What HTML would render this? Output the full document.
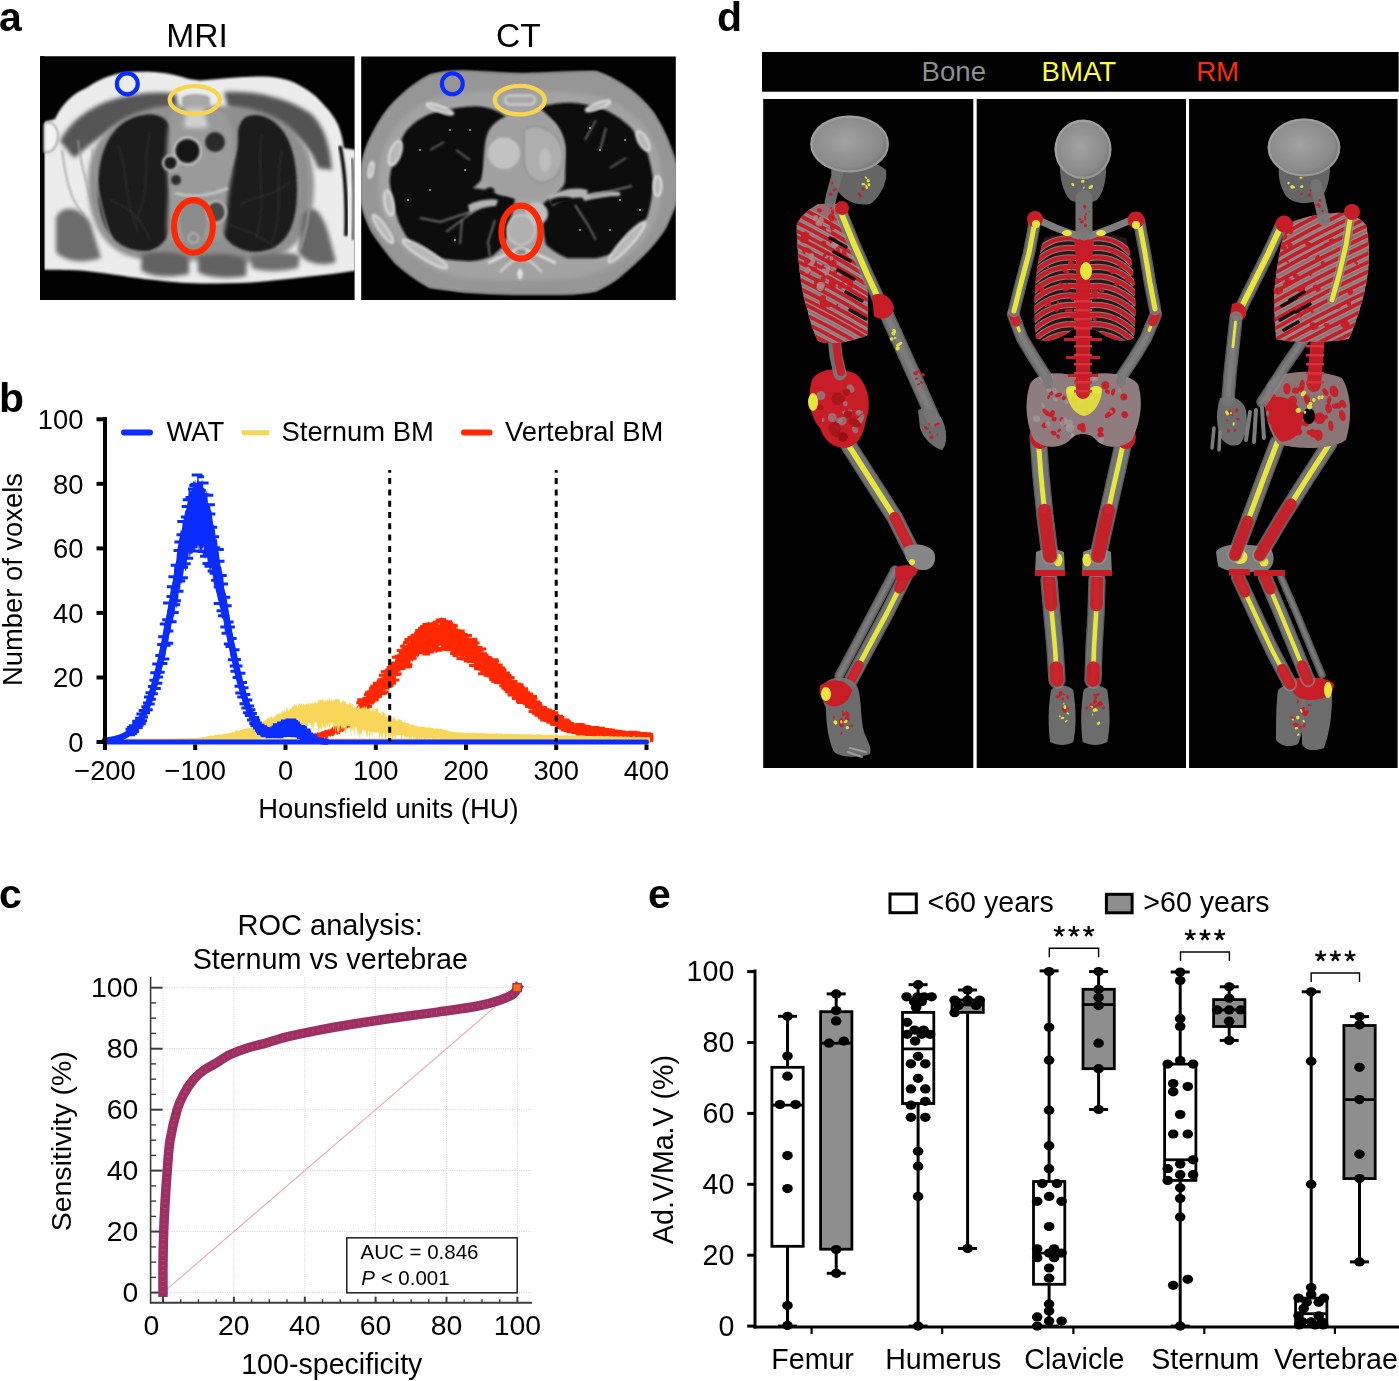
<!DOCTYPE html>
<html><head><meta charset="utf-8"><title>Figure</title>
<style>html,body{margin:0;padding:0;background:#fff;width:1399px;height:1381px;overflow:hidden}svg{display:block;opacity:0.999}text{font-family:"Liberation Sans",sans-serif}</style>
</head><body>
<svg width="1399" height="1381" viewBox="0 0 1399 1381" font-family="Liberation Sans, sans-serif">
<text x="-1.00" y="30.50" font-size="41" text-anchor="start" font-weight="bold" fill="#000" >a</text>
<text x="-1.00" y="411.50" font-size="41" text-anchor="start" font-weight="bold" fill="#000" >b</text>
<text x="-1.00" y="908.00" font-size="41" text-anchor="start" font-weight="bold" fill="#000" >c</text>
<text x="717.00" y="30.50" font-size="41" text-anchor="start" font-weight="bold" fill="#000" >d</text>
<text x="648.00" y="908.00" font-size="41" text-anchor="start" font-weight="bold" fill="#000" >e</text>
<text x="197.00" y="46.60" font-size="33.6" text-anchor="middle" font-weight="normal" fill="#000" >MRI</text>
<text x="518.40" y="46.60" font-size="33.6" text-anchor="middle" font-weight="normal" fill="#000" >CT</text>
<defs>
<clipPath id="cmri"><rect x="40" y="56.3" width="314.6" height="243.7"/></clipPath>
<clipPath id="cct"><rect x="361.2" y="56.6" width="314.6" height="243.4"/></clipPath>
<filter id="b1" x="-20%" y="-20%" width="140%" height="140%"><feGaussianBlur stdDeviation="1.1"/></filter>
<filter id="b2" x="-20%" y="-20%" width="140%" height="140%"><feGaussianBlur stdDeviation="2.2"/></filter>
<filter id="b4" x="-30%" y="-30%" width="160%" height="160%"><feGaussianBlur stdDeviation="4"/></filter>
</defs>
<g clip-path="url(#cmri)"><rect x="40" y="56" width="315" height="244" fill="#000"/><path filter="url(#b1)" fill="#ececec" d="M44,122 L55,119 C62,104 72,94 86,88 C98,80 110,75 120,73.2 C132,71.5 145,71.5 154,72 C168,73 180,76 189,79 L200,80.5 L218,79 C235,77.5 250,76.5 264,76.6 C278,77 290,80 298,84.6 C308,90 315,95 321,101.7 C330,111 335,118 338,124.6 C341,132 343,140 344,148 L356,150 L356,271 L353,271 C340,273 325,275 309,276.6 C290,279 270,281 252,282.4 C235,283.3 215,283.6 200,283.5 C185,283.3 168,281.5 154,280 C140,278.5 130,277 120,275.5 C108,274 96,272 86,271 C72,270 56,269.8 44,269.8 Z"/><rect x="40" y="56" width="4.3" height="244" fill="#000"/><path filter="url(#b1)" fill="none" stroke="#050505" stroke-width="3.5" d="M340,146 C345,170 347,200 346,236"/><path filter="url(#b1)" fill="none" stroke="#333" stroke-width="2" d="M352,158 C354,180 354,210 353,240"/><path filter="url(#b2)" fill="#555555" d="M60,141 C72,118 95,104 118,98 C138,93 160,91 176,94 L178,108 C160,110 138,114 118,126 C100,136 86,148 74,158 Z"/><path filter="url(#b2)" fill="#535353" d="M224,92 C250,90 284,96 310,113 C324,125 330,145 332,170 L318,168 C312,150 300,138 284,128 C266,118 246,112 228,108 Z"/><path filter="url(#b2)" fill="#8f8f8f" d="M88,182 C88,138 116,112 166,106 L232,106 C286,110 314,140 314,186 C314,230 294,260 252,262 L150,260 C108,258 88,228 88,182 Z"/><path filter="url(#b1)" fill="#1c1c1c" d="M98,190 C98,152 110,124 138,116 C158,111 172,118 172,138 C171,158 167,180 171,202 C174,224 170,246 148,251 C118,252 99,232 98,190 Z"/><path filter="url(#b1)" fill="#1c1c1c" d="M297,190 C297,150 286,123 262,116 C244,112 237,122 238,140 C238,160 226,180 219,205 C215,230 228,250 255,252 C285,251 297,228 297,190 Z"/><g stroke="#363636" stroke-width="1.1" fill="none" filter="url(#b1)"><path d="M118,145 C128,170 124,200 138,232"/><path d="M150,132 C142,160 152,190 136,220"/><path d="M110,200 C125,205 140,215 150,240"/><path d="M262,135 C255,165 268,200 256,238"/><path d="M282,150 C274,180 284,210 272,242"/><path d="M240,205 C252,195 268,200 290,182"/><path d="M230,225 C245,230 262,236 275,248"/></g><path filter="url(#b2)" fill="#9a9a9a" d="M172,112 C185,106 212,106 226,114 C236,130 236,160 230,185 C226,205 228,225 222,240 L168,240 C165,220 170,200 168,180 C166,160 166,130 172,112 Z"/><circle filter="url(#b1)" cx="187.5" cy="151" r="14.5" fill="#c4c4c4"/><circle filter="url(#b1)" cx="187.5" cy="151" r="12" fill="#141414"/><circle filter="url(#b1)" cx="170.4" cy="163" r="8.5" fill="#bdbdbd"/><circle filter="url(#b1)" cx="170.4" cy="163" r="6.2" fill="#1a1a1a"/><circle filter="url(#b1)" cx="215" cy="142" r="10" fill="#2c2c2c"/><circle filter="url(#b1)" cx="176" cy="180" r="5" fill="#2a2a2a"/><path filter="url(#b1)" fill="none" stroke="#c8c8c8" stroke-width="2.5" d="M175,193 C190,198 210,196 228,188"/><ellipse filter="url(#b1)" cx="216" cy="212" rx="10" ry="11" fill="#4a4a4a" stroke="#b8b8b8" stroke-width="2"/><path filter="url(#b1)" fill="#a8a8a8" d="M182,97 C190,93 202,93 210,97 L210,106 C202,110 190,110 182,106 Z"/><path filter="url(#b2)" fill="#d0d0d0" d="M186,108 L204,108 L208,128 L184,128 Z"/><ellipse filter="url(#b1)" cx="193.4" cy="222" rx="13" ry="22" fill="#8c8c8c"/><circle filter="url(#b1)" cx="193.4" cy="238" r="5" fill="none" stroke="#b4b4b4" stroke-width="2"/><path filter="url(#b2)" fill="#6c6c6c" d="M56,218 C60,206 78,204 90,222 L101,258 C86,263 66,263 56,252 Z"/><g stroke="#9a9a9a" stroke-width="1.5" fill="none" filter="url(#b1)"><path d="M62,150 C66,180 70,200 84,215"/><path d="M78,140 C82,175 92,205 104,235"/><path d="M92,148 C96,180 100,210 112,240"/></g><path filter="url(#b1)" fill="#f4f4f4" stroke="#8a8a8a" stroke-width="1.5" d="M44,124 C50,120 56,124 58,134 C58,146 52,154 44,152 Z"/><path filter="url(#b2)" fill="#666" d="M303,214 C312,204 320,208 328,232 L336,262 C322,267 306,264 298,252 Z"/><g stroke="#9a9a9a" stroke-width="2" fill="none" filter="url(#b1)"><path d="M306,150 C312,185 312,215 300,250"/></g><path filter="url(#b2)" fill="#626262" d="M142,254 C160,250 182,252 189,258 L189,274 C170,278 150,277 141,270 Z"/><path filter="url(#b2)" fill="#626262" d="M198,256 C215,252 240,254 247,260 L246,276 C228,279 208,278 198,272 Z"/><path filter="url(#b2)" fill="#6e6e6e" d="M250,256 C268,254 290,250 300,256 L298,268 C282,272 262,272 252,268 Z"/><path filter="url(#b1)" fill="none" stroke="#d8d8d8" stroke-width="2" d="M193.5,246 L193.5,282"/></g>
<circle cx="127.3" cy="83.9" r="10.45" fill="none" stroke="#0a2cff" stroke-width="4.2"/>
<ellipse cx="194.7" cy="99.95" rx="25" ry="13.9" fill="none" stroke="#f8d54e" stroke-width="4.3"/>
<ellipse cx="193.4" cy="226.4" rx="19.4" ry="26.3" fill="none" stroke="#ff2800" stroke-width="6.1"/>
<g clip-path="url(#cct)"><rect x="361" y="56" width="315" height="244" fill="#000"/><path filter="url(#b1)" fill="#969696" d="M361,170 C364,155 367,145 372,136 C379,122 386,111 395,102 C405,92 417,82 430,75.4 C442,72 453,71.3 464,71.4 C483,71.8 502,74 521,74.3 C531,74 540,73.4 550,73.2 C565,72.6 582,71.6 596,72 C608,76 620,83 630,90 C639,97 647,105 653,113 C660,124 666,136 670,147.5 C673,155 675,162 677,170 L677,199 C673,210 669,219 665,227.5 C660,236 654,243 647.5,250 C639,259 629,268 619,276.6 C612,282 604,286.5 596,290.4 C585,292.5 574,293.5 562,293.8 L516,293.8 C499,293.6 481,292.8 464,291.5 C452,290 441,288.5 430,287 C417,280 405,271 395,262 C387,252 379,242 372,231 C367,221 363,210 361,199 Z"/><path filter="url(#b1)" fill="none" stroke="#a9a9a9" stroke-width="2" d="M361,170 C364,155 367,145 372,136 C379,122 386,111 395,102 C405,92 417,82 430,75.4 C442,72 453,71.3 464,71.4 C483,71.8 502,74 521,74.3 C531,74 540,73.4 550,73.2 C565,72.6 582,71.6 596,72 C608,76 620,83 630,90 C639,97 647,105 653,113 C660,124 666,136 670,147.5 C673,155 675,162 677,170 L677,199 C673,210 669,219 665,227.5 C660,236 654,243 647.5,250 C639,259 629,268 619,276.6 C612,282 604,286.5 596,290.4 C585,292.5 574,293.5 562,293.8 L516,293.8 C499,293.6 481,292.8 464,291.5 C452,290 441,288.5 430,287 C417,280 405,271 395,262 C387,252 379,242 372,231 C367,221 363,210 361,199 Z"/><path filter="url(#b2)" fill="#a3a3a3" d="M378,185 C378,140 400,110 440,97 C480,88 560,88 600,97 C640,110 662,140 662,185 C662,230 635,262 585,276 C550,282 490,282 455,276 C405,262 378,230 378,185 Z"/><path filter="url(#b1)" fill="#0f0f0f" d="M389.6,182 C390,172 392,165 395.3,159 C398,148 401,138 406.7,130.3 C416,120 428,113 441,110.9 C452,108.5 464,106.5 475.4,106.3 C488,106.5 500,111 509.7,120 C503,126 497,131 492.5,136 C489,144 487.5,151 486.8,159 C485,166 483,173 481,180 C478,184 475,186 473,188 L487,190 C497,192 507,195 515,199 C512,215 509,231 504,244.6 C500,250 496,253 492.5,256 C485,259 477,261 469.6,261.2 C460,261 450,260 441,258.3 C431,255 421,250 412.5,244.6 C406,237 402,229 398.7,221.7 C394,208 391,195 389.6,182 Z"/><path filter="url(#b1)" fill="#0f0f0f" d="M538.9,107.5 C550,104 562,102.5 573.2,102.9 C585,103.5 597,106.5 607.5,110.9 C616,115 624,121 630.4,127 C637,135 643,144 647.5,153.2 C650,162 652,171 653.2,180 C653,192 651,204 647.5,216 C641,228 633,239 624.6,248 C615,253 606,256 596,258.3 L567.5,258.3 C559,255 552,250 545.7,244.6 C543,231 542,217 542.3,204.6 C548,199 556,195 560,190 C563,187 565,184 565.2,180 L565.2,147.5 C563,139 560,131 556,124.6 C551,118 545,112 538.9,107.5 Z"/><path filter="url(#b1)" fill="#a0a0a0" d="M488,132 C495,118 515,110 535,112 C552,116 563,128 565,145 C566,165 562,182 552,192 C540,200 520,198 505,196 C492,194 482,186 483,170 C484,155 484,142 488,132 Z"/><circle filter="url(#b1)" cx="504" cy="153.2" r="16" fill="#c2c2c2"/><path filter="url(#b1)" fill="#aeaeae" stroke="#959595" stroke-width="2" d="M524,130 C535,122 556,128 562,148 C566,165 558,178 546,182 C535,184 526,176 524,162 Z"/><ellipse filter="url(#b1)" cx="545" cy="160" rx="6" ry="12" fill="#bdbdbd"/><ellipse filter="url(#b1)" cx="490" cy="191" rx="4.5" ry="3.5" fill="#080808"/><circle filter="url(#b1)" cx="536.6" cy="213.7" r="11.4" fill="#bebebe"/><g filter="url(#b1)" fill="#b2b2b2"><path d="M548,196 C560,190 575,186 588,190 L586,198 C574,196 562,200 552,206 Z"/><path d="M582,195 C596,192 610,190 620,192 L620,196 C608,196 596,198 584,201 Z"/><path d="M468,205 C478,200 490,198 498,200 L496,206 C486,206 476,210 470,214 Z"/></g><g filter="url(#b1)" fill="#0a0a0a"><path d="M550,200 C558,196 566,196 572,198 L570,202 C562,202 556,204 550,206 Z"/></g><ellipse filter="url(#b1)" cx="521" cy="230" rx="14" ry="15" fill="#b0b0b0" stroke="#d0d0d0" stroke-width="1.5"/><path filter="url(#b1)" fill="none" stroke="#dadada" stroke-width="3" d="M488,263 C503,256 513,250 521,249 C529,250 541,256 556,263"/><path filter="url(#b1)" fill="none" stroke="#d4d4d4" stroke-width="2.2" d="M500,272 C510,262 516,258 521,256 C526,258 532,262 542,272"/><ellipse filter="url(#b1)" cx="521" cy="252" rx="6" ry="4" fill="#8e8e8e" stroke="#d0d0d0" stroke-width="1.6"/><ellipse filter="url(#b1)" cx="520" cy="274" rx="2.8" ry="5.5" fill="#dedede"/><rect filter="url(#b1)" x="505" y="95.5" width="30" height="9" rx="4.5" fill="#a8a8a8" stroke="#dedede" stroke-width="1.6"/><path filter="url(#b1)" fill="none" stroke="#9a9a9a" stroke-width="2" d="M520,104 L520,114"/><ellipse filter="url(#b1)" cx="395.3" cy="153.2" rx="5.5" ry="13" fill="#b8b8b8" stroke="#e2e2e2" stroke-width="1.8" transform="rotate(20 395.3 153.2)"/><ellipse filter="url(#b1)" cx="389" cy="203" rx="4.5" ry="12.5" fill="#b8b8b8" stroke="#e2e2e2" stroke-width="1.8" transform="rotate(-10 389 203)"/><ellipse filter="url(#b1)" cx="383" cy="229" rx="4" ry="17" fill="#b8b8b8" stroke="#e2e2e2" stroke-width="1.8" transform="rotate(-35 383 229)"/><ellipse filter="url(#b1)" cx="425" cy="254" rx="5" ry="26" fill="#b8b8b8" stroke="#e2e2e2" stroke-width="1.8" transform="rotate(-58 425 254)"/><ellipse filter="url(#b1)" cx="627" cy="242" rx="5" ry="27" fill="#b8b8b8" stroke="#e2e2e2" stroke-width="1.8" transform="rotate(42 627 242)"/><ellipse filter="url(#b1)" cx="657.5" cy="186" rx="4" ry="10" fill="#b8b8b8" stroke="#e2e2e2" stroke-width="1.8" transform="rotate(0 657.5 186)"/><ellipse filter="url(#b1)" cx="643" cy="141" rx="4.5" ry="11" fill="#b8b8b8" stroke="#e2e2e2" stroke-width="1.8" transform="rotate(-30 643 141)"/><ellipse filter="url(#b1)" cx="440" cy="109" rx="3" ry="14" fill="#b8b8b8" stroke="#e2e2e2" stroke-width="1.8" transform="rotate(-70 440 109)"/><ellipse filter="url(#b1)" cx="598" cy="106" rx="3" ry="13" fill="#b8b8b8" stroke="#e2e2e2" stroke-width="1.8" transform="rotate(70 598 106)"/><ellipse filter="url(#b1)" cx="371" cy="170" rx="2.5" ry="8" fill="#b8b8b8" stroke="#e2e2e2" stroke-width="1.8" transform="rotate(10 371 170)"/><g stroke="#8a8a8a" stroke-width="1.4" fill="none" filter="url(#b1)"><path d="M478,208 L462,220 L446,232 M462,220 L460,244 M470,212 L440,222 L420,218 M495,220 L488,242 L490,256"/><path d="M575,205 L588,225 L596,240 M590,196 L615,190 L632,186 M600,150 L606,128 M610,168 L626,158 M585,140 L596,120 M456,150 L470,160 M430,150 L444,142"/></g><g fill="#9a9a9a"><circle cx="420" cy="150" r="1.1"/><circle cx="450" cy="130" r="1.1"/><circle cx="465" cy="170" r="1.1"/><circle cx="430" cy="190" r="1.1"/><circle cx="455" cy="240" r="1.1"/><circle cx="600" cy="150" r="1.1"/><circle cx="620" cy="200" r="1.1"/><circle cx="640" cy="210" r="1.1"/><circle cx="580" cy="230" r="1.1"/><circle cx="610" cy="230" r="1.1"/><circle cx="590" cy="128" r="1.1"/><circle cx="625" cy="140" r="1.1"/><circle cx="408" cy="200" r="1.1"/><circle cx="470" cy="130" r="1.1"/></g></g>
<circle cx="452.3" cy="83.8" r="10.45" fill="none" stroke="#0a2cff" stroke-width="4.2"/>
<ellipse cx="519.8" cy="100.1" rx="25" ry="14.2" fill="none" stroke="#f8d54e" stroke-width="4.3"/>
<ellipse cx="521" cy="232.1" rx="19.6" ry="26.5" fill="none" stroke="#ff2800" stroke-width="6.1"/>
<polygon points="299.0,738.5 299.9,738.1 300.8,737.5 301.7,738.4 302.6,737.8 303.5,736.2 304.5,736.2 305.4,736.3 306.3,736.1 307.2,736.0 308.1,735.4 309.0,735.0 309.9,735.6 310.8,734.1 311.7,734.1 312.6,733.8 313.5,734.2 314.4,733.8 315.3,732.6 316.2,733.9 317.1,731.9 318.0,732.4 318.9,732.5 319.8,732.6 320.7,732.0 321.6,731.6 322.5,731.0 323.4,731.2 324.3,730.5 325.2,730.0 326.1,730.1 327.0,729.4 327.9,730.2 328.8,728.5 329.7,729.8 330.6,728.7 331.5,728.5 332.4,726.7 333.3,726.9 334.2,726.2 335.1,725.4 336.0,726.0 336.9,726.1 337.8,725.1 338.7,725.9 339.6,724.6 340.6,725.6 341.5,724.4 342.4,722.2 343.3,722.6 344.2,721.4 345.1,720.7 346.0,718.8 346.9,719.3 347.8,719.0 348.7,716.0 349.6,716.5 350.5,716.1 351.4,716.7 352.3,714.3 353.2,713.9 354.1,712.7 355.0,711.2 355.9,711.8 356.8,707.8 357.7,707.4 358.6,704.4 359.5,703.6 360.4,702.2 361.3,701.5 362.2,699.1 363.1,699.1 364.0,699.2 364.9,696.2 365.8,697.6 366.7,694.3 367.6,694.6 368.5,691.1 369.4,689.7 370.3,690.7 371.2,686.9 372.1,688.7 373.0,686.2 373.9,683.9 374.8,685.9 375.8,682.2 376.7,681.5 377.6,684.2 378.5,680.1 379.4,681.3 380.3,679.8 381.2,676.0 382.1,679.4 383.0,673.6 383.9,674.6 384.8,670.7 385.7,670.4 386.6,669.7 387.5,670.7 388.4,670.3 389.3,667.6 390.2,665.5 391.1,663.9 392.0,662.4 392.9,661.1 393.8,664.7 394.7,662.1 395.6,657.4 396.5,657.1 397.4,654.1 398.3,654.6 399.2,651.5 400.1,650.7 401.0,648.0 401.9,649.2 402.8,643.0 403.7,642.8 404.6,643.6 405.5,646.9 406.4,644.6 407.3,642.7 408.2,639.2 409.1,643.3 410.0,641.7 410.9,634.4 411.8,639.8 412.8,636.9 413.7,635.5 414.6,632.6 415.5,634.5 416.4,634.0 417.3,628.5 418.2,632.5 419.1,629.5 420.0,625.6 420.9,624.9 421.8,627.7 422.7,627.0 423.6,627.4 424.5,626.8 425.4,626.0 426.3,629.4 427.2,626.3 428.1,621.9 429.0,621.9 429.9,626.6 430.8,627.4 431.7,622.8 432.6,621.4 433.5,621.5 434.4,626.3 435.3,626.7 436.2,620.2 437.1,625.4 438.0,618.7 438.9,625.4 439.8,624.3 440.7,619.5 441.6,617.0 442.5,618.1 443.4,618.1 444.3,618.4 445.2,618.5 446.1,624.5 447.0,620.9 447.9,624.1 448.9,624.6 449.8,621.2 450.7,625.0 451.6,625.8 452.5,628.6 453.4,622.4 454.3,624.9 455.2,626.1 456.1,627.1 457.0,629.3 457.9,626.9 458.8,633.8 459.7,628.2 460.6,632.5 461.5,635.1 462.4,635.6 463.3,635.2 464.2,632.9 465.1,636.3 466.0,635.7 466.9,634.9 467.8,638.1 468.7,636.8 469.6,639.7 470.5,639.3 471.4,641.4 472.3,639.8 473.2,640.7 474.1,639.1 475.0,642.5 475.9,640.8 476.8,642.7 477.7,645.5 478.6,648.1 479.5,646.2 480.4,646.0 481.3,651.4 482.2,652.4 483.1,649.0 484.1,653.9 485.0,654.5 485.9,652.7 486.8,657.6 487.7,657.2 488.6,656.1 489.5,660.4 490.4,658.4 491.3,660.4 492.2,656.4 493.1,659.3 494.0,661.4 494.9,663.0 495.8,658.8 496.7,659.3 497.6,661.1 498.5,664.8 499.4,663.6 500.3,666.7 501.2,663.7 502.1,667.2 503.0,668.4 503.9,668.3 504.8,670.2 505.7,670.8 506.6,674.4 507.5,673.0 508.4,672.6 509.3,676.8 510.2,676.5 511.1,677.3 512.0,680.0 512.9,682.2 513.8,679.7 514.7,680.7 515.6,683.8 516.5,681.7 517.4,684.1 518.3,683.5 519.2,686.2 520.1,685.7 521.1,687.0 522.0,688.6 522.9,689.3 523.8,686.8 524.7,690.3 525.6,690.0 526.5,689.1 527.4,690.9 528.3,692.7 529.2,693.1 530.1,695.4 531.0,694.0 531.9,695.0 532.8,695.4 533.7,698.0 534.6,698.8 535.5,699.6 536.4,699.9 537.3,701.9 538.2,705.1 539.1,703.5 540.0,704.9 540.9,706.9 541.8,708.3 542.7,706.9 543.6,707.8 544.5,707.3 545.4,708.2 546.3,711.1 547.2,710.8 548.1,710.1 549.0,711.1 549.9,710.3 550.8,710.2 551.7,710.5 552.6,711.6 553.5,711.9 554.4,712.3 555.3,713.1 556.2,715.7 557.2,716.4 558.1,716.7 559.0,715.7 559.9,717.1 560.8,718.1 561.7,717.4 562.6,719.6 563.5,718.7 564.4,720.2 565.3,720.2 566.2,722.3 567.1,720.7 568.0,722.1 568.9,723.2 569.8,723.1 570.7,724.5 571.6,724.5 572.5,725.1 573.4,724.3 574.3,723.7 575.2,724.6 576.1,725.7 577.0,725.3 577.9,724.8 578.8,724.6 579.7,726.0 580.6,724.6 581.5,724.6 582.4,724.4 583.3,726.3 584.2,725.1 585.1,726.4 586.0,725.8 586.9,726.2 587.8,727.7 588.7,727.6 589.6,728.0 590.5,726.2 591.4,726.2 592.3,726.7 593.3,726.6 594.2,728.2 595.1,726.9 596.0,728.5 596.9,729.1 597.8,728.7 598.7,727.4 599.6,727.9 600.5,727.7 601.4,727.6 602.3,728.9 603.2,728.2 604.1,729.5 605.0,728.6 605.9,728.7 606.8,729.4 607.7,729.0 608.6,729.7 609.5,729.4 610.4,730.6 611.3,729.8 612.2,729.5 613.1,729.6 614.0,731.0 614.9,731.7 615.8,729.9 616.7,730.9 617.6,732.2 618.5,731.9 619.4,732.3 620.3,731.4 621.2,732.3 622.1,732.4 623.0,732.1 623.9,731.8 624.8,732.0 625.7,732.8 626.6,731.4 627.5,733.2 628.4,732.9 629.4,733.2 630.3,733.0 631.2,732.2 632.1,732.0 633.0,733.0 633.9,732.9 634.8,732.1 635.7,732.3 636.6,732.9 637.5,732.6 638.4,733.5 639.3,734.2 640.2,732.9 641.1,733.2 642.0,734.1 642.9,732.6 643.8,733.9 644.7,734.4 645.6,733.0 646.5,733.2 647.4,733.8 648.3,734.0 649.2,733.2 650.1,733.2 650.1,740.9 649.2,740.0 648.3,740.9 647.4,739.9 646.5,739.7 645.6,740.2 644.7,741.2 643.8,741.3 642.9,740.8 642.0,740.7 641.1,740.1 640.2,740.4 639.3,740.0 638.4,740.1 637.5,740.9 636.6,740.0 635.7,740.5 634.8,739.6 633.9,740.5 633.0,739.4 632.1,738.8 631.2,739.2 630.3,738.7 629.4,739.4 628.4,738.5 627.5,738.3 626.6,740.0 625.7,740.1 624.8,739.8 623.9,738.5 623.0,738.4 622.1,738.8 621.2,737.9 620.3,739.8 619.4,738.4 618.5,739.6 617.6,738.2 616.7,739.2 615.8,739.1 614.9,738.3 614.0,738.3 613.1,737.3 612.2,737.8 611.3,736.7 610.4,736.7 609.5,738.2 608.6,736.6 607.7,738.1 606.8,737.7 605.9,737.1 605.0,736.5 604.1,737.3 603.2,736.5 602.3,737.0 601.4,736.6 600.5,736.1 599.6,735.6 598.7,736.9 597.8,735.6 596.9,736.2 596.0,735.0 595.1,736.7 594.2,735.4 593.3,736.6 592.3,734.4 591.4,735.3 590.5,735.8 589.6,734.6 588.7,735.9 587.8,735.7 586.9,735.7 586.0,733.2 585.1,735.2 584.2,733.8 583.3,734.5 582.4,734.3 581.5,733.7 580.6,734.1 579.7,734.5 578.8,733.6 577.9,734.0 577.0,734.1 576.1,731.8 575.2,733.1 574.3,733.9 573.4,732.9 572.5,733.7 571.6,732.3 570.7,733.0 569.8,732.5 568.9,732.1 568.0,731.7 567.1,731.5 566.2,730.9 565.3,730.4 564.4,729.1 563.5,729.1 562.6,727.1 561.7,728.0 560.8,727.4 559.9,726.3 559.0,726.1 558.1,725.8 557.2,726.2 556.2,726.2 555.3,724.4 554.4,724.1 553.5,722.1 552.6,723.5 551.7,721.9 550.8,721.9 549.9,723.1 549.0,720.3 548.1,719.8 547.2,722.4 546.3,721.3 545.4,720.0 544.5,721.2 543.6,717.9 542.7,719.1 541.8,718.4 540.9,717.6 540.0,717.2 539.1,716.3 538.2,714.5 537.3,713.9 536.4,714.0 535.5,713.9 534.6,710.5 533.7,711.2 532.8,711.1 531.9,708.2 531.0,710.9 530.1,709.2 529.2,707.1 528.3,707.9 527.4,707.4 526.5,704.0 525.6,703.3 524.7,705.2 523.8,702.2 522.9,704.4 522.0,703.2 521.1,700.1 520.1,700.1 519.2,701.4 518.3,701.2 517.4,701.2 516.5,701.6 515.6,699.3 514.7,698.8 513.8,697.1 512.9,695.5 512.0,697.4 511.1,695.2 510.2,693.8 509.3,692.1 508.4,694.3 507.5,693.5 506.6,688.5 505.7,689.0 504.8,690.6 503.9,686.9 503.0,687.9 502.1,688.4 501.2,684.4 500.3,683.1 499.4,682.1 498.5,682.1 497.6,680.9 496.7,682.6 495.8,683.6 494.9,678.4 494.0,679.2 493.1,682.2 492.2,680.1 491.3,678.5 490.4,678.7 489.5,679.0 488.6,676.3 487.7,677.7 486.8,674.0 485.9,678.1 485.0,675.2 484.1,671.5 483.1,670.5 482.2,671.0 481.3,673.1 480.4,672.4 479.5,666.7 478.6,667.5 477.7,670.0 476.8,664.2 475.9,667.2 475.0,664.2 474.1,664.6 473.2,661.9 472.3,662.8 471.4,659.3 470.5,660.2 469.6,662.6 468.7,662.0 467.8,664.1 466.9,661.9 466.0,657.2 465.1,658.0 464.2,655.8 463.3,660.8 462.4,657.7 461.5,659.6 460.6,655.7 459.7,656.6 458.8,654.3 457.9,658.3 457.0,653.9 456.1,654.2 455.2,651.7 454.3,655.7 453.4,653.1 452.5,651.8 451.6,651.9 450.7,651.5 449.8,650.9 448.9,648.6 447.9,651.7 447.0,646.0 446.1,649.7 445.2,644.3 444.3,650.8 443.4,647.6 442.5,651.7 441.6,647.4 440.7,645.5 439.8,645.6 438.9,645.9 438.0,651.5 437.1,652.4 436.2,653.1 435.3,652.6 434.4,649.3 433.5,649.7 432.6,649.2 431.7,647.7 430.8,648.6 429.9,651.6 429.0,649.3 428.1,652.9 427.2,649.1 426.3,653.0 425.4,651.0 424.5,654.8 423.6,651.4 422.7,651.6 421.8,654.3 420.9,652.5 420.0,654.8 419.1,653.6 418.2,657.5 417.3,656.7 416.4,656.1 415.5,658.7 414.6,659.4 413.7,658.2 412.8,661.6 411.8,661.1 410.9,659.5 410.0,666.1 409.1,666.6 408.2,668.3 407.3,665.8 406.4,666.1 405.5,668.5 404.6,665.0 403.7,671.3 402.8,666.5 401.9,667.6 401.0,668.5 400.1,673.8 399.2,671.2 398.3,672.1 397.4,676.9 396.5,674.6 395.6,678.7 394.7,681.5 393.8,680.2 392.9,682.5 392.0,681.9 391.1,684.1 390.2,688.7 389.3,688.0 388.4,689.8 387.5,688.9 386.6,688.7 385.7,687.9 384.8,692.3 383.9,689.5 383.0,690.4 382.1,691.7 381.2,696.8 380.3,696.5 379.4,697.4 378.5,698.9 377.6,699.5 376.7,699.8 375.8,698.8 374.8,701.2 373.9,699.3 373.0,703.2 372.1,704.4 371.2,703.9 370.3,704.0 369.4,707.2 368.5,707.1 367.6,708.6 366.7,710.5 365.8,710.2 364.9,711.9 364.0,712.8 363.1,711.5 362.2,714.9 361.3,714.0 360.4,714.0 359.5,716.2 358.6,717.5 357.7,718.4 356.8,718.2 355.9,722.8 355.0,721.9 354.1,724.2 353.2,724.7 352.3,726.3 351.4,725.0 350.5,725.7 349.6,728.0 348.7,727.1 347.8,728.4 346.9,727.9 346.0,729.3 345.1,729.7 344.2,730.4 343.3,731.3 342.4,732.3 341.5,731.3 340.6,732.0 339.6,734.2 338.7,733.7 337.8,734.8 336.9,734.9 336.0,732.9 335.1,733.3 334.2,735.2 333.3,736.2 332.4,736.6 331.5,735.2 330.6,737.0 329.7,735.9 328.8,735.8 327.9,738.2 327.0,737.4 326.1,738.6 325.2,738.1 324.3,737.5 323.4,739.4 322.5,737.9 321.6,738.2 320.7,738.3 319.8,739.2 318.9,739.7 318.0,740.1 317.1,740.0 316.2,740.6 315.3,741.1 314.4,739.6 313.5,740.1 312.6,740.1 311.7,740.4 310.8,741.5 309.9,742.0 309.0,741.8 308.1,742.0 307.2,742.0 306.3,741.9 305.4,742.0 304.5,742.0 303.5,742.0 302.6,742.0 301.7,742.0 300.8,742.0 299.9,742.0 299.0,742.0" fill="#ff2800"/>
<path d="M359.5,709.3 L360.4,708.0 L361.3,707.1 L362.2,706.6 L363.1,705.9 L364.0,705.1 L364.9,704.1 L365.8,703.1 L366.7,702.0 L367.6,700.8 L368.5,699.7 L369.4,698.5 L370.3,697.3 L371.2,696.2 L372.1,695.1 L373.0,694.0 L373.9,693.1 L374.8,692.3 L375.8,691.6 L376.7,691.0 L377.6,690.4 L378.5,689.7 L379.4,688.8 L380.3,687.7 L381.2,686.6 L382.1,685.4 L383.0,684.2 L383.9,683.0 L384.8,681.9 L385.7,680.7 L386.6,679.7 L387.5,678.8 L388.4,678.0 L389.3,677.5 L390.2,676.7 L391.1,675.7 L392.0,674.5 L392.9,673.2 L393.8,671.8 L394.7,670.2 L395.6,668.6 L396.5,667.0 L397.4,665.3 L398.3,663.7 L399.2,662.2 L400.1,660.7 L401.0,659.4 L401.9,658.2 L402.8,657.3 L403.7,656.5 L404.6,656.0 L405.5,655.4 L406.4,654.7 L407.3,653.9 L408.2,653.0 L409.1,652.0 L410.0,651.0 L410.9,650.0 L411.8,648.9 L412.8,647.9 L413.7,646.8 L414.6,645.8 L415.5,644.8 L416.4,643.9 L417.3,643.0 L418.2,642.2 L419.1,641.4 L420.0,640.8 L420.9,640.3 L421.8,640.2 L422.7,640.0 L423.6,639.9 L424.5,639.6 L425.4,639.4 L426.3,639.2 L427.2,638.9 L428.1,638.6 L429.0,638.3 L429.9,638.0 L430.8,637.7 L431.7,637.4 L432.6,637.1 L433.5,636.8 L434.4,636.5 L435.3,636.2 L436.2,635.9 L437.1,635.6 L438.0,635.3 L438.9,635.1 L439.8,634.8 L440.7,634.6 L441.6,634.4 L442.5,634.2 L443.4,634.0 L444.3,633.9 L445.2,634.2 L446.1,634.6 L447.0,635.0 L447.9,635.5 L448.9,636.1 L449.8,636.6 L450.7,637.3 L451.6,637.9 L452.5,638.6 L453.4,639.3 L454.3,640.0 L455.2,640.7 L456.1,641.4 L457.0,642.1 L457.9,642.8 L458.8,643.4 L459.7,644.1 L460.6,644.7 L461.5,645.3 L462.4,645.8 L463.3,646.3 L464.2,646.8 L465.1,647.1 L466.0,647.4 L466.9,647.9 L467.8,648.3 L468.7,648.9 L469.6,649.5 L470.5,650.1 L471.4,650.8 L472.3,651.6 L473.2,652.4 L474.1,653.2 L475.0,654.0 L475.9,654.9 L476.8,655.8 L477.7,656.7 L478.6,657.7 L479.5,658.6 L480.4,659.5 L481.3,660.4 L482.2,661.3 L483.1,662.2 L484.1,663.1 L485.0,664.0 L485.9,664.8 L486.8,665.6 L487.7,666.3 L488.6,667.0 L489.5,667.7 L490.4,668.3 L491.3,668.8 L492.2,669.3 L493.1,669.7 L494.0,670.2 L494.9,670.7 L495.8,671.2 L496.7,671.9 L497.6,672.6 L498.5,673.3 L499.4,674.1 L500.3,675.0 L501.2,675.9 L502.1,676.8 L503.0,677.7 L503.9,678.7 L504.8,679.7 L505.7,680.7 L506.6,681.7 L507.5,682.6 L508.4,683.6 L509.3,684.6 L510.2,685.6 L511.1,686.5 L512.0,687.4 L512.9,688.3 L513.8,689.2 L514.7,690.0 L515.6,690.7 L516.5,691.4 L517.4,692.1 L518.3,692.6 L519.2,693.2 L520.1,693.6 L521.1,694.0 L522.0,694.5 L522.9,695.0 L523.8,695.6 L524.7,696.3 L525.6,697.0 L526.5,697.8 L527.4,698.6 L528.3,699.4 L529.2,700.3 L530.1,701.2 L531.0,702.1 L531.9,703.0 L532.8,703.9 L533.7,704.9 L534.6,705.8 L535.5,706.7 L536.4,707.6 L537.3,708.5 L538.2,709.4 L539.1,710.2 L540.0,711.0 L540.9,711.8 L541.8,712.5 L542.7,713.2 L543.6,713.8 L544.5,714.3 L545.4,714.8 L546.3,715.2 L547.2,715.5 L548.1,715.7 L549.0,716.1 L549.9,716.4 L550.8,716.8 L551.7,717.2 L552.6,717.7 L553.5,718.1 L554.4,718.6 L555.3,719.1 L556.2,719.7 L557.2,720.2 L558.1,720.7 L559.0,721.3 L559.9,721.8 L560.8,722.4 L561.7,722.9 L562.6,723.5 L563.5,724.0 L564.4,724.5 L565.3,725.0 L566.2,725.5 L567.1,726.0 L568.0,726.4 L568.9,726.9 L569.8,727.2 L570.7,727.6 L571.6,727.9 L572.5,728.2 L573.4,728.4 L574.3,728.5 L575.2,728.6 L576.1,728.7 L577.0,728.8 L577.9,728.9 L578.8,729.1 L579.7,729.2 L580.6,729.3 L581.5,729.5 L582.4,729.6 L583.3,729.8 L584.2,730.0 L585.1,730.1 L586.0,730.3 L586.9,730.5 L587.8,730.6 L588.7,730.8 L589.6,731.0 L590.5,731.1 L591.4,731.3 L592.3,731.4 L593.3,731.6 L594.2,731.7 L595.1,731.8 L596.0,732.0 L596.9,732.1 L597.8,732.2 L598.7,732.2 L599.6,732.3 L600.5,732.4 L601.4,732.5 L602.3,732.6 L603.2,732.7 L604.1,732.8 L605.0,732.9 L605.9,733.0 L606.8,733.1 L607.7,733.3 L608.6,733.4 L609.5,733.6 L610.4,733.7 L611.3,733.9 L612.2,734.0 L613.1,734.2 L614.0,734.3 L614.9,734.4 L615.8,734.6 L616.7,734.7 L617.6,734.9 L618.5,735.0 L619.4,735.1 L620.3,735.2 L621.2,735.3 L622.1,735.4 L623.0,735.5 L623.9,735.5 L624.8,735.6 L625.7,735.6 L626.6,735.7 L627.5,735.7 L628.4,735.8 L629.4,735.9 L630.3,735.9 L631.2,736.0 L632.1,736.1 L633.0,736.1 L633.9,736.2 L634.8,736.3 L635.7,736.4 L636.6,736.5 L637.5,736.6 L638.4,736.6 L639.3,736.7 L640.2,736.8 L641.1,736.9 L642.0,737.0 L642.9,737.0 L643.8,737.1 L644.7,737.2 L645.6,737.2 L646.5,737.3 L647.4,737.4 L648.3,737.4 L649.2,737.4 L650.1,737.5" fill="none" stroke="#ff2800" stroke-width="7" stroke-linejoin="round" stroke-linecap="round"/>
<path d="M356.3,702.7h6.3M356.3,715.8h6.3M357.2,699.8h8.1M357.2,714.5h8.1M359.0,700.2h8.2M359.0,711.5h8.2M362.3,698.6h5.2M362.3,709.6h5.2M363.8,694.8h5.9M363.8,709.2h5.9M365.0,692.8h7.1M365.0,706.5h7.1M366.6,691.7h7.5M366.6,703.0h7.5M368.9,688.5h6.4M368.9,701.6h6.4M370.2,686.2h7.5M370.2,700.0h7.5M372.8,683.2h5.9M372.8,699.9h5.9M374.6,684.1h5.9M374.6,696.8h5.9M376.8,681.2h5.2M376.8,696.3h5.2M377.4,679.8h7.6M377.4,693.5h7.6M378.8,675.3h8.3M378.8,693.2h8.3M380.8,671.7h8.0M380.8,692.0h8.0M383.8,671.5h5.5M383.8,687.9h5.5M385.1,669.9h6.5M385.1,686.2h6.5M386.8,667.6h6.8M386.8,685.7h6.8M388.1,665.9h7.9M388.1,683.2h7.9M390.5,663.2h6.5M390.5,680.3h6.5M391.7,657.3h7.7M391.7,679.9h7.7M394.5,656.2h5.7M394.5,674.5h5.7M396.7,650.5h4.9M396.7,673.9h4.9M397.6,650.5h6.8M397.6,668.4h6.8M400.1,646.3h5.5M400.1,668.2h5.5M401.8,647.1h5.6M401.8,664.9h5.6M403.2,642.4h6.5M403.2,667.0h6.5M404.4,639.5h7.6M404.4,666.5h7.6M407.5,637.3h5.0M407.5,664.7h5.0M409.4,638.9h4.9M409.4,659.0h4.9M410.6,635.4h6.1M410.6,658.3h6.1M412.1,635.1h6.8M412.1,654.5h6.8M414.3,632.9h6.0M414.3,653.1h6.0M415.2,630.4h7.7M415.2,652.4h7.7M418.0,628.4h5.8M418.0,652.3h5.8M419.5,630.0h6.4M419.5,650.1h6.4M420.9,626.5h7.3M420.9,652.8h7.3M422.4,624.5h7.7M422.4,653.9h7.7M425.4,627.4h5.4M425.4,649.9h5.4M426.1,624.0h7.7M426.1,652.1h7.7M427.8,624.7h7.8M427.8,650.2h7.8M430.6,623.8h5.9M430.6,649.8h5.9M432.8,625.2h5.0M432.8,647.2h5.0M433.1,622.0h8.0M433.1,649.3h8.0M435.7,620.0h6.5M435.7,650.2h6.5M436.7,620.7h8.2M436.7,648.5h8.2M439.0,619.5h7.0M439.0,648.9h7.0M441.0,621.3h6.7M441.0,646.5h6.7M443.4,623.4h5.5M443.4,645.8h5.5M443.8,621.7h8.4M443.8,649.4h8.4M446.6,623.6h6.3M446.6,649.7h6.3M448.3,626.1h6.5M448.3,649.8h6.5M450.1,625.2h6.5M450.1,653.4h6.5M452.4,625.9h5.4M452.4,655.5h5.4M453.6,630.8h6.7M453.6,653.4h6.7M454.8,631.8h7.9M454.8,655.1h7.9M456.5,631.0h8.2M456.5,658.4h8.2M459.9,633.4h5.0M459.9,658.3h5.0M460.8,634.6h6.8M460.8,658.9h6.8M463.1,635.8h5.9M463.1,659.1h5.9M463.8,635.6h8.1M463.8,661.0h8.1M466.0,639.9h7.2M466.0,659.1h7.2M468.1,640.0h6.7M468.1,661.6h6.7M469.1,639.2h8.3M469.1,665.5h8.3M472.2,642.3h5.6M472.2,665.8h5.6M474.1,642.9h5.5M474.1,668.7h5.5M474.7,647.4h7.8M474.7,667.9h7.8M477.5,649.7h5.8M477.5,669.3h5.8M478.1,648.9h8.2M478.1,673.7h8.2M480.9,653.7h6.3M480.9,672.6h6.3M483.2,655.6h5.4M483.2,674.0h5.4M483.5,657.4h8.3M483.5,675.2h8.3M486.6,659.6h5.7M486.6,675.8h5.7M488.7,660.3h5.2M488.7,677.3h5.2M489.3,660.0h7.5M489.3,679.4h7.5M491.3,659.8h7.1M491.3,681.6h7.1M494.2,661.2h4.9M494.2,682.6h4.9M494.4,664.9h8.3M494.4,681.8h8.3M497.4,667.5h5.8M497.4,682.5h5.8M499.2,667.9h5.8M499.2,685.7h5.8M501.4,669.8h5.1M501.4,687.6h5.1M501.6,673.0h8.3M501.6,688.3h8.3M503.5,675.5h8.1M503.5,689.8h8.1M505.1,677.5h8.4M505.1,691.7h8.4M507.5,677.9h7.2M507.5,695.1h7.2M510.4,681.6h5.1M510.4,695.0h5.1M512.0,681.4h5.5M512.0,698.5h5.5M512.7,684.8h7.8M512.7,698.0h7.8M515.8,684.0h5.1M515.8,701.3h5.1M516.8,684.8h6.8M516.8,702.4h6.8M519.3,687.6h5.3M519.3,701.4h5.3M519.6,688.8h8.4M519.6,702.5h8.4M522.9,690.6h5.4M522.9,703.4h5.4M524.7,692.7h5.3M524.7,704.4h5.3M525.1,694.0h8.1M525.1,706.6h8.1M528.2,696.7h5.6M528.2,707.5h5.6M528.6,696.4h8.4M528.6,711.5h8.4M531.7,698.3h5.8M531.7,713.3h5.8M532.3,702.0h8.2M532.3,713.3h8.2M534.5,703.6h7.4M534.5,715.2h7.4M537.5,705.8h5.0M537.5,716.3h5.0M538.1,707.3h7.5M538.1,717.7h7.5M540.2,707.7h6.9M540.2,719.9h6.9M542.0,709.5h6.8M542.0,720.1h6.8M543.8,710.3h6.8M543.8,720.6h6.8M546.2,710.1h5.6M546.2,722.0h5.6M546.8,711.5h8.2M546.8,722.2h8.2M549.9,711.9h5.5M549.9,723.5h5.5M550.5,712.7h7.8M550.5,724.6h7.8M553.3,715.5h5.8M553.3,723.9h5.8M555.5,716.6h5.1M555.5,724.9h5.1M556.7,716.2h6.3M556.7,727.4h6.3M559.0,717.6h5.3M559.0,728.2h5.3M559.5,720.5h7.9M559.5,727.6h7.9M561.1,720.1h8.4M561.1,729.9h8.4M563.7,721.4h6.7M563.7,730.6h6.7M566.3,722.2h5.2M566.3,731.5h5.2M567.5,723.4h6.4M567.5,731.8h6.4M569.0,724.7h7.0M569.0,731.7h7.0M571.0,724.8h6.7M571.0,732.3h6.7M573.1,724.9h6.0M573.1,732.5h6.0M574.4,725.2h7.0M574.4,732.7h7.0M575.6,724.4h8.2M575.6,734.0h8.2M577.6,724.9h7.8M577.6,734.0h7.8M579.2,726.2h8.3M579.2,733.4h8.3M582.5,726.6h5.3M582.5,733.6h5.3M583.2,726.6h7.5M583.2,734.3h7.5M585.2,727.2h7.2M585.2,734.4h7.2M586.4,727.7h8.3M586.4,734.6h8.3M589.1,727.7h6.6M589.1,735.1h6.6M590.2,727.9h8.0M590.2,735.5h8.0M592.6,727.5h6.7M592.6,736.4h6.7M594.2,728.6h7.1M594.2,735.8h7.1M596.4,729.3h6.4M596.4,735.3h6.4M597.6,728.3h7.6M597.6,736.7h7.6M599.2,729.7h7.9M599.2,735.6h7.9M600.8,729.4h8.3M600.8,736.3h8.3M604.0,729.7h5.7M604.0,736.5h5.7M604.6,729.8h8.0M604.6,737.1h8.0M606.4,730.3h7.9M606.4,737.2h7.9M609.1,730.2h6.2M609.1,737.8h6.2M610.7,731.1h6.7M610.7,737.5h6.7M612.7,731.3h6.2M612.7,737.9h6.2M613.6,731.2h8.0M613.6,738.5h8.0M616.7,731.6h5.4M616.7,738.6h5.4M618.1,732.3h6.2M618.1,738.3h6.2M620.3,731.9h5.4M620.3,739.0h5.4M621.8,732.8h6.0M621.8,738.4h6.0M624.1,732.6h5.0M624.1,738.7h5.0M624.4,732.4h8.1M624.4,739.2h8.1M626.5,732.5h7.5M626.5,739.3h7.5M628.1,732.3h7.8M628.1,739.9h7.8M630.6,732.3h6.4M630.6,740.1h6.4M633.0,732.8h5.3M633.0,739.9h5.3M634.4,732.8h6.2M634.4,740.4h6.2M635.3,733.5h8.0M635.3,739.9h8.0M638.3,733.9h5.6M638.3,739.8h5.6M639.4,733.4h7.0M639.4,740.7h7.0M642.2,734.5h5.0M642.2,739.8h5.0M644.0,734.3h4.9M644.0,740.3h4.9M645.5,733.8h5.5M645.5,741.0h5.5M647.0,734.6h6.3M647.0,740.4h6.3" stroke="#ff2800" stroke-width="3" fill="none"/>
<polygon points="105.0,741.0 105.8,741.0 106.6,740.9 107.4,740.8 108.2,741.0 109.1,741.0 109.9,740.5 110.7,740.8 111.5,741.0 112.3,741.0 113.1,740.7 113.9,740.4 114.7,741.0 115.6,741.0 116.4,740.9 117.2,740.9 118.0,740.4 118.8,740.5 119.6,740.9 120.4,740.8 121.2,740.6 122.1,740.3 122.9,741.0 123.7,740.8 124.5,741.0 125.3,740.5 126.1,741.0 126.9,740.1 127.7,740.5 128.6,740.4 129.4,740.9 130.2,740.7 131.0,740.5 131.8,740.1 132.6,740.4 133.4,740.6 134.2,739.9 135.1,740.2 135.9,740.3 136.7,740.6 137.5,740.5 138.3,739.9 139.1,740.6 139.9,740.2 140.7,740.1 141.6,740.3 142.4,739.9 143.2,739.8 144.0,739.8 144.8,739.9 145.6,740.4 146.4,740.5 147.2,740.2 148.0,740.3 148.9,740.4 149.7,739.7 150.5,740.3 151.3,739.7 152.1,739.6 152.9,740.4 153.7,739.6 154.5,740.0 155.4,740.2 156.2,740.2 157.0,740.3 157.8,739.8 158.6,739.9 159.4,739.4 160.2,739.4 161.0,740.1 161.9,739.7 162.7,739.7 163.5,739.9 164.3,739.8 165.1,739.7 165.9,739.3 166.7,739.6 167.5,739.7 168.4,739.6 169.2,739.3 170.0,739.2 170.8,739.4 171.6,739.0 172.4,739.4 173.2,738.9 174.0,738.9 174.9,739.3 175.7,738.7 176.5,739.0 177.3,738.8 178.1,738.7 178.9,738.6 179.7,738.8 180.5,739.1 181.4,738.4 182.2,738.3 183.0,738.6 183.8,738.5 184.6,738.7 185.4,738.1 186.2,738.2 187.0,738.7 187.8,738.0 188.7,737.9 189.5,738.4 190.3,737.8 191.1,738.3 191.9,738.5 192.7,738.0 193.5,738.3 194.3,737.9 195.2,738.0 196.0,738.5 196.8,738.0 197.6,737.6 198.4,737.9 199.2,737.7 200.0,737.3 200.8,737.6 201.7,737.4 202.5,737.2 203.3,736.8 204.1,737.3 204.9,737.3 205.7,736.5 206.5,736.5 207.3,736.6 208.2,735.9 209.0,735.8 209.8,736.0 210.6,735.4 211.4,735.4 212.2,735.3 213.0,735.7 213.8,735.8 214.7,735.0 215.5,734.8 216.3,735.1 217.1,734.8 217.9,734.6 218.7,734.8 219.5,734.3 220.3,734.4 221.2,734.5 222.0,734.7 222.8,734.1 223.6,734.3 224.4,733.8 225.2,734.1 226.0,733.8 226.8,733.8 227.6,733.4 228.5,733.1 229.3,733.3 230.1,733.2 230.9,732.6 231.7,732.6 232.5,732.1 233.3,732.2 234.1,732.1 235.0,731.4 235.8,730.8 236.6,730.6 237.4,730.7 238.2,730.6 239.0,730.7 239.8,730.3 240.6,730.0 241.5,729.2 242.3,729.8 243.1,728.8 243.9,729.1 244.7,729.0 245.5,729.0 246.3,728.1 247.1,728.7 248.0,728.2 248.8,728.2 249.6,728.4 250.4,728.1 251.2,727.2 252.0,727.1 252.8,726.8 253.6,726.3 254.5,726.8 255.3,725.8 256.1,725.4 256.9,725.5 257.7,724.8 258.5,723.9 259.3,724.1 260.1,723.2 261.0,723.3 261.8,722.4 262.6,722.3 263.4,721.6 264.2,721.2 265.0,720.3 265.8,719.9 266.6,719.7 267.5,717.8 268.3,718.7 269.1,716.3 269.9,718.9 270.7,716.9 271.5,716.3 272.3,717.0 273.1,718.6 273.9,717.6 274.8,714.8 275.6,716.9 276.4,713.7 277.2,714.8 278.0,712.6 278.8,714.9 279.6,712.5 280.4,715.0 281.3,711.6 282.1,711.1 282.9,711.0 283.7,713.3 284.5,708.8 285.3,712.6 286.1,710.4 286.9,706.5 287.8,710.0 288.6,710.9 289.4,709.5 290.2,708.2 291.0,709.0 291.8,707.0 292.6,706.3 293.4,706.7 294.3,703.8 295.1,705.8 295.9,704.8 296.7,704.6 297.5,707.6 298.3,704.5 299.1,704.1 299.9,703.2 300.8,704.8 301.6,702.6 302.4,706.2 303.2,703.4 304.0,704.0 304.8,705.3 305.6,705.4 306.4,703.2 307.3,703.4 308.1,705.5 308.9,700.6 309.7,705.0 310.5,703.5 311.3,703.4 312.1,701.5 312.9,704.6 313.7,703.7 314.6,701.7 315.4,701.7 316.2,703.9 317.0,701.3 317.8,703.9 318.6,698.7 319.4,700.5 320.2,700.1 321.1,699.1 321.9,701.6 322.7,698.7 323.5,700.0 324.3,702.1 325.1,698.9 325.9,701.5 326.7,700.5 327.6,698.7 328.4,701.5 329.2,697.6 330.0,700.4 330.8,701.0 331.6,698.7 332.4,701.9 333.2,700.1 334.1,700.7 334.9,699.8 335.7,698.6 336.5,699.5 337.3,698.8 338.1,699.6 338.9,699.6 339.7,700.1 340.6,704.1 341.4,703.3 342.2,700.7 343.0,700.8 343.8,700.8 344.6,701.4 345.4,701.2 346.2,704.6 347.1,703.6 347.9,704.6 348.7,705.3 349.5,702.0 350.3,702.8 351.1,706.4 351.9,702.8 352.7,704.9 353.5,707.9 354.4,706.9 355.2,707.5 356.0,707.1 356.8,708.4 357.6,706.9 358.4,706.0 359.2,706.3 360.0,707.7 360.9,709.1 361.7,707.5 362.5,707.2 363.3,707.6 364.1,707.5 364.9,705.7 365.7,708.4 366.5,706.1 367.4,708.9 368.2,708.5 369.0,708.9 369.8,707.6 370.6,711.1 371.4,711.0 372.2,710.7 373.0,707.7 373.9,707.7 374.7,712.4 375.5,708.7 376.3,708.8 377.1,707.6 377.9,708.5 378.7,713.2 379.5,713.5 380.4,712.8 381.2,714.6 382.0,715.0 382.8,710.6 383.6,712.1 384.4,712.5 385.2,717.1 386.0,712.4 386.9,717.5 387.7,716.3 388.5,715.5 389.3,715.3 390.1,718.6 390.9,715.6 391.7,718.1 392.5,719.5 393.3,717.3 394.2,716.8 395.0,718.8 395.8,719.8 396.6,720.4 397.4,720.5 398.2,719.1 399.0,719.2 399.8,719.7 400.7,720.4 401.5,718.9 402.3,722.1 403.1,722.1 403.9,722.0 404.7,722.5 405.5,722.5 406.3,723.3 407.2,722.6 408.0,723.3 408.8,723.3 409.6,724.4 410.4,724.6 411.2,724.6 412.0,724.6 412.8,724.6 413.7,725.3 414.5,725.6 415.3,725.8 416.1,726.2 416.9,726.0 417.7,726.1 418.5,726.7 419.3,726.9 420.2,726.4 421.0,726.8 421.8,726.7 422.6,726.6 423.4,726.8 424.2,726.6 425.0,727.6 425.8,727.7 426.7,727.5 427.5,727.2 428.3,727.3 429.1,727.8 429.9,727.4 430.7,727.5 431.5,728.2 432.3,727.9 433.1,728.4 434.0,728.6 434.8,728.9 435.6,728.5 436.4,728.6 437.2,728.3 438.0,728.4 438.8,729.1 439.6,728.5 440.5,728.7 441.3,729.0 442.1,729.2 442.9,729.6 443.7,729.5 444.5,729.9 445.3,730.0 446.1,729.9 447.0,730.7 447.8,730.3 448.6,731.2 449.4,730.9 450.2,731.3 451.0,731.6 451.8,731.6 452.6,731.9 453.5,731.9 454.3,732.0 455.1,731.9 455.9,732.9 456.7,732.5 457.5,732.2 458.3,732.5 459.1,732.6 460.0,732.3 460.8,733.1 461.6,732.4 462.4,732.6 463.2,732.7 464.0,732.9 464.8,732.7 465.6,733.2 466.5,732.8 467.3,733.1 468.1,732.4 468.9,732.6 469.7,732.9 470.5,732.7 471.3,733.0 472.1,732.9 472.9,733.3 473.8,732.6 474.6,732.8 475.4,732.8 476.2,733.5 477.0,732.8 477.8,733.6 478.6,733.1 479.4,733.2 480.3,733.6 481.1,733.3 481.9,732.8 482.7,733.1 483.5,733.5 484.3,733.0 485.1,733.5 485.9,733.0 486.8,733.5 487.6,733.8 488.4,733.0 489.2,733.9 490.0,733.7 490.8,733.2 491.6,733.9 492.4,733.5 493.3,733.2 494.1,733.5 494.9,733.7 495.7,733.4 496.5,733.3 497.3,733.6 498.1,733.6 498.9,733.9 499.8,733.8 500.6,733.3 501.4,733.3 502.2,734.3 503.0,734.1 503.8,734.1 504.6,733.5 505.4,734.1 506.3,734.2 507.1,733.6 507.9,734.2 508.7,733.4 509.5,734.0 510.3,733.5 511.1,733.6 511.9,734.2 512.7,733.7 513.6,734.1 514.4,734.3 515.2,734.4 516.0,733.8 516.8,734.0 517.6,734.2 518.4,733.7 519.2,734.4 520.1,734.1 520.9,734.5 521.7,734.3 522.5,733.8 523.3,734.2 524.1,734.5 524.9,734.5 525.7,734.1 526.6,734.5 527.4,733.9 528.2,734.7 529.0,734.0 529.8,734.2 530.6,734.1 531.4,734.5 532.2,734.8 533.1,734.8 533.9,734.3 534.7,734.9 535.5,734.9 536.3,734.3 537.1,734.2 537.9,734.2 538.7,734.3 539.6,734.6 540.4,734.3 541.2,734.5 542.0,734.7 542.8,734.8 543.6,735.2 544.4,735.2 545.2,735.1 546.1,734.9 546.9,735.3 547.7,734.5 548.5,734.9 549.3,734.7 550.1,734.6 550.9,735.3 551.7,734.7 552.5,734.6 553.4,735.3 554.2,735.5 555.0,734.9 555.8,734.8 556.6,734.9 557.4,735.3 558.2,735.2 559.0,735.7 559.9,735.6 560.7,735.4 561.5,735.1 562.3,735.8 563.1,735.0 563.9,735.9 564.7,735.0 565.5,735.7 566.4,735.2 567.2,735.2 568.0,735.1 568.8,735.6 569.6,735.4 570.4,735.8 571.2,735.3 572.0,736.0 572.9,735.3 573.7,735.6 574.5,736.1 575.3,735.3 576.1,735.9 576.9,736.2 577.7,736.0 578.5,736.2 579.4,736.0 580.2,735.6 581.0,735.4 581.8,735.7 582.6,735.5 583.4,735.6 584.2,735.7 585.0,736.0 585.9,736.1 586.7,736.2 587.5,735.9 588.3,736.2 589.1,735.7 589.9,736.1 590.7,735.9 591.5,735.9 592.3,735.9 593.2,736.3 594.0,736.3 594.8,735.8 595.6,736.3 596.4,735.9 597.2,735.6 598.0,736.2 598.8,735.7 599.7,736.0 600.5,735.7 601.3,736.1 602.1,735.9 602.9,736.0 603.7,736.5 604.5,736.2 605.3,736.2 606.2,736.3 607.0,736.1 607.8,735.9 608.6,736.0 609.4,736.0 610.2,736.7 611.0,736.2 611.8,736.3 612.7,736.0 613.5,736.9 614.3,736.8 615.1,736.0 615.9,736.6 616.7,736.3 617.5,736.4 618.3,736.7 619.2,736.6 620.0,736.5 620.8,736.1 621.6,736.6 622.4,736.4 623.2,736.9 624.0,736.5 624.8,736.6 625.7,736.5 626.5,736.4 627.3,737.2 628.1,736.3 628.9,736.7 629.7,737.1 630.5,736.9 631.3,737.2 632.2,737.1 633.0,736.6 633.8,736.7 634.6,736.6 635.4,737.3 636.2,737.3 637.0,737.1 637.8,737.0 638.6,736.8 639.5,737.2 640.3,736.8 641.1,737.0 641.9,737.3 642.7,736.8 643.5,737.5 644.3,737.0 645.1,737.4 646.0,737.6 646.8,737.1 647.6,737.1 648.4,737.0 649.2,737.3 650.0,736.7 650.0,740.4 649.2,740.4 648.4,740.4 647.6,740.4 646.8,740.4 646.0,740.4 645.1,740.4 644.3,740.4 643.5,740.4 642.7,740.4 641.9,740.4 641.1,740.4 640.3,740.4 639.5,740.4 638.6,740.4 637.8,740.3 637.0,740.3 636.2,740.3 635.4,740.3 634.6,740.3 633.8,740.3 633.0,740.3 632.2,740.3 631.3,740.3 630.5,740.3 629.7,740.3 628.9,740.3 628.1,740.3 627.3,740.3 626.5,740.3 625.7,740.3 624.8,740.3 624.0,740.3 623.2,740.3 622.4,740.3 621.6,740.3 620.8,740.3 620.0,740.3 619.2,740.3 618.3,740.3 617.5,740.3 616.7,740.3 615.9,740.3 615.1,740.2 614.3,740.2 613.5,740.2 612.7,740.2 611.8,740.2 611.0,740.2 610.2,740.2 609.4,740.2 608.6,740.2 607.8,740.2 607.0,740.2 606.2,740.2 605.3,740.2 604.5,740.2 603.7,740.2 602.9,740.2 602.1,740.2 601.3,740.2 600.5,740.2 599.7,740.2 598.8,740.2 598.0,740.2 597.2,740.2 596.4,740.1 595.6,740.1 594.8,740.1 594.0,740.1 593.2,740.1 592.3,740.1 591.5,740.1 590.7,740.1 589.9,740.1 589.1,740.1 588.3,740.1 587.5,740.1 586.7,740.1 585.9,740.1 585.0,740.1 584.2,740.1 583.4,740.1 582.6,740.1 581.8,740.1 581.0,740.1 580.2,740.0 579.4,740.0 578.5,740.0 577.7,740.0 576.9,740.0 576.1,740.0 575.3,740.0 574.5,740.0 573.7,740.0 572.9,740.0 572.0,740.0 571.2,740.0 570.4,740.0 569.6,740.0 568.8,740.0 568.0,740.0 567.2,740.0 566.4,740.0 565.5,740.0 564.7,739.9 563.9,739.9 563.1,739.9 562.3,739.9 561.5,739.9 560.7,739.9 559.9,739.9 559.0,739.9 558.2,739.9 557.4,739.9 556.6,739.9 555.8,739.9 555.0,739.9 554.2,739.9 553.4,739.9 552.5,739.9 551.7,739.9 550.9,739.9 550.1,739.9 549.3,739.8 548.5,739.8 547.7,739.8 546.9,739.8 546.1,739.8 545.2,739.8 544.4,739.8 543.6,739.8 542.8,739.8 542.0,739.8 541.2,739.8 540.4,739.8 539.6,739.8 538.7,739.8 537.9,739.8 537.1,739.8 536.3,739.8 535.5,739.8 534.7,739.8 533.9,739.7 533.1,739.7 532.2,739.7 531.4,739.7 530.6,739.7 529.8,739.7 529.0,739.7 528.2,739.7 527.4,739.7 526.6,739.7 525.7,739.7 524.9,739.7 524.1,739.7 523.3,739.7 522.5,739.7 521.7,739.7 520.9,739.7 520.1,739.7 519.2,739.7 518.4,739.7 517.6,739.6 516.8,739.6 516.0,739.6 515.2,739.6 514.4,739.6 513.6,739.6 512.7,739.6 511.9,739.6 511.1,739.6 510.3,739.6 509.5,739.6 508.7,739.6 507.9,739.6 507.1,739.6 506.3,739.6 505.4,739.6 504.6,739.6 503.8,739.6 503.0,739.6 502.2,739.6 501.4,739.6 500.6,739.6 499.8,739.5 498.9,739.5 498.1,739.5 497.3,739.5 496.5,739.5 495.7,739.5 494.9,739.5 494.1,739.5 493.3,739.5 492.4,739.5 491.6,739.5 490.8,739.5 490.0,739.5 489.2,739.5 488.4,739.5 487.6,739.5 486.8,739.5 485.9,739.5 485.1,739.5 484.3,739.5 483.5,739.5 482.7,739.5 481.9,739.5 481.1,739.5 480.3,739.5 479.4,739.5 478.6,739.5 477.8,739.5 477.0,739.5 476.2,739.4 475.4,739.4 474.6,739.4 473.8,739.4 472.9,739.4 472.1,739.4 471.3,739.4 470.5,739.4 469.7,739.4 468.9,739.4 468.1,739.4 467.3,739.4 466.5,739.4 465.6,739.4 464.8,739.4 464.0,739.4 463.2,739.4 462.4,739.3 461.6,739.3 460.8,739.3 460.0,739.3 459.1,739.2 458.3,739.2 457.5,739.2 456.7,739.1 455.9,739.1 455.1,739.1 454.3,739.0 453.5,739.0 452.6,739.0 451.8,738.9 451.0,738.9 450.2,738.9 449.4,738.8 448.6,738.8 447.8,738.8 447.0,742.0 446.1,738.7 445.3,742.0 444.5,738.6 443.7,742.0 442.9,742.0 442.1,738.5 441.3,742.0 440.5,742.0 439.6,738.4 438.8,738.4 438.0,738.4 437.2,738.3 436.4,738.3 435.6,742.0 434.8,738.2 434.0,738.2 433.1,742.0 432.3,738.2 431.5,738.2 430.7,738.1 429.9,738.1 429.1,742.0 428.3,742.0 427.5,738.0 426.7,737.9 425.8,737.9 425.0,742.0 424.2,742.0 423.4,737.6 422.6,737.5 421.8,742.0 421.0,742.0 420.2,737.3 419.3,741.2 418.5,737.1 417.7,742.0 416.9,742.0 416.1,742.0 415.3,738.7 414.5,736.6 413.7,742.0 412.8,736.4 412.0,736.3 411.2,742.0 410.4,736.2 409.6,742.0 408.8,736.0 408.0,742.0 407.2,735.8 406.3,739.3 405.5,735.7 404.7,738.6 403.9,735.6 403.1,735.6 402.3,735.5 401.5,742.0 400.7,735.4 399.8,735.3 399.0,735.2 398.2,735.1 397.4,735.1 396.6,735.0 395.8,737.4 395.0,742.0 394.2,734.6 393.3,736.9 392.5,742.0 391.7,734.3 390.9,739.6 390.1,737.3 389.3,733.9 388.5,742.0 387.7,733.7 386.9,733.6 386.0,740.7 385.2,740.1 384.4,733.2 383.6,733.1 382.8,741.4 382.0,732.9 381.2,741.4 380.4,732.7 379.5,742.0 378.7,732.6 377.9,732.5 377.1,732.4 376.3,732.4 375.5,732.3 374.7,734.8 373.9,732.0 373.0,731.9 372.2,738.6 371.4,731.6 370.6,731.4 369.8,742.0 369.0,731.0 368.2,730.8 367.4,737.5 366.5,735.5 365.7,730.1 364.9,729.9 364.1,732.9 363.3,729.4 362.5,729.2 361.7,733.4 360.9,735.6 360.0,733.2 359.2,738.3 358.4,730.8 357.6,735.7 356.8,727.5 356.0,727.3 355.2,727.1 354.4,737.7 353.5,726.7 352.7,732.3 351.9,726.4 351.1,737.2 350.3,730.1 349.5,726.0 348.7,725.9 347.9,725.8 347.1,725.7 346.2,729.3 345.4,735.8 344.6,729.1 343.8,727.6 343.0,730.3 342.2,726.6 341.4,730.5 340.6,724.5 339.7,727.3 338.9,734.0 338.1,731.3 337.3,732.9 336.5,723.6 335.7,733.6 334.9,723.2 334.1,728.5 333.2,729.4 332.4,722.8 331.6,722.7 330.8,722.7 330.0,726.5 329.2,731.3 328.4,722.6 327.6,728.4 326.7,722.6 325.9,729.1 325.1,726.0 324.3,729.9 323.5,727.5 322.7,722.6 321.9,730.5 321.1,728.8 320.2,727.2 319.4,728.8 318.6,731.1 317.8,730.8 317.0,722.6 316.2,722.6 315.4,722.6 314.6,722.6 313.7,731.5 312.9,722.6 312.1,733.6 311.3,725.7 310.5,722.9 309.7,723.0 308.9,723.1 308.1,723.3 307.3,729.7 306.4,734.2 305.6,723.8 304.8,735.3 304.0,735.4 303.2,724.3 302.4,724.5 301.6,724.7 300.8,727.1 299.9,725.0 299.1,725.2 298.3,734.3 297.5,729.0 296.7,727.5 295.9,725.7 295.1,730.5 294.3,729.8 293.4,732.2 292.6,726.5 291.8,726.8 291.0,727.2 290.2,727.6 289.4,734.7 288.6,736.9 287.8,729.0 286.9,729.5 286.1,730.0 285.3,730.5 284.5,732.7 283.7,739.2 282.9,732.0 282.1,739.3 281.3,732.9 280.4,742.0 279.6,733.7 278.8,741.1 278.0,734.4 277.2,734.7 276.4,734.9 275.6,735.0 274.8,735.1 273.9,735.3 273.1,735.4 272.3,735.6 271.5,735.8 270.7,736.0 269.9,736.2 269.1,736.4 268.3,736.6 267.5,736.8 266.6,737.1 265.8,737.3 265.0,737.5 264.2,737.7 263.4,737.9 262.6,738.1 261.8,738.2 261.0,738.4 260.1,738.5 259.3,738.7 258.5,738.8 257.7,738.8 256.9,738.8 256.1,738.9 255.3,738.9 254.5,739.0 253.6,739.1 252.8,739.1 252.0,739.2 251.2,739.3 250.4,739.3 249.6,739.4 248.8,739.5 248.0,739.6 247.1,739.7 246.3,739.8 245.5,739.8 244.7,739.9 243.9,740.0 243.1,740.1 242.3,740.2 241.5,740.3 240.6,740.3 239.8,740.4 239.0,740.5 238.2,740.6 237.4,740.6 236.6,740.7 235.8,740.8 235.0,740.8 234.1,740.9 233.3,740.9 232.5,741.0 231.7,741.0 230.9,741.0 230.1,741.0 229.3,741.0 228.5,741.0 227.6,741.0 226.8,741.1 226.0,741.1 225.2,741.1 224.4,741.1 223.6,741.1 222.8,741.1 222.0,741.1 221.2,741.1 220.3,741.1 219.5,741.1 218.7,741.1 217.9,741.1 217.1,741.1 216.3,741.1 215.5,741.1 214.7,741.1 213.8,741.1 213.0,741.1 212.2,741.1 211.4,741.1 210.6,741.1 209.8,741.2 209.0,741.2 208.2,741.2 207.3,741.2 206.5,741.2 205.7,741.2 204.9,741.2 204.1,741.2 203.3,741.2 202.5,741.2 201.7,741.2 200.8,741.2 200.0,741.2 199.2,741.2 198.4,741.2 197.6,741.2 196.8,741.3 196.0,741.3 195.2,741.3 194.3,741.3 193.5,741.3 192.7,741.3 191.9,741.3 191.1,741.3 190.3,741.3 189.5,741.3 188.7,741.3 187.8,741.3 187.0,741.3 186.2,741.3 185.4,741.4 184.6,741.4 183.8,741.4 183.0,741.4 182.2,741.4 181.4,741.4 180.5,741.4 179.7,741.4 178.9,741.4 178.1,741.4 177.3,741.4 176.5,741.4 175.7,741.4 174.9,741.5 174.0,741.5 173.2,741.5 172.4,741.5 171.6,741.5 170.8,741.5 170.0,741.5 169.2,741.5 168.4,741.5 167.5,741.5 166.7,741.5 165.9,741.5 165.1,741.5 164.3,741.6 163.5,741.6 162.7,741.6 161.9,741.6 161.0,741.6 160.2,741.6 159.4,741.6 158.6,741.6 157.8,741.6 157.0,741.6 156.2,741.6 155.4,741.6 154.5,741.6 153.7,741.7 152.9,741.7 152.1,741.7 151.3,741.7 150.5,741.7 149.7,741.7 148.9,741.7 148.0,741.7 147.2,741.7 146.4,741.7 145.6,741.7 144.8,741.7 144.0,741.7 143.2,741.7 142.4,741.8 141.6,741.8 140.7,741.8 139.9,741.8 139.1,741.8 138.3,741.8 137.5,741.8 136.7,741.8 135.9,741.8 135.1,741.8 134.2,741.8 133.4,741.8 132.6,741.8 131.8,741.8 131.0,741.8 130.2,741.9 129.4,741.9 128.6,741.9 127.7,741.9 126.9,741.9 126.1,741.9 125.3,741.9 124.5,741.9 123.7,741.9 122.9,741.9 122.1,741.9 121.2,741.9 120.4,741.9 119.6,741.9 118.8,741.9 118.0,741.9 117.2,741.9 116.4,741.9 115.6,741.9 114.7,742.0 113.9,742.0 113.1,742.0 112.3,742.0 111.5,742.0 110.7,742.0 109.9,742.0 109.1,742.0 108.2,742.0 107.4,742.0 106.6,742.0 105.8,742.0 105.0,742.0" fill="#f7d65a"/>
<line x1="105.0" y1="740.5" x2="650.1" y2="740.5" stroke="#f7d65a" stroke-width="4"/>
<polygon points="105.0,739.3 105.9,739.6 106.8,739.3 107.7,739.3 108.6,739.1 109.5,738.7 110.4,738.5 111.3,738.3 112.2,738.2 113.1,737.9 114.0,737.8 114.9,737.4 115.8,737.2 116.7,737.3 117.6,736.4 118.5,736.2 119.4,736.4 120.3,736.1 121.2,735.5 122.1,734.6 123.0,734.5 124.0,733.7 124.9,733.8 125.8,732.6 126.7,732.4 127.6,731.6 128.5,730.5 129.4,730.2 130.3,729.7 131.2,728.2 132.1,727.2 133.0,726.8 133.9,726.1 134.8,724.6 135.7,723.8 136.6,721.6 137.5,720.7 138.4,719.3 139.3,718.0 140.2,715.7 141.1,714.4 142.0,711.9 142.9,711.4 143.8,708.1 144.7,707.4 145.6,705.1 146.5,700.8 147.4,698.8 148.3,695.9 149.2,695.4 150.1,689.9 151.0,688.2 151.9,685.5 152.8,680.7 153.7,676.4 154.6,673.2 155.5,672.0 156.4,666.6 157.3,662.7 158.2,660.1 159.2,655.1 160.1,647.8 161.0,644.7 161.9,642.8 162.8,634.3 163.7,628.9 164.6,623.9 165.5,621.6 166.4,618.3 167.3,611.7 168.2,607.5 169.1,601.4 170.0,597.9 170.9,586.4 171.8,585.8 172.7,581.6 173.6,577.0 174.5,564.1 175.4,563.9 176.3,560.6 177.2,549.7 178.1,545.7 179.0,539.8 179.9,536.3 180.8,529.6 181.7,531.1 182.6,523.0 183.5,519.7 184.4,515.7 185.3,510.6 186.2,510.1 187.1,504.8 188.0,499.0 188.9,489.1 189.8,488.7 190.7,491.7 191.6,490.3 192.5,488.9 193.4,480.1 194.3,482.7 195.2,479.4 196.2,486.5 197.1,480.2 198.0,473.4 198.9,481.7 199.8,481.0 200.7,482.7 201.6,481.1 202.5,480.1 203.4,488.0 204.3,488.0 205.2,492.5 206.1,493.2 207.0,489.7 207.9,502.7 208.8,505.4 209.7,503.8 210.6,509.5 211.5,511.6 212.4,518.9 213.3,524.8 214.2,525.4 215.1,531.6 216.0,540.0 216.9,538.4 217.8,550.0 218.7,552.1 219.6,559.0 220.5,565.7 221.4,567.7 222.3,573.3 223.2,575.7 224.1,588.2 225.0,592.0 225.9,593.5 226.8,599.7 227.7,603.9 228.6,611.5 229.5,615.7 230.4,624.5 231.3,628.1 232.3,634.3 233.2,636.5 234.1,643.1 235.0,649.6 235.9,654.5 236.8,656.6 237.7,662.9 238.6,665.9 239.5,671.4 240.4,674.1 241.3,676.7 242.2,681.4 243.1,684.9 244.0,688.9 244.9,692.5 245.8,693.5 246.7,697.3 247.6,699.6 248.5,702.2 249.4,704.5 250.3,707.4 251.2,709.4 252.1,711.8 253.0,713.4 253.9,716.3 254.8,716.8 255.7,719.6 256.6,719.8 257.5,721.5 258.4,723.4 259.3,724.5 260.2,725.2 261.1,726.5 262.0,726.6 262.9,728.1 263.8,728.3 264.7,728.1 265.6,728.5 266.5,729.2 267.4,728.7 268.4,728.8 269.3,728.8 270.2,729.2 271.1,729.2 272.0,729.0 272.9,728.7 273.8,728.6 274.7,727.4 275.6,726.1 276.5,726.9 277.4,725.0 278.3,725.0 279.2,725.9 280.1,724.6 281.0,723.9 281.9,723.6 282.8,723.3 283.7,722.3 284.6,722.2 285.5,721.8 286.4,720.2 287.3,720.1 288.2,719.8 289.1,720.7 290.0,721.9 290.9,719.8 291.8,721.0 292.7,722.3 293.6,720.3 294.5,721.7 295.4,722.1 296.3,723.7 297.2,722.6 298.1,724.5 299.0,724.3 299.9,725.2 300.8,727.1 301.7,726.8 302.6,729.0 303.5,729.2 304.5,729.3 305.4,730.3 306.3,731.5 307.2,732.1 308.1,732.5 309.0,733.9 309.9,733.8 310.8,734.8 311.7,735.6 312.6,735.9 313.5,736.9 314.4,737.1 315.3,737.2 316.2,738.1 317.1,737.8 318.0,738.5 318.9,738.6 319.8,738.9 320.7,739.2 321.6,739.5 322.5,739.9 323.4,740.0 324.3,740.0 325.2,740.4 326.1,740.2 326.1,742.0 325.2,742.0 324.3,742.0 323.4,742.0 322.5,742.0 321.6,742.0 320.7,742.0 319.8,742.0 318.9,742.0 318.0,742.0 317.1,741.8 316.2,741.6 315.3,741.9 314.4,741.1 313.5,740.9 312.6,740.7 311.7,741.3 310.8,740.5 309.9,740.3 309.0,739.5 308.1,739.9 307.2,739.5 306.3,738.6 305.4,738.8 304.5,739.1 303.5,738.7 302.6,738.7 301.7,737.0 300.8,738.3 299.9,737.1 299.0,736.9 298.1,735.7 297.2,735.1 296.3,735.2 295.4,735.9 294.5,734.4 293.6,736.0 292.7,734.7 291.8,734.8 290.9,734.2 290.0,734.0 289.1,736.1 288.2,733.5 287.3,735.3 286.4,734.4 285.5,734.7 284.6,734.8 283.7,736.0 282.8,734.7 281.9,736.0 281.0,735.0 280.1,735.5 279.2,735.0 278.3,735.4 277.4,736.0 276.5,737.2 275.6,737.3 274.7,736.4 273.8,736.9 272.9,737.1 272.0,736.5 271.1,737.4 270.2,737.2 269.3,735.8 268.4,735.9 267.4,735.3 266.5,735.1 265.6,735.8 264.7,734.4 263.8,733.8 262.9,734.5 262.0,733.6 261.1,732.4 260.2,731.9 259.3,730.7 258.4,729.8 257.5,728.6 256.6,728.7 255.7,726.3 254.8,726.2 253.9,724.0 253.0,722.5 252.1,721.8 251.2,720.1 250.3,718.6 249.4,716.8 248.5,715.6 247.6,712.9 246.7,710.1 245.8,708.5 244.9,707.0 244.0,702.4 243.1,702.3 242.2,698.9 241.3,695.0 240.4,692.8 239.5,688.1 238.6,685.7 237.7,682.9 236.8,681.0 235.9,674.7 235.0,671.6 234.1,668.5 233.2,664.8 232.3,660.1 231.3,657.8 230.4,656.2 229.5,648.1 228.6,645.4 227.7,641.9 226.8,637.2 225.9,631.0 225.0,632.9 224.1,624.1 223.2,617.9 222.3,619.0 221.4,616.8 220.5,609.0 219.6,606.6 218.7,601.8 217.8,599.0 216.9,594.5 216.0,591.7 215.1,585.3 214.2,586.6 213.3,578.7 212.4,573.6 211.5,567.8 210.6,569.3 209.7,571.3 208.8,564.3 207.9,563.4 207.0,555.9 206.1,550.5 205.2,559.4 204.3,557.3 203.4,546.1 202.5,548.7 201.6,551.2 200.7,552.4 199.8,547.3 198.9,552.4 198.0,542.6 197.1,548.2 196.2,541.9 195.2,544.6 194.3,548.2 193.4,547.6 192.5,553.6 191.6,553.7 190.7,553.4 189.8,558.7 188.9,551.7 188.0,560.6 187.1,557.8 186.2,569.7 185.3,571.4 184.4,566.4 183.5,572.5 182.6,577.6 181.7,584.0 180.8,582.6 179.9,590.8 179.0,588.6 178.1,599.7 177.2,604.1 176.3,608.7 175.4,605.4 174.5,614.2 173.6,616.9 172.7,623.5 171.8,620.6 170.9,628.2 170.0,633.5 169.1,634.0 168.2,642.3 167.3,644.7 166.4,648.8 165.5,655.2 164.6,658.6 163.7,661.6 162.8,665.4 161.9,668.6 161.0,672.1 160.1,674.6 159.2,679.8 158.2,679.4 157.3,685.2 156.4,687.4 155.5,689.6 154.6,692.3 153.7,694.6 152.8,698.6 151.9,701.5 151.0,702.1 150.1,706.9 149.2,707.0 148.3,710.1 147.4,712.9 146.5,713.1 145.6,715.9 144.7,716.2 143.8,718.7 142.9,720.2 142.0,722.4 141.1,723.7 140.2,723.9 139.3,726.2 138.4,726.9 137.5,727.8 136.6,729.5 135.7,730.3 134.8,731.0 133.9,731.2 133.0,732.6 132.1,732.8 131.2,734.0 130.3,734.8 129.4,734.7 128.5,735.8 127.6,736.2 126.7,736.7 125.8,737.3 124.9,737.8 124.0,738.2 123.0,738.5 122.1,738.9 121.2,738.6 120.3,739.0 119.4,739.4 118.5,739.7 117.6,740.3 116.7,740.4 115.8,740.1 114.9,740.8 114.0,740.8 113.1,740.9 112.2,741.3 111.3,741.2 110.4,741.2 109.5,741.6 108.6,741.7 107.7,741.7 106.8,742.0 105.9,741.7 105.0,742.0" fill="#0a2cff"/>
<path d="M105.0,740.8 L105.9,740.7 L106.8,740.6 L107.7,740.4 L108.6,740.3 L109.5,740.2 L110.4,740.0 L111.3,739.9 L112.2,739.7 L113.1,739.5 L114.0,739.3 L114.9,739.1 L115.8,738.9 L116.7,738.6 L117.6,738.4 L118.5,738.1 L119.4,737.8 L120.3,737.5 L121.2,737.1 L122.1,736.8 L123.0,736.4 L124.0,735.9 L124.9,735.5 L125.8,735.0 L126.7,734.5 L127.6,733.9 L128.5,733.3 L129.4,732.6 L130.3,731.9 L131.2,731.2 L132.1,730.4 L133.0,729.6 L133.9,728.6 L134.8,727.7 L135.7,726.6 L136.6,725.5 L137.5,724.4 L138.4,723.1 L139.3,721.8 L140.2,720.4 L141.1,718.9 L142.0,717.3 L142.9,715.6 L143.8,713.8 L144.7,711.9 L145.6,709.9 L146.5,707.9 L147.4,705.7 L148.3,703.3 L149.2,700.9 L150.1,698.4 L151.0,695.7 L151.9,692.9 L152.8,690.0 L153.7,687.0 L154.6,683.8 L155.5,680.6 L156.4,677.2 L157.3,673.6 L158.2,670.0 L159.2,666.2 L160.1,662.4 L161.0,658.4 L161.9,654.3 L162.8,650.1 L163.7,645.8 L164.6,641.5 L165.5,637.0 L166.4,632.5 L167.3,627.9 L168.2,623.2 L169.1,618.5 L170.0,613.8 L170.9,609.0 L171.8,604.2 L172.7,599.4 L173.6,594.6 L174.5,589.8 L175.4,585.0 L176.3,580.3 L177.2,575.7 L178.1,571.1 L179.0,566.6 L179.9,562.2 L180.8,557.9 L181.7,553.7 L182.6,549.6 L183.5,545.7 L184.4,542.0 L185.3,538.5 L186.2,535.1 L187.1,531.9 L188.0,529.0 L188.9,526.2 L189.8,523.7 L190.7,521.4 L191.6,519.4 L192.5,517.7 L193.4,516.2 L194.3,514.9 L195.2,514.0 L196.2,513.3 L197.1,512.9 L198.0,512.7 L198.9,512.9 L199.8,513.3 L200.7,514.0 L201.6,515.0 L202.5,516.3 L203.4,517.8 L204.3,519.6 L205.2,521.7 L206.1,524.0 L207.0,526.5 L207.9,529.3 L208.8,532.3 L209.7,535.5 L210.6,538.9 L211.5,542.5 L212.4,546.3 L213.3,550.2 L214.2,554.3 L215.1,558.5 L216.0,562.9 L216.9,567.3 L217.8,571.9 L218.7,576.6 L219.6,581.3 L220.5,586.0 L221.4,590.9 L222.3,595.7 L223.2,600.6 L224.1,605.5 L225.0,610.3 L225.9,615.2 L226.8,620.0 L227.7,624.8 L228.6,629.5 L229.5,634.2 L230.4,638.8 L231.3,643.4 L232.3,647.8 L233.2,652.2 L234.1,656.4 L235.0,660.6 L235.9,664.6 L236.8,668.6 L237.7,672.4 L238.6,676.1 L239.5,679.7 L240.4,683.2 L241.3,686.5 L242.2,689.7 L243.1,692.8 L244.0,695.8 L244.9,698.6 L245.8,701.3 L246.7,703.9 L247.6,706.3 L248.5,708.6 L249.4,710.8 L250.3,712.9 L251.2,714.9 L252.1,716.7 L253.0,718.5 L253.9,720.1 L254.8,721.6 L255.7,723.0 L256.6,724.3 L257.5,725.5 L258.4,726.6 L259.3,727.6 L260.2,728.5 L261.1,729.4 L262.0,730.1 L262.9,730.7 L263.8,731.2 L264.7,731.7 L265.6,732.1 L266.5,732.4 L267.4,732.6 L268.4,732.7 L269.3,732.8 L270.2,732.8 L271.1,732.8 L272.0,732.6 L272.9,732.5 L273.8,732.3 L274.7,732.0 L275.6,731.7 L276.5,731.4 L277.4,731.1 L278.3,730.7 L279.2,730.4 L280.1,730.0 L281.0,729.6 L281.9,729.3 L282.8,729.0 L283.7,728.7 L284.6,728.4 L285.5,728.2 L286.4,728.0 L287.3,727.8 L288.2,727.8 L289.1,727.7 L290.0,727.7 L290.9,727.8 L291.8,728.0 L292.7,728.1 L293.6,728.4 L294.5,728.7 L295.4,729.0 L296.3,729.4 L297.2,729.8 L298.1,730.3 L299.0,730.8 L299.9,731.3 L300.8,731.8 L301.7,732.4 L302.6,733.0 L303.5,733.5 L304.5,734.1 L305.4,734.7 L306.3,735.2 L307.2,735.8 L308.1,736.3 L309.0,736.8 L309.9,737.2 L310.8,737.7 L311.7,738.1 L312.6,738.5 L313.5,738.9 L314.4,739.2 L315.3,739.6 L316.2,739.9 L317.1,740.1 L318.0,740.4 L318.9,740.6 L319.8,740.8 L320.7,740.9 L321.6,741.1 L322.5,741.2 L323.4,741.3 L324.3,741.4 L325.2,741.5 L326.1,741.6" fill="none" stroke="#0a2cff" stroke-width="6.5" stroke-linejoin="round" stroke-linecap="round"/>
<path d="M125.5,729.2h9.5M125.5,734.7h9.5M127.1,727.4h10.0M127.1,733.4h10.0M128.8,725.7h10.2M128.8,731.6h10.2M132.3,723.5h6.8M132.3,729.8h6.8M132.2,721.3h10.5M132.2,727.5h10.5M135.1,718.3h8.4M135.1,725.3h8.4M136.4,714.1h9.4M136.4,723.7h9.4M138.7,710.4h8.4M138.7,720.7h8.4M141.4,706.8h6.6M141.4,717.0h6.6M143.0,703.0h7.0M143.0,712.8h7.0M144.0,697.0h8.7M144.0,709.7h8.7M145.5,692.7h9.2M145.5,704.0h9.2M147.9,686.6h8.0M147.9,699.2h8.0M149.5,680.3h8.4M149.5,693.7h8.4M150.3,672.7h10.5M150.3,688.4h10.5M152.3,664.1h10.0M152.3,683.2h10.0M155.3,655.4h7.8M155.3,677.1h7.8M157.2,644.5h7.5M157.2,672.3h7.5M158.2,636.8h9.2M158.2,663.5h9.2M159.8,624.0h9.5M159.8,658.9h9.5M162.2,619.8h8.4M162.2,645.2h8.4M163.1,603.1h10.1M163.1,643.3h10.1M166.5,596.6h6.9M166.5,630.9h6.9M166.9,586.7h9.7M166.9,621.7h9.7M168.4,576.7h10.3M168.4,612.5h10.3M170.7,565.3h9.4M170.7,604.8h9.4M173.5,550.6h7.4M173.5,600.8h7.4M174.4,542.0h9.1M174.4,591.2h9.1M176.5,534.8h8.7M176.5,580.9h8.7M177.3,521.5h10.6M177.3,577.7h10.6M180.9,516.9h7.1M180.9,567.2h7.1M181.7,506.4h9.0M181.7,563.8h9.0M182.8,499.7h10.4M182.8,558.2h10.4M185.5,497.4h8.6M185.5,550.0h8.6M188.0,489.1h7.2M188.0,549.7h7.2M189.3,485.6h8.3M189.3,546.7h8.3M190.4,484.2h9.8M190.4,543.7h9.8M191.7,474.9h10.7M191.7,550.9h10.7M194.9,485.1h8.0M194.9,540.7h8.0M197.3,476.7h6.7M197.3,551.4h6.7M199.2,490.6h6.6M199.2,542.0h6.6M200.0,483.0h8.6M200.0,556.2h8.6M202.7,494.8h6.7M202.7,553.2h6.7M202.5,495.2h10.8M202.5,563.4h10.8M204.5,504.7h10.4M204.5,566.3h10.4M207.6,514.1h7.7M207.6,570.9h7.7M209.5,527.2h7.7M209.5,573.2h7.7M211.1,536.8h8.0M211.1,580.2h8.0M213.7,547.7h6.5M213.7,587.0h6.5M213.7,549.6h10.1M213.7,603.5h10.1M216.6,561.3h7.9M216.6,610.8h7.9M218.0,575.6h8.7M218.0,615.8h8.7M220.3,583.9h7.7M220.3,627.0h7.7M221.5,597.2h8.8M221.5,633.2h8.8M223.8,605.7h7.9M223.8,643.9h7.9M225.5,622.0h8.1M225.5,646.4h8.1M227.8,626.9h7.1M227.8,659.8h7.1M229.7,638.5h6.9M229.7,665.9h6.9M230.4,649.8h9.1M230.4,671.3h9.1M232.6,659.6h8.3M232.6,677.6h8.3M234.5,665.9h8.0M234.5,686.3h8.0M235.3,673.3h10.1M235.3,693.0h10.1M237.3,682.4h9.7M237.3,697.0h9.7M239.5,687.7h9.0M239.5,703.8h9.0M241.4,694.5h8.9M241.4,708.0h8.9M242.9,699.9h9.4M242.9,712.7h9.4M244.8,706.1h9.2M244.8,715.6h9.2M247.0,709.7h8.4M247.0,720.1h8.4M249.2,713.5h7.7M249.2,723.5h7.7M250.4,717.6h8.9M250.4,725.6h8.9M253.1,720.6h7.1M253.1,728.1h7.1M255.0,723.0h6.8M255.0,730.2h6.8M256.1,725.3h8.3M256.1,731.8h8.3M257.0,726.7h10.2M257.0,733.4h10.2M260.2,727.5h7.3M260.2,734.9h7.3M261.4,728.4h8.4M261.4,735.7h8.4M264.2,729.3h6.5M264.2,735.8h6.5M265.6,728.9h7.3M265.6,736.8h7.3M267.2,729.4h7.7M267.2,736.1h7.7M269.1,728.9h7.6M269.1,736.0h7.6M270.3,728.1h8.7M270.3,736.0h8.7M271.6,727.0h9.7M271.6,735.8h9.7M273.0,724.7h10.5M273.0,736.8h10.5M275.4,724.8h9.4M275.4,735.2h9.4M277.1,722.9h9.6M277.1,735.7h9.6M280.1,722.8h7.2M280.1,734.6h7.2M280.9,721.1h9.3M280.9,735.3h9.3M282.7,721.7h9.3M282.7,734.0h9.3M284.2,722.3h9.8M284.2,733.2h9.8M285.6,720.1h10.7M285.6,735.6h10.7M288.0,722.7h9.4M288.0,733.6h9.4M291.1,721.6h6.9M291.1,735.8h6.9M292.8,723.1h7.2M292.8,735.7h7.2M294.9,725.3h6.4M294.9,735.3h6.4M294.9,726.5h10.1M294.9,736.1h10.1M296.8,727.3h9.9M296.8,737.5h9.9M300.1,728.2h7.0M300.1,738.8h7.0M300.2,730.1h10.3M300.2,739.2h10.3M303.3,732.0h7.8M303.3,739.5h7.8M304.8,734.1h8.3M304.8,739.5h8.3M307.0,735.1h7.5M307.0,740.3h7.5M308.0,735.9h9.2M308.0,741.2h9.2" stroke="#0a2cff" stroke-width="3" fill="none"/>
<line x1="105.0" y1="742.0" x2="646.5" y2="742.0" stroke="#0a2cff" stroke-width="5" stroke-linecap="round"/>
<line x1="105" y1="417.3" x2="105" y2="750" stroke="#000" stroke-width="4"/>
<line x1="96.5" y1="742.0" x2="107" y2="742.0" stroke="#000" stroke-width="4"/>
<line x1="96.5" y1="677.5" x2="107" y2="677.5" stroke="#000" stroke-width="4"/>
<line x1="96.5" y1="612.9" x2="107" y2="612.9" stroke="#000" stroke-width="4"/>
<line x1="96.5" y1="548.4" x2="107" y2="548.4" stroke="#000" stroke-width="4"/>
<line x1="96.5" y1="483.8" x2="107" y2="483.8" stroke="#000" stroke-width="4"/>
<line x1="96.5" y1="419.3" x2="107" y2="419.3" stroke="#000" stroke-width="4"/>
<line x1="105.0" y1="744.5" x2="105.0" y2="750" stroke="#000" stroke-width="4"/>
<line x1="195.2" y1="744.5" x2="195.2" y2="750" stroke="#000" stroke-width="4"/>
<line x1="285.5" y1="744.5" x2="285.5" y2="750" stroke="#000" stroke-width="4"/>
<line x1="375.8" y1="744.5" x2="375.8" y2="750" stroke="#000" stroke-width="4"/>
<line x1="466.0" y1="744.5" x2="466.0" y2="750" stroke="#000" stroke-width="4"/>
<line x1="556.2" y1="744.5" x2="556.2" y2="750" stroke="#000" stroke-width="4"/>
<line x1="646.5" y1="744.5" x2="646.5" y2="750" stroke="#000" stroke-width="4"/>
<line x1="389.7" y1="470" x2="389.7" y2="742" stroke="#000" stroke-width="3" stroke-dasharray="6 5.3" stroke-dashoffset="3.2"/>
<line x1="556.2" y1="470" x2="556.2" y2="742" stroke="#000" stroke-width="3" stroke-dasharray="6 5.3" stroke-dashoffset="3.2"/>
<text x="83.50" y="752.00" font-size="27.4" text-anchor="end" font-weight="normal" fill="#000" >0</text>
<text x="83.50" y="687.46" font-size="27.4" text-anchor="end" font-weight="normal" fill="#000" >20</text>
<text x="83.50" y="622.92" font-size="27.4" text-anchor="end" font-weight="normal" fill="#000" >40</text>
<text x="83.50" y="558.38" font-size="27.4" text-anchor="end" font-weight="normal" fill="#000" >60</text>
<text x="83.50" y="493.84" font-size="27.4" text-anchor="end" font-weight="normal" fill="#000" >80</text>
<text x="83.50" y="429.30" font-size="27.4" text-anchor="end" font-weight="normal" fill="#000" >100</text>
<text x="105.00" y="780.30" font-size="27.4" text-anchor="middle" font-weight="normal" fill="#000" >−200</text>
<text x="195.25" y="780.30" font-size="27.4" text-anchor="middle" font-weight="normal" fill="#000" >−100</text>
<text x="285.50" y="780.30" font-size="27.4" text-anchor="middle" font-weight="normal" fill="#000" >0</text>
<text x="375.75" y="780.30" font-size="27.4" text-anchor="middle" font-weight="normal" fill="#000" >100</text>
<text x="466.00" y="780.30" font-size="27.4" text-anchor="middle" font-weight="normal" fill="#000" >200</text>
<text x="556.25" y="780.30" font-size="27.4" text-anchor="middle" font-weight="normal" fill="#000" >300</text>
<text x="646.50" y="780.30" font-size="27.4" text-anchor="middle" font-weight="normal" fill="#000" >400</text>
<text x="388.50" y="818.00" font-size="27.4" text-anchor="middle" font-weight="normal" fill="#000" >Hounsfield units (HU)</text>
<text transform="translate(22,579.5) rotate(-90)" x="0" y="0" font-size="27.4" text-anchor="middle">Number of voxels</text>
<line x1="124" y1="432.5" x2="150" y2="432.5" stroke="#0a2cff" stroke-width="6" stroke-linecap="round"/>
<line x1="242" y1="432.7" x2="269.4" y2="432.7" stroke="#f7d65a" stroke-width="5"/>
<line x1="464" y1="432.5" x2="489.6" y2="432.5" stroke="#ff2800" stroke-width="6" stroke-linecap="round"/>
<text x="166.50" y="441.30" font-size="27.4" text-anchor="start" font-weight="normal" fill="#000" >WAT</text>
<text x="281.50" y="441.30" font-size="27.4" text-anchor="start" font-weight="normal" fill="#000" >Sternum BM</text>
<text x="505.00" y="441.30" font-size="27.4" text-anchor="start" font-weight="normal" fill="#000" >Vertebral BM</text>
<path d="M163.0,977V1302M151.0,1292.6H532M233.9,977V1302M151.0,1231.6H532M304.8,977V1302M151.0,1170.6H532M375.6,977V1302M151.0,1109.7H532M446.5,977V1302M151.0,1048.7H532M517.4,977V1302M151.0,987.7H532" stroke="#cfcfcf" stroke-width="1" stroke-dasharray="1 1.3" fill="none"/>
<line x1="163.0" y1="1292.6" x2="517.4" y2="987.7" stroke="#e6abab" stroke-width="1.1"/>
<line x1="150.6" y1="977" x2="150.6" y2="1303.5" stroke="#3c3c3c" stroke-width="1.6"/>
<line x1="150" y1="1302.7" x2="532" y2="1302.7" stroke="#3c3c3c" stroke-width="2"/>
<line x1="150.6" y1="1292.6" x2="162.6" y2="1292.6" stroke="#3c3c3c" stroke-width="2"/><line x1="163.0" y1="1302.7" x2="163.0" y2="1296.7" stroke="#3c3c3c" stroke-width="2"/><line x1="150.6" y1="1277.4" x2="156.1" y2="1277.4" stroke="#3c3c3c" stroke-width="1.4"/><line x1="180.7" y1="1302.7" x2="180.7" y2="1299.2" stroke="#3c3c3c" stroke-width="1.4"/><line x1="150.6" y1="1262.1" x2="156.1" y2="1262.1" stroke="#3c3c3c" stroke-width="1.4"/><line x1="198.4" y1="1302.7" x2="198.4" y2="1299.2" stroke="#3c3c3c" stroke-width="1.4"/><line x1="150.6" y1="1246.9" x2="156.1" y2="1246.9" stroke="#3c3c3c" stroke-width="1.4"/><line x1="216.2" y1="1302.7" x2="216.2" y2="1299.2" stroke="#3c3c3c" stroke-width="1.4"/><line x1="150.6" y1="1231.6" x2="162.6" y2="1231.6" stroke="#3c3c3c" stroke-width="2"/><line x1="233.9" y1="1302.7" x2="233.9" y2="1296.7" stroke="#3c3c3c" stroke-width="2"/><line x1="150.6" y1="1216.4" x2="156.1" y2="1216.4" stroke="#3c3c3c" stroke-width="1.4"/><line x1="251.6" y1="1302.7" x2="251.6" y2="1299.2" stroke="#3c3c3c" stroke-width="1.4"/><line x1="150.6" y1="1201.1" x2="156.1" y2="1201.1" stroke="#3c3c3c" stroke-width="1.4"/><line x1="269.3" y1="1302.7" x2="269.3" y2="1299.2" stroke="#3c3c3c" stroke-width="1.4"/><line x1="150.6" y1="1185.9" x2="156.1" y2="1185.9" stroke="#3c3c3c" stroke-width="1.4"/><line x1="287.0" y1="1302.7" x2="287.0" y2="1299.2" stroke="#3c3c3c" stroke-width="1.4"/><line x1="150.6" y1="1170.6" x2="162.6" y2="1170.6" stroke="#3c3c3c" stroke-width="2"/><line x1="304.8" y1="1302.7" x2="304.8" y2="1296.7" stroke="#3c3c3c" stroke-width="2"/><line x1="150.6" y1="1155.4" x2="156.1" y2="1155.4" stroke="#3c3c3c" stroke-width="1.4"/><line x1="322.5" y1="1302.7" x2="322.5" y2="1299.2" stroke="#3c3c3c" stroke-width="1.4"/><line x1="150.6" y1="1140.2" x2="156.1" y2="1140.2" stroke="#3c3c3c" stroke-width="1.4"/><line x1="340.2" y1="1302.7" x2="340.2" y2="1299.2" stroke="#3c3c3c" stroke-width="1.4"/><line x1="150.6" y1="1124.9" x2="156.1" y2="1124.9" stroke="#3c3c3c" stroke-width="1.4"/><line x1="357.9" y1="1302.7" x2="357.9" y2="1299.2" stroke="#3c3c3c" stroke-width="1.4"/><line x1="150.6" y1="1109.7" x2="162.6" y2="1109.7" stroke="#3c3c3c" stroke-width="2"/><line x1="375.6" y1="1302.7" x2="375.6" y2="1296.7" stroke="#3c3c3c" stroke-width="2"/><line x1="150.6" y1="1094.4" x2="156.1" y2="1094.4" stroke="#3c3c3c" stroke-width="1.4"/><line x1="393.4" y1="1302.7" x2="393.4" y2="1299.2" stroke="#3c3c3c" stroke-width="1.4"/><line x1="150.6" y1="1079.2" x2="156.1" y2="1079.2" stroke="#3c3c3c" stroke-width="1.4"/><line x1="411.1" y1="1302.7" x2="411.1" y2="1299.2" stroke="#3c3c3c" stroke-width="1.4"/><line x1="150.6" y1="1063.9" x2="156.1" y2="1063.9" stroke="#3c3c3c" stroke-width="1.4"/><line x1="428.8" y1="1302.7" x2="428.8" y2="1299.2" stroke="#3c3c3c" stroke-width="1.4"/><line x1="150.6" y1="1048.7" x2="162.6" y2="1048.7" stroke="#3c3c3c" stroke-width="2"/><line x1="446.5" y1="1302.7" x2="446.5" y2="1296.7" stroke="#3c3c3c" stroke-width="2"/><line x1="150.6" y1="1033.4" x2="156.1" y2="1033.4" stroke="#3c3c3c" stroke-width="1.4"/><line x1="464.2" y1="1302.7" x2="464.2" y2="1299.2" stroke="#3c3c3c" stroke-width="1.4"/><line x1="150.6" y1="1018.2" x2="156.1" y2="1018.2" stroke="#3c3c3c" stroke-width="1.4"/><line x1="482.0" y1="1302.7" x2="482.0" y2="1299.2" stroke="#3c3c3c" stroke-width="1.4"/><line x1="150.6" y1="1002.9" x2="156.1" y2="1002.9" stroke="#3c3c3c" stroke-width="1.4"/><line x1="499.7" y1="1302.7" x2="499.7" y2="1299.2" stroke="#3c3c3c" stroke-width="1.4"/><line x1="150.6" y1="987.7" x2="162.6" y2="987.7" stroke="#3c3c3c" stroke-width="2"/><line x1="517.4" y1="1302.7" x2="517.4" y2="1296.7" stroke="#3c3c3c" stroke-width="2"/>
<path d="M163.00,1292.30 C163.00,1287.26 162.88,1272.22 163.00,1262.11 C163.12,1252.00 163.35,1241.78 163.71,1231.62 C164.06,1221.46 164.54,1211.29 165.13,1201.13 C165.72,1190.97 166.43,1180.80 167.25,1170.64 C168.08,1160.48 168.43,1150.31 170.09,1140.15 C171.74,1129.99 174.93,1117.28 177.18,1109.66 C179.42,1102.04 180.78,1099.50 183.56,1094.41 C186.33,1089.33 190.41,1083.24 193.83,1079.17 C197.26,1075.10 200.63,1072.56 204.11,1070.02 C207.60,1067.48 210.49,1066.47 214.74,1063.92 C219.00,1061.38 224.55,1057.32 229.63,1054.78 C234.71,1052.24 238.90,1050.71 245.22,1048.68 C251.54,1046.65 260.28,1044.61 267.55,1042.58 C274.81,1040.55 280.48,1038.52 288.81,1036.48 C297.14,1034.45 307.00,1032.42 317.52,1030.39 C328.03,1028.35 339.49,1026.32 351.90,1024.29 C364.30,1022.26 377.65,1020.22 391.94,1018.19 C406.24,1016.16 423.37,1014.12 437.66,1012.09 C451.95,1010.06 467.25,1008.03 477.71,1005.99 C488.16,1003.96 494.42,1001.93 500.39,999.90 C506.35,997.86 510.67,995.83 513.50,993.80 C516.34,991.77 516.75,988.72 517.40,987.70" fill="none" stroke="#9b2f66" stroke-width="9.5" stroke-linejoin="round" stroke-linecap="square"/>
<path d="M163.00,1292.30 C163.00,1287.26 162.88,1272.22 163.00,1262.11 C163.12,1252.00 163.35,1241.78 163.71,1231.62 C164.06,1221.46 164.54,1211.29 165.13,1201.13 C165.72,1190.97 166.43,1180.80 167.25,1170.64 C168.08,1160.48 168.43,1150.31 170.09,1140.15 C171.74,1129.99 174.93,1117.28 177.18,1109.66 C179.42,1102.04 180.78,1099.50 183.56,1094.41 C186.33,1089.33 190.41,1083.24 193.83,1079.17 C197.26,1075.10 200.63,1072.56 204.11,1070.02 C207.60,1067.48 210.49,1066.47 214.74,1063.92 C219.00,1061.38 224.55,1057.32 229.63,1054.78 C234.71,1052.24 238.90,1050.71 245.22,1048.68 C251.54,1046.65 260.28,1044.61 267.55,1042.58 C274.81,1040.55 280.48,1038.52 288.81,1036.48 C297.14,1034.45 307.00,1032.42 317.52,1030.39 C328.03,1028.35 339.49,1026.32 351.90,1024.29 C364.30,1022.26 377.65,1020.22 391.94,1018.19 C406.24,1016.16 423.37,1014.12 437.66,1012.09 C451.95,1010.06 467.25,1008.03 477.71,1005.99 C488.16,1003.96 494.42,1001.93 500.39,999.90 C506.35,997.86 510.67,995.83 513.50,993.80 C516.34,991.77 516.75,988.72 517.40,987.70" fill="none" stroke="#d85030" stroke-width="3.2" stroke-dasharray="1.2 4" stroke-linejoin="round" opacity="0.6"/>
<rect x="512.9" y="983.7" width="8.5" height="8" fill="#ff6a00" stroke="#9b2f66" stroke-width="1.2"/>
<rect x="346.8" y="1237.8" width="170.4" height="55" fill="#fff" stroke="#2a2a2a" stroke-width="1.6"/>
<text x="360.50" y="1259.30" font-size="20.5" text-anchor="start" font-weight="normal" fill="#000" >AUC = 0.846</text>
<text x="361.3" y="1284.5" font-size="20.5"><tspan font-style="italic">P</tspan> &lt; 0.001</text>
<text x="138.30" y="1302.20" font-size="28.4" text-anchor="end" font-weight="normal" fill="#000" >0</text>
<text x="138.30" y="1241.22" font-size="28.4" text-anchor="end" font-weight="normal" fill="#000" >20</text>
<text x="138.30" y="1180.24" font-size="28.4" text-anchor="end" font-weight="normal" fill="#000" >40</text>
<text x="138.30" y="1119.26" font-size="28.4" text-anchor="end" font-weight="normal" fill="#000" >60</text>
<text x="138.30" y="1058.28" font-size="28.4" text-anchor="end" font-weight="normal" fill="#000" >80</text>
<text x="138.30" y="997.30" font-size="28.4" text-anchor="end" font-weight="normal" fill="#000" >100</text>
<text x="233.88" y="1335.00" font-size="28.4" text-anchor="middle" font-weight="normal" fill="#000" >20</text>
<text x="304.76" y="1335.00" font-size="28.4" text-anchor="middle" font-weight="normal" fill="#000" >40</text>
<text x="375.64" y="1335.00" font-size="28.4" text-anchor="middle" font-weight="normal" fill="#000" >60</text>
<text x="446.52" y="1335.00" font-size="28.4" text-anchor="middle" font-weight="normal" fill="#000" >80</text>
<text x="517.40" y="1335.00" font-size="28.4" text-anchor="middle" font-weight="normal" fill="#000" >100</text>
<text x="151.50" y="1335.00" font-size="28.4" text-anchor="middle" font-weight="normal" fill="#000" >0</text>
<text x="330.20" y="934.90" font-size="29.0" text-anchor="middle" font-weight="normal" fill="#000" >ROC analysis:</text>
<text x="330.30" y="968.90" font-size="28.8" text-anchor="middle" font-weight="normal" fill="#000" >Sternum vs vertebrae</text>
<text x="331.80" y="1374.20" font-size="28.6" text-anchor="middle" font-weight="normal" fill="#000" >100-specificity</text>
<text transform="translate(70.5,1141.3) rotate(-90)" x="0" y="0" font-size="28.4" text-anchor="middle">Sensitivity (%)</text>
<rect x="762" y="52" width="636" height="39.7" fill="#000"/>
<rect x="1398" y="52" width="1" height="39.7" fill="#555"/>
<text x="921.60" y="80.80" font-size="27.6" text-anchor="start" font-weight="normal" fill="#8f8f8f" >Bone</text>
<text x="1041.60" y="80.80" font-size="27.6" text-anchor="start" font-weight="normal" fill="#ffff33" >BMAT</text>
<text x="1196.20" y="80.80" font-size="27.6" text-anchor="start" font-weight="normal" fill="#ff2a00" >RM</text>
<rect x="763.2" y="99" width="210.1" height="669" fill="#000"/>
<rect x="976.7" y="99" width="209.3" height="669" fill="#000"/>
<rect x="1189.1" y="99" width="208.5" height="669" fill="#000"/>
<defs>
<filter id="sk" x="-10%" y="-10%" width="120%" height="120%"><feGaussianBlur stdDeviation="0.6"/></filter>
<radialGradient id="skull" cx="45%" cy="45%" r="60%"><stop offset="0" stop-color="#a2a2a2"/><stop offset="0.75" stop-color="#8a8a8a"/><stop offset="1" stop-color="#707070"/></radialGradient>
</defs>
<g filter="url(#sk)"><path d="M895.0,570.0 L874.0,610.0 L855.0,646.0 L839.0,676.0" fill="none" stroke="#9a9a9a" stroke-width="9.5" stroke-linecap="round" stroke-linejoin="round" opacity="0.55"/><path d="M895.0,570.0 L874.0,610.0 L855.0,646.0 L839.0,676.0" fill="none" stroke="#757575" stroke-width="7" stroke-linecap="round" stroke-linejoin="round" opacity="0.8"/><path d="M895.0,570.0 L874.0,610.0 L855.0,646.0 L839.0,676.0" fill="none" stroke="#828282" stroke-width="3.15" stroke-linecap="round" stroke-linejoin="round" opacity="0.7"/><path d="M907.0,573.0 L887.0,613.0 L867.0,650.0 L851.0,680.0" fill="none" stroke="#9a9a9a" stroke-width="14.5" stroke-linecap="round" stroke-linejoin="round" opacity="0.55"/><path d="M907.0,573.0 L887.0,613.0 L867.0,650.0 L851.0,680.0" fill="none" stroke="#757575" stroke-width="12" stroke-linecap="round" stroke-linejoin="round" opacity="0.92"/><path d="M907.0,573.0 L887.0,613.0 L867.0,650.0 L851.0,680.0" fill="none" stroke="#828282" stroke-width="5.4" stroke-linecap="round" stroke-linejoin="round" opacity="0.7"/><path d="M907.0,573.0 L887.0,613.0 L867.0,650.0 L851.0,680.0" fill="none" stroke="#e6e63c" stroke-width="4.800000000000001" stroke-linecap="round" stroke-linejoin="round" opacity="1.0"/><path d="M907.0,573.0 L906.1,574.9 L905.1,576.8 L904.2,578.7 L903.2,580.6 L902.3,582.5 L901.3,584.3 L900.4,586.2 L899.4,588.1" fill="none" stroke="#c81e28" stroke-width="10.8" stroke-linecap="round" stroke-linejoin="round" opacity="0.95"/><path d="M859.0,665.1 L858.0,666.9 L857.0,668.8 L856.0,670.7 L855.0,672.5 L854.0,674.4 L853.0,676.3 L852.0,678.1 L851.0,680.0" fill="none" stroke="#c81e28" stroke-width="9.600000000000001" stroke-linecap="round" stroke-linejoin="round" opacity="0.95"/><path d="M849.0,446.0 L872.0,482.0 L895.0,518.0 L914.0,556.0" fill="none" stroke="#9a9a9a" stroke-width="16.5" stroke-linecap="round" stroke-linejoin="round" opacity="0.55"/><path d="M849.0,446.0 L872.0,482.0 L895.0,518.0 L914.0,556.0" fill="none" stroke="#757575" stroke-width="14" stroke-linecap="round" stroke-linejoin="round" opacity="0.92"/><path d="M849.0,446.0 L872.0,482.0 L895.0,518.0 L914.0,556.0" fill="none" stroke="#828282" stroke-width="6.3" stroke-linecap="round" stroke-linejoin="round" opacity="0.7"/><path d="M849.0,446.0 L872.0,482.0 L895.0,518.0 L914.0,556.0" fill="none" stroke="#e6e63c" stroke-width="5.6000000000000005" stroke-linecap="round" stroke-linejoin="round" opacity="1.0"/><path d="M894.5,517.1 L897.0,522.0 L899.4,526.8 L901.8,531.7 L904.3,536.5 L906.7,541.4 L909.1,546.3 L911.6,551.1 L914.0,556.0" fill="none" stroke="#c81e28" stroke-width="10.5" stroke-linecap="round" stroke-linejoin="round" opacity="0.95"/><path d="M904,548 C912,542 928,544 934,552 C937,560 934,568 926,570 C915,571 906,566 904,548 Z" fill="#868686"/><path d="M895,568 C902,564 914,564 918,570 C916,578 906,582 896,580 Z" fill="#c81e28"/><circle cx="912" cy="562" r="3" fill="#e6e63c"/><path d="M824,684 C834,674 852,676 858,688 C862,702 860,716 864,732 C868,742 872,748 870,754 C860,758 842,758 834,752 C828,740 826,722 826,708 C822,700 820,690 824,684 Z" fill="#757575" opacity="0.92"/><path d="M820,686 C828,678 846,678 852,690 C850,702 840,708 830,706 C822,702 818,694 820,686 Z" fill="#c81e28"/><ellipse cx="826" cy="694" rx="5" ry="7" fill="#e6e63c"/><ellipse cx="841.0" cy="723.4" rx="2.9" ry="2.0" fill="#c81e28" opacity="0.95" transform="rotate(91 841.0 723.4)"/><ellipse cx="843.7" cy="714.4" rx="2.1" ry="1.7" fill="#c81e28" opacity="0.95" transform="rotate(143 843.7 714.4)"/><ellipse cx="833.9" cy="717.3" rx="1.4" ry="1.2" fill="#c81e28" opacity="0.95" transform="rotate(125 833.9 717.3)"/><ellipse cx="851.3" cy="725.7" rx="2.3" ry="1.2" fill="#c81e28" opacity="0.95" transform="rotate(3 851.3 725.7)"/><ellipse cx="842.6" cy="711.4" rx="1.5" ry="0.9" fill="#c81e28" opacity="0.95" transform="rotate(5 842.6 711.4)"/><ellipse cx="841.3" cy="720.6" rx="2.7" ry="2.0" fill="#c81e28" opacity="0.95" transform="rotate(115 841.3 720.6)"/><ellipse cx="842.0" cy="725.9" rx="2.0" ry="1.2" fill="#c81e28" opacity="0.95" transform="rotate(180 842.0 725.9)"/><ellipse cx="846.2" cy="717.6" rx="1.6" ry="1.0" fill="#c81e28" opacity="0.95" transform="rotate(13 846.2 717.6)"/><ellipse cx="847.3" cy="719.6" rx="2.7" ry="1.8" fill="#c81e28" opacity="0.95" transform="rotate(172 847.3 719.6)"/><ellipse cx="841.4" cy="733.5" rx="1.9" ry="0.9" fill="#c81e28" opacity="0.95" transform="rotate(113 841.4 733.5)"/><ellipse cx="847.6" cy="716.5" rx="1.4" ry="0.9" fill="#c81e28" opacity="0.95" transform="rotate(174 847.6 716.5)"/><ellipse cx="847.2" cy="712.8" rx="1.6" ry="0.8" fill="#c81e28" opacity="0.95" transform="rotate(11 847.2 712.8)"/><ellipse cx="847.9" cy="714.3" rx="2.2" ry="1.5" fill="#c81e28" opacity="0.95" transform="rotate(34 847.9 714.3)"/><ellipse cx="846.6" cy="713.1" rx="2.4" ry="1.2" fill="#c81e28" opacity="0.95" transform="rotate(76 846.6 713.1)"/><ellipse cx="835.4" cy="722.5" rx="2.2" ry="1.9" fill="#e6e63c" opacity="0.95" transform="rotate(55 835.4 722.5)"/><ellipse cx="846.2" cy="721.1" rx="1.5" ry="1.4" fill="#e6e63c" opacity="0.95" transform="rotate(116 846.2 721.1)"/><ellipse cx="835.4" cy="722.2" rx="1.9" ry="1.2" fill="#e6e63c" opacity="0.95" transform="rotate(53 835.4 722.2)"/><ellipse cx="841.3" cy="721.8" rx="1.7" ry="1.1" fill="#e6e63c" opacity="0.95" transform="rotate(82 841.3 721.8)"/><ellipse cx="847.3" cy="727.6" rx="1.7" ry="1.6" fill="#e6e63c" opacity="0.95" transform="rotate(33 847.3 727.6)"/><ellipse cx="845.1" cy="722.0" rx="1.2" ry="1.1" fill="#e6e63c" opacity="0.95" transform="rotate(169 845.1 722.0)"/><path d="M850.0,748.0 L866.0,752.0" fill="none" stroke="#aaa" stroke-width="2" stroke-linecap="round" stroke-linejoin="round" opacity="0.8"/><path d="M848.0,752.0 L862.0,757.0" fill="none" stroke="#aaa" stroke-width="2" stroke-linecap="round" stroke-linejoin="round" opacity="0.8"/><clipPath id="rc1"><path d="M812,380 C818,368 840,366 856,374 C868,384 872,404 866,420 C864,434 858,446 846,448 C832,448 824,440 820,428 C812,420 806,400 812,380 Z"/></clipPath><g clip-path="url(#rc1)"><rect x="800" y="360" width="80" height="95" fill="#c81e28"/><ellipse cx="859.9" cy="412.0" rx="3.3" ry="1.7" fill="#8c8c8c" opacity="0.7" transform="rotate(7 859.9 412.0)"/><ellipse cx="850.6" cy="388.5" rx="4.5" ry="3.5" fill="#8c8c8c" opacity="0.7" transform="rotate(53 850.6 388.5)"/><ellipse cx="823.1" cy="420.0" rx="2.2" ry="1.3" fill="#8c8c8c" opacity="0.7" transform="rotate(101 823.1 420.0)"/><ellipse cx="858.3" cy="412.8" rx="2.8" ry="2.7" fill="#8c8c8c" opacity="0.7" transform="rotate(37 858.3 412.8)"/><ellipse cx="837.2" cy="375.1" rx="2.5" ry="1.7" fill="#8c8c8c" opacity="0.7" transform="rotate(103 837.2 375.1)"/><ellipse cx="820.8" cy="395.6" rx="4.7" ry="4.6" fill="#8c8c8c" opacity="0.7" transform="rotate(118 820.8 395.6)"/><ellipse cx="849.9" cy="410.7" rx="2.4" ry="1.1" fill="#8c8c8c" opacity="0.7" transform="rotate(3 849.9 410.7)"/><ellipse cx="861.3" cy="418.7" rx="4.9" ry="2.3" fill="#8c8c8c" opacity="0.7" transform="rotate(115 861.3 418.7)"/><ellipse cx="839.1" cy="420.7" rx="3.0" ry="3.0" fill="#8c8c8c" opacity="0.7" transform="rotate(14 839.1 420.7)"/><ellipse cx="842.4" cy="421.1" rx="4.7" ry="4.0" fill="#8c8c8c" opacity="0.7" transform="rotate(127 842.4 421.1)"/><ellipse cx="832.3" cy="417.6" rx="4.7" ry="4.4" fill="#8c8c8c" opacity="0.7" transform="rotate(75 832.3 417.6)"/><ellipse cx="855.1" cy="429.7" rx="3.7" ry="3.0" fill="#8c8c8c" opacity="0.7" transform="rotate(69 855.1 429.7)"/><ellipse cx="844.3" cy="412.4" rx="2.2" ry="1.8" fill="#8c8c8c" opacity="0.7" transform="rotate(179 844.3 412.4)"/><ellipse cx="859.7" cy="420.5" rx="3.2" ry="2.7" fill="#8c8c8c" opacity="0.7" transform="rotate(105 859.7 420.5)"/><ellipse cx="836.9" cy="428.0" rx="2.3" ry="1.9" fill="#8c8c8c" opacity="0.7" transform="rotate(5 836.9 428.0)"/><ellipse cx="845.3" cy="403.7" rx="2.7" ry="2.2" fill="#8c8c8c" opacity="0.7" transform="rotate(90 845.3 403.7)"/><ellipse cx="843.5" cy="435.2" rx="4.0" ry="1.8" fill="#a8181f" opacity="0.95" transform="rotate(54 843.5 435.2)"/><ellipse cx="846.6" cy="392.2" rx="3.7" ry="3.5" fill="#a8181f" opacity="0.95" transform="rotate(119 846.6 392.2)"/><ellipse cx="835.2" cy="433.5" rx="4.3" ry="3.5" fill="#a8181f" opacity="0.95" transform="rotate(36 835.2 433.5)"/><ellipse cx="834.7" cy="428.4" rx="6.7" ry="6.2" fill="#a8181f" opacity="0.95" transform="rotate(69 834.7 428.4)"/><ellipse cx="842.0" cy="399.0" rx="3.5" ry="2.6" fill="#a8181f" opacity="0.95" transform="rotate(151 842.0 399.0)"/><ellipse cx="854.7" cy="422.7" rx="6.8" ry="4.1" fill="#a8181f" opacity="0.95" transform="rotate(30 854.7 422.7)"/><ellipse cx="835.6" cy="396.5" rx="3.9" ry="2.6" fill="#a8181f" opacity="0.95" transform="rotate(113 835.6 396.5)"/><ellipse cx="837.7" cy="398.9" rx="6.4" ry="6.3" fill="#a8181f" opacity="0.95" transform="rotate(81 837.7 398.9)"/><ellipse cx="848.0" cy="414.2" rx="4.2" ry="3.8" fill="#a8181f" opacity="0.95" transform="rotate(3 848.0 414.2)"/><ellipse cx="820.5" cy="407.3" rx="3.1" ry="2.8" fill="#a8181f" opacity="0.95" transform="rotate(43 820.5 407.3)"/></g><ellipse cx="813" cy="402" rx="5" ry="9" fill="#e6e63c"/><circle cx="843" cy="437" r="5" fill="#9a1018"/><path d="M834.0,336.0 L836.0,356.0 L840.0,374.0" fill="none" stroke="#7a7a7a" stroke-width="13" stroke-linecap="round" stroke-linejoin="round" opacity="0.9"/><path d="M836.0,340.0 L838.0,358.0 L841.0,372.0" fill="none" stroke="#c81e28" stroke-width="8" stroke-linecap="round" stroke-linejoin="round" opacity="0.95"/><clipPath id="rc2"><path d="M796.7,225 C797,250 799,262 800,273.6 C802,290 804,300 806.8,307.2 C810,322 814,333 818,341 C830,346 850,342 867.4,335.3 C868,318 868,300 867.4,284.8 C864,262 858,240 850,222 C848,214 846,210 843.9,206.2 C835,203 826,203 818,204 C808,210 800,216 796.7,225 Z"/></clipPath><g clip-path="url(#rc2)"><rect x="790" y="200" width="85" height="150" fill="#9c6a6e"/><path d="M774.9,194.6 q42.0,20.0 84.0,46.0" stroke="#8e8e8e" stroke-width="6.8" fill="none" opacity="0.9"/><path d="M774.9,194.6 q42.0,20.0 84.0,46.0" stroke="#c81e28" stroke-width="3.8" fill="none"/><path d="M777.9,204.6 q42.0,20.0 84.0,46.0" stroke="#8e8e8e" stroke-width="6.8" fill="none" opacity="0.9"/><path d="M777.9,204.6 q42.0,20.0 84.0,46.0" stroke="#c81e28" stroke-width="3.8" fill="none"/><path d="M779.4,214.0 q42.0,20.0 84.0,46.0" stroke="#8e8e8e" stroke-width="6.8" fill="none" opacity="0.9"/><path d="M779.4,214.0 q42.0,20.0 84.0,46.0" stroke="#c81e28" stroke-width="3.8" fill="none"/><path d="M781.4,223.6 q42.0,20.0 84.0,46.0" stroke="#8e8e8e" stroke-width="6.8" fill="none" opacity="0.9"/><path d="M781.4,223.6 q42.0,20.0 84.0,46.0" stroke="#c81e28" stroke-width="3.8" fill="none"/><path d="M782.6,230.1 q42.0,20.0 84.0,46.0" stroke="#8e8e8e" stroke-width="6.8" fill="none" opacity="0.9"/><path d="M782.6,230.1 q42.0,20.0 84.0,46.0" stroke="#c81e28" stroke-width="3.8" fill="none"/><path d="M783.4,238.8 q42.0,20.0 84.0,46.0" stroke="#8e8e8e" stroke-width="6.8" fill="none" opacity="0.9"/><path d="M783.4,238.8 q42.0,20.0 84.0,46.0" stroke="#c81e28" stroke-width="3.8" fill="none"/><path d="M783.5,248.4 q42.0,20.0 84.0,46.0" stroke="#8e8e8e" stroke-width="6.8" fill="none" opacity="0.9"/><path d="M783.5,248.4 q42.0,20.0 84.0,46.0" stroke="#c81e28" stroke-width="3.8" fill="none"/><path d="M787.1,256.3 q42.0,20.0 84.0,46.0" stroke="#8e8e8e" stroke-width="6.8" fill="none" opacity="0.9"/><path d="M787.1,256.3 q42.0,20.0 84.0,46.0" stroke="#c81e28" stroke-width="3.8" fill="none"/><path d="M787.3,265.5 q42.0,20.0 84.0,46.0" stroke="#8e8e8e" stroke-width="6.8" fill="none" opacity="0.9"/><path d="M787.3,265.5 q42.0,20.0 84.0,46.0" stroke="#c81e28" stroke-width="3.8" fill="none"/><path d="M790.1,274.8 q42.0,20.0 84.0,46.0" stroke="#8e8e8e" stroke-width="6.8" fill="none" opacity="0.9"/><path d="M790.1,274.8 q42.0,20.0 84.0,46.0" stroke="#c81e28" stroke-width="3.8" fill="none"/><path d="M791.3,284.3 q42.0,20.0 84.0,46.0" stroke="#8e8e8e" stroke-width="6.8" fill="none" opacity="0.9"/><path d="M791.3,284.3 q42.0,20.0 84.0,46.0" stroke="#c81e28" stroke-width="3.8" fill="none"/><path d="M792.2,293.1 q42.0,20.0 84.0,46.0" stroke="#8e8e8e" stroke-width="6.8" fill="none" opacity="0.9"/><path d="M792.2,293.1 q42.0,20.0 84.0,46.0" stroke="#c81e28" stroke-width="3.8" fill="none"/><path d="M795.2,299.8 q42.0,20.0 84.0,46.0" stroke="#8e8e8e" stroke-width="6.8" fill="none" opacity="0.9"/><path d="M795.2,299.8 q42.0,20.0 84.0,46.0" stroke="#c81e28" stroke-width="3.8" fill="none"/><path d="M796.8,310.4 q42.0,20.0 84.0,46.0" stroke="#8e8e8e" stroke-width="6.8" fill="none" opacity="0.9"/><path d="M796.8,310.4 q42.0,20.0 84.0,46.0" stroke="#c81e28" stroke-width="3.8" fill="none"/><path d="M795.9,318.4 q42.0,20.0 84.0,46.0" stroke="#8e8e8e" stroke-width="6.8" fill="none" opacity="0.9"/><path d="M795.9,318.4 q42.0,20.0 84.0,46.0" stroke="#c81e28" stroke-width="3.8" fill="none"/><path d="M798.9,328.5 q42.0,20.0 84.0,46.0" stroke="#8e8e8e" stroke-width="6.8" fill="none" opacity="0.9"/><path d="M798.9,328.5 q42.0,20.0 84.0,46.0" stroke="#c81e28" stroke-width="3.8" fill="none"/><path d="M799.6,336.2 q42.0,20.0 84.0,46.0" stroke="#8e8e8e" stroke-width="6.8" fill="none" opacity="0.9"/><path d="M799.6,336.2 q42.0,20.0 84.0,46.0" stroke="#c81e28" stroke-width="3.8" fill="none"/><ellipse cx="849.8" cy="286.3" rx="4.3" ry="3.1" fill="#c81e28" opacity="0.95" transform="rotate(117 849.8 286.3)"/><ellipse cx="819.2" cy="286.8" rx="4.0" ry="3.2" fill="#c81e28" opacity="0.95" transform="rotate(129 819.2 286.8)"/><ellipse cx="824.2" cy="303.9" rx="4.4" ry="4.4" fill="#c81e28" opacity="0.95" transform="rotate(97 824.2 303.9)"/><ellipse cx="833.7" cy="241.3" rx="4.2" ry="3.9" fill="#c81e28" opacity="0.95" transform="rotate(63 833.7 241.3)"/><ellipse cx="806.7" cy="261.0" rx="3.2" ry="2.7" fill="#c81e28" opacity="0.95" transform="rotate(88 806.7 261.0)"/><ellipse cx="807.8" cy="249.8" rx="3.9" ry="2.0" fill="#c81e28" opacity="0.95" transform="rotate(27 807.8 249.8)"/><ellipse cx="832.5" cy="283.4" rx="4.0" ry="3.3" fill="#c81e28" opacity="0.95" transform="rotate(170 832.5 283.4)"/><ellipse cx="837.3" cy="305.5" rx="1.8" ry="1.0" fill="#c81e28" opacity="0.95" transform="rotate(95 837.3 305.5)"/><ellipse cx="823.0" cy="286.5" rx="3.4" ry="2.5" fill="#c81e28" opacity="0.95" transform="rotate(152 823.0 286.5)"/><ellipse cx="823.7" cy="243.1" rx="2.6" ry="2.4" fill="#c81e28" opacity="0.95" transform="rotate(162 823.7 243.1)"/><ellipse cx="822.7" cy="299.2" rx="4.4" ry="3.3" fill="#c81e28" opacity="0.95" transform="rotate(103 822.7 299.2)"/><ellipse cx="814.2" cy="268.9" rx="3.0" ry="2.4" fill="#c81e28" opacity="0.95" transform="rotate(5 814.2 268.9)"/><ellipse cx="846.4" cy="258.2" rx="2.7" ry="2.4" fill="#c81e28" opacity="0.95" transform="rotate(101 846.4 258.2)"/><ellipse cx="830.6" cy="280.5" rx="1.7" ry="1.3" fill="#c81e28" opacity="0.95" transform="rotate(74 830.6 280.5)"/><ellipse cx="815.5" cy="262.0" rx="1.9" ry="1.3" fill="#c81e28" opacity="0.95" transform="rotate(147 815.5 262.0)"/><ellipse cx="842.4" cy="255.2" rx="2.5" ry="1.4" fill="#c81e28" opacity="0.95" transform="rotate(111 842.4 255.2)"/><ellipse cx="805.9" cy="239.1" rx="3.6" ry="2.2" fill="#c81e28" opacity="0.95" transform="rotate(64 805.9 239.1)"/><ellipse cx="820.9" cy="222.5" rx="3.7" ry="1.9" fill="#c81e28" opacity="0.95" transform="rotate(92 820.9 222.5)"/><ellipse cx="807.6" cy="235.6" rx="3.1" ry="2.1" fill="#c81e28" opacity="0.95" transform="rotate(68 807.6 235.6)"/><ellipse cx="823.1" cy="265.8" rx="2.0" ry="1.1" fill="#c81e28" opacity="0.95" transform="rotate(114 823.1 265.8)"/><ellipse cx="832.7" cy="263.3" rx="4.1" ry="3.2" fill="#c81e28" opacity="0.95" transform="rotate(154 832.7 263.3)"/><ellipse cx="820.9" cy="288.3" rx="3.9" ry="3.7" fill="#c81e28" opacity="0.95" transform="rotate(57 820.9 288.3)"/><ellipse cx="829.1" cy="304.9" rx="2.2" ry="2.2" fill="#c81e28" opacity="0.95" transform="rotate(160 829.1 304.9)"/><ellipse cx="803.7" cy="241.0" rx="3.7" ry="2.2" fill="#c81e28" opacity="0.95" transform="rotate(17 803.7 241.0)"/><ellipse cx="838.1" cy="250.6" rx="3.9" ry="2.0" fill="#c81e28" opacity="0.95" transform="rotate(73 838.1 250.6)"/><ellipse cx="818.0" cy="283.0" rx="4.2" ry="4.2" fill="#c81e28" opacity="0.95" transform="rotate(21 818.0 283.0)"/><ellipse cx="832.9" cy="286.9" rx="3.0" ry="2.5" fill="#c81e28" opacity="0.95" transform="rotate(34 832.9 286.9)"/><ellipse cx="807.7" cy="272.3" rx="3.0" ry="2.3" fill="#c81e28" opacity="0.95" transform="rotate(26 807.7 272.3)"/><ellipse cx="804.9" cy="237.0" rx="4.0" ry="4.0" fill="#c81e28" opacity="0.95" transform="rotate(167 804.9 237.0)"/><ellipse cx="844.2" cy="253.2" rx="3.8" ry="2.4" fill="#c81e28" opacity="0.95" transform="rotate(84 844.2 253.2)"/><ellipse cx="824.8" cy="255.1" rx="3.3" ry="1.5" fill="#c81e28" opacity="0.95" transform="rotate(126 824.8 255.1)"/><ellipse cx="832.4" cy="227.3" rx="2.9" ry="2.5" fill="#c81e28" opacity="0.95" transform="rotate(73 832.4 227.3)"/><ellipse cx="804.4" cy="233.1" rx="3.0" ry="1.4" fill="#c81e28" opacity="0.95" transform="rotate(161 804.4 233.1)"/><ellipse cx="844.1" cy="278.3" rx="4.1" ry="3.3" fill="#c81e28" opacity="0.95" transform="rotate(73 844.1 278.3)"/><ellipse cx="830.3" cy="261.3" rx="4.4" ry="4.0" fill="#c81e28" opacity="0.95" transform="rotate(46 830.3 261.3)"/><ellipse cx="849.8" cy="280.9" rx="3.8" ry="3.4" fill="#c81e28" opacity="0.95" transform="rotate(73 849.8 280.9)"/><ellipse cx="841.2" cy="285.6" rx="3.8" ry="2.6" fill="#c81e28" opacity="0.95" transform="rotate(130 841.2 285.6)"/><ellipse cx="803.7" cy="251.6" rx="2.9" ry="1.3" fill="#c81e28" opacity="0.95" transform="rotate(64 803.7 251.6)"/><ellipse cx="835.1" cy="272.4" rx="2.2" ry="2.1" fill="#c81e28" opacity="0.95" transform="rotate(120 835.1 272.4)"/><ellipse cx="823.2" cy="279.3" rx="3.2" ry="2.4" fill="#c81e28" opacity="0.95" transform="rotate(70 823.2 279.3)"/><ellipse cx="827.2" cy="270.9" rx="4.9" ry="2.3" fill="#b08a8c" opacity="0.8" transform="rotate(111 827.2 270.9)"/><ellipse cx="828.6" cy="230.5" rx="3.2" ry="1.5" fill="#b08a8c" opacity="0.8" transform="rotate(35 828.6 230.5)"/><ellipse cx="815.5" cy="217.9" rx="2.8" ry="2.6" fill="#b08a8c" opacity="0.8" transform="rotate(99 815.5 217.9)"/><ellipse cx="820.3" cy="287.4" rx="3.7" ry="3.7" fill="#b08a8c" opacity="0.8" transform="rotate(115 820.3 287.4)"/><ellipse cx="823.5" cy="270.7" rx="2.1" ry="2.1" fill="#b08a8c" opacity="0.8" transform="rotate(29 823.5 270.7)"/><ellipse cx="819.0" cy="223.5" rx="3.5" ry="2.7" fill="#b08a8c" opacity="0.8" transform="rotate(11 819.0 223.5)"/><ellipse cx="836.0" cy="243.7" rx="3.6" ry="2.8" fill="#b08a8c" opacity="0.8" transform="rotate(66 836.0 243.7)"/><ellipse cx="812.3" cy="262.4" rx="3.7" ry="2.2" fill="#b08a8c" opacity="0.8" transform="rotate(129 812.3 262.4)"/><ellipse cx="807.6" cy="270.4" rx="3.2" ry="3.0" fill="#b08a8c" opacity="0.8" transform="rotate(135 807.6 270.4)"/><ellipse cx="834.6" cy="244.4" rx="3.4" ry="3.4" fill="#b08a8c" opacity="0.8" transform="rotate(44 834.6 244.4)"/><ellipse cx="820.8" cy="285.0" rx="4.2" ry="2.9" fill="#b08a8c" opacity="0.8" transform="rotate(176 820.8 285.0)"/><ellipse cx="831.4" cy="258.3" rx="2.3" ry="1.9" fill="#b08a8c" opacity="0.8" transform="rotate(82 831.4 258.3)"/><ellipse cx="821.0" cy="219.9" rx="3.3" ry="2.7" fill="#b08a8c" opacity="0.8" transform="rotate(82 821.0 219.9)"/><ellipse cx="811.4" cy="256.6" rx="3.3" ry="2.9" fill="#b08a8c" opacity="0.8" transform="rotate(96 811.4 256.6)"/><path d="M830,238 l16,9" stroke="#000" stroke-width="3.5" stroke-linecap="round" opacity="0.85"/><path d="M834,252 l16,9" stroke="#000" stroke-width="3.5" stroke-linecap="round" opacity="0.85"/><path d="M838,270 l16,9" stroke="#000" stroke-width="3.5" stroke-linecap="round" opacity="0.85"/><path d="M846,292 l16,9" stroke="#000" stroke-width="3.5" stroke-linecap="round" opacity="0.85"/><path d="M850,310 l16,9" stroke="#000" stroke-width="3.5" stroke-linecap="round" opacity="0.85"/></g><ellipse cx="835.6" cy="209.8" rx="1.8" ry="1.7" fill="#c81e28" opacity="0.95" transform="rotate(141 835.6 209.8)"/><ellipse cx="833.0" cy="211.7" rx="2.2" ry="1.8" fill="#c81e28" opacity="0.95" transform="rotate(102 833.0 211.7)"/><ellipse cx="832.2" cy="216.1" rx="3.4" ry="1.9" fill="#c81e28" opacity="0.95" transform="rotate(45 832.2 216.1)"/><ellipse cx="819.5" cy="210.3" rx="2.6" ry="2.0" fill="#c81e28" opacity="0.95" transform="rotate(18 819.5 210.3)"/><ellipse cx="831.0" cy="207.2" rx="1.7" ry="1.4" fill="#c81e28" opacity="0.95" transform="rotate(99 831.0 207.2)"/><ellipse cx="833.1" cy="212.0" rx="2.7" ry="1.5" fill="#c81e28" opacity="0.95" transform="rotate(62 833.1 212.0)"/><ellipse cx="835.9" cy="219.4" rx="1.7" ry="0.9" fill="#c81e28" opacity="0.95" transform="rotate(146 835.9 219.4)"/><ellipse cx="833.0" cy="218.3" rx="2.0" ry="1.4" fill="#c81e28" opacity="0.95" transform="rotate(46 833.0 218.3)"/><ellipse cx="837.4" cy="211.9" rx="3.1" ry="3.1" fill="#c81e28" opacity="0.95" transform="rotate(59 837.4 211.9)"/><ellipse cx="831.2" cy="217.9" rx="3.8" ry="2.6" fill="#c81e28" opacity="0.95" transform="rotate(66 831.2 217.9)"/><path d="M838.0,172.0 L834.0,186.0 L830.0,202.0" fill="none" stroke="#757575" stroke-width="11" stroke-linecap="round" stroke-linejoin="round" opacity="0.9"/><ellipse cx="834.5" cy="189.7" rx="2.1" ry="1.3" fill="#c81e28" opacity="0.95" transform="rotate(140 834.5 189.7)"/><ellipse cx="835.3" cy="181.6" rx="1.6" ry="1.4" fill="#c81e28" opacity="0.95" transform="rotate(125 835.3 181.6)"/><ellipse cx="832.3" cy="182.9" rx="1.7" ry="1.4" fill="#c81e28" opacity="0.95" transform="rotate(66 832.3 182.9)"/><ellipse cx="830.9" cy="194.2" rx="1.9" ry="1.9" fill="#c81e28" opacity="0.95" transform="rotate(169 830.9 194.2)"/><ellipse cx="837.3" cy="188.8" rx="2.2" ry="1.4" fill="#c81e28" opacity="0.95" transform="rotate(57 837.3 188.8)"/><path d="M833,158 C852,160 876,160 886,170 C888,182 880,196 872,203 C862,207 848,203 840,194 C831,184 829,170 833,158 Z" fill="#727272" opacity="0.88"/><ellipse cx="849.6" cy="144" rx="39.4" ry="28.5" fill="url(#skull)"/><ellipse cx="849.6" cy="144" rx="38.199999999999996" ry="27.3" fill="none" stroke="#b0b0b0" stroke-width="2.2" opacity="0.55"/><ellipse cx="866.6" cy="187.0" rx="2.1" ry="1.2" fill="#e6e63c" opacity="0.95" transform="rotate(65 866.6 187.0)"/><ellipse cx="866.1" cy="177.8" rx="1.5" ry="1.0" fill="#e6e63c" opacity="0.95" transform="rotate(35 866.1 177.8)"/><ellipse cx="868.9" cy="184.8" rx="1.6" ry="1.5" fill="#e6e63c" opacity="0.95" transform="rotate(101 868.9 184.8)"/><ellipse cx="863.5" cy="184.1" rx="2.1" ry="1.2" fill="#e6e63c" opacity="0.95" transform="rotate(4 863.5 184.1)"/><ellipse cx="868.2" cy="180.7" rx="1.7" ry="1.6" fill="#e6e63c" opacity="0.95" transform="rotate(117 868.2 180.7)"/><ellipse cx="868.7" cy="184.6" rx="1.1" ry="0.5" fill="#e6e63c" opacity="0.95" transform="rotate(133 868.7 184.6)"/><ellipse cx="863.3" cy="189.2" rx="1.7" ry="1.4" fill="#c81e28" opacity="0.95" transform="rotate(44 863.3 189.2)"/><ellipse cx="859.2" cy="194.1" rx="1.5" ry="1.3" fill="#c81e28" opacity="0.95" transform="rotate(71 859.2 194.1)"/><ellipse cx="860.4" cy="195.7" rx="1.7" ry="1.2" fill="#c81e28" opacity="0.95" transform="rotate(97 860.4 195.7)"/><path d="M882.0,304.0 L900.0,344.0 L918.0,384.0 L934.0,420.0" fill="none" stroke="#9a9a9a" stroke-width="14.5" stroke-linecap="round" stroke-linejoin="round" opacity="0.55"/><path d="M882.0,304.0 L900.0,344.0 L918.0,384.0 L934.0,420.0" fill="none" stroke="#757575" stroke-width="12" stroke-linecap="round" stroke-linejoin="round" opacity="0.92"/><path d="M882.0,304.0 L900.0,344.0 L918.0,384.0 L934.0,420.0" fill="none" stroke="#828282" stroke-width="5.4" stroke-linecap="round" stroke-linejoin="round" opacity="0.7"/><ellipse cx="898.2" cy="345.0" rx="2.4" ry="1.6" fill="#e6e63c" opacity="0.95" transform="rotate(149 898.2 345.0)"/><ellipse cx="897.7" cy="348.5" rx="2.2" ry="2.0" fill="#e6e63c" opacity="0.95" transform="rotate(160 897.7 348.5)"/><ellipse cx="900.6" cy="343.4" rx="1.8" ry="1.5" fill="#e6e63c" opacity="0.95" transform="rotate(144 900.6 343.4)"/><ellipse cx="895.2" cy="338.1" rx="1.2" ry="1.0" fill="#e6e63c" opacity="0.95" transform="rotate(178 895.2 338.1)"/><ellipse cx="894.8" cy="332.0" rx="1.3" ry="0.9" fill="#e6e63c" opacity="0.95" transform="rotate(53 894.8 332.0)"/><ellipse cx="894.1" cy="330.8" rx="2.0" ry="1.7" fill="#e6e63c" opacity="0.95" transform="rotate(32 894.1 330.8)"/><ellipse cx="891.6" cy="339.0" rx="1.9" ry="1.8" fill="#e6e63c" opacity="0.95" transform="rotate(7 891.6 339.0)"/><ellipse cx="893.2" cy="333.6" rx="2.1" ry="1.6" fill="#e6e63c" opacity="0.95" transform="rotate(40 893.2 333.6)"/><ellipse cx="914.2" cy="373.6" rx="1.3" ry="1.1" fill="#c81e28" opacity="0.95" transform="rotate(56 914.2 373.6)"/><ellipse cx="918.6" cy="384.3" rx="1.7" ry="1.0" fill="#c81e28" opacity="0.95" transform="rotate(160 918.6 384.3)"/><ellipse cx="923.0" cy="374.8" rx="1.8" ry="1.8" fill="#c81e28" opacity="0.95" transform="rotate(87 923.0 374.8)"/><ellipse cx="916.6" cy="378.6" rx="1.8" ry="1.1" fill="#c81e28" opacity="0.95" transform="rotate(178 916.6 378.6)"/><ellipse cx="919.9" cy="372.8" rx="1.0" ry="0.7" fill="#c81e28" opacity="0.95" transform="rotate(67 919.9 372.8)"/><ellipse cx="921.6" cy="382.3" rx="1.9" ry="1.0" fill="#c81e28" opacity="0.95" transform="rotate(28 921.6 382.3)"/><ellipse cx="915.9" cy="373.2" rx="2.3" ry="1.7" fill="#c81e28" opacity="0.95" transform="rotate(115 915.9 373.2)"/><ellipse cx="918.4" cy="371.0" rx="2.2" ry="1.0" fill="#c81e28" opacity="0.95" transform="rotate(148 918.4 371.0)"/><path d="M840.0,210.0 L853.0,242.0 L867.0,274.0 L880.0,302.0" fill="none" stroke="#9a9a9a" stroke-width="13.0" stroke-linecap="round" stroke-linejoin="round" opacity="0.55"/><path d="M840.0,210.0 L853.0,242.0 L867.0,274.0 L880.0,302.0" fill="none" stroke="#757575" stroke-width="10.5" stroke-linecap="round" stroke-linejoin="round" opacity="0.92"/><path d="M840.0,210.0 L853.0,242.0 L867.0,274.0 L880.0,302.0" fill="none" stroke="#828282" stroke-width="4.7250000000000005" stroke-linecap="round" stroke-linejoin="round" opacity="0.7"/><path d="M840.0,210.0 L853.0,242.0 L867.0,274.0 L880.0,302.0" fill="none" stroke="#e6e63c" stroke-width="5.775" stroke-linecap="round" stroke-linejoin="round" opacity="1.0"/><circle cx="842" cy="208" r="7" fill="#c81e28"/><path d="M872,296 C880,290 892,296 894,308 C892,318 882,322 874,316 Z" fill="#c81e28"/><path d="M918,410 C928,406 940,412 944,424 C948,436 946,446 942,450 C934,448 924,440 920,428 Z" fill="#757575" opacity="0.92"/><ellipse cx="937.5" cy="434.4" rx="1.1" ry="0.7" fill="#c81e28" opacity="0.95" transform="rotate(129 937.5 434.4)"/><ellipse cx="925.6" cy="427.6" rx="1.6" ry="1.6" fill="#c81e28" opacity="0.95" transform="rotate(106 925.6 427.6)"/><ellipse cx="937.7" cy="424.1" rx="2.0" ry="1.4" fill="#c81e28" opacity="0.95" transform="rotate(165 937.7 424.1)"/><ellipse cx="927.3" cy="428.9" rx="1.7" ry="0.9" fill="#c81e28" opacity="0.95" transform="rotate(150 927.3 428.9)"/><ellipse cx="929.0" cy="424.2" rx="1.1" ry="0.7" fill="#c81e28" opacity="0.95" transform="rotate(84 929.0 424.2)"/><ellipse cx="935.4" cy="425.2" rx="1.9" ry="1.0" fill="#c81e28" opacity="0.95" transform="rotate(71 935.4 425.2)"/><ellipse cx="931.4" cy="437.3" rx="2.1" ry="1.7" fill="#c81e28" opacity="0.95" transform="rotate(2 931.4 437.3)"/><ellipse cx="930.0" cy="432.2" rx="1.3" ry="1.0" fill="#c81e28" opacity="0.95" transform="rotate(82 930.0 432.2)"/></g>
<g filter="url(#sk)"><path d="M1051,690 C1056.15,684 1068.15,684 1073.3,690 C1076.3,710 1076.3,728 1073.3,742 C1066.15,746 1058.15,746 1050,742 C1048,725 1048,708 1051,690 Z" fill="#757575" opacity="0.92"/><ellipse cx="1067.5" cy="697.0" rx="2.2" ry="1.3" fill="#c81e28" opacity="0.95" transform="rotate(68 1067.5 697.0)"/><ellipse cx="1062.9" cy="699.2" rx="1.7" ry="1.2" fill="#c81e28" opacity="0.95" transform="rotate(120 1062.9 699.2)"/><ellipse cx="1057.8" cy="696.8" rx="2.4" ry="1.5" fill="#c81e28" opacity="0.95" transform="rotate(170 1057.8 696.8)"/><ellipse cx="1063.3" cy="709.4" rx="1.7" ry="1.6" fill="#c81e28" opacity="0.95" transform="rotate(17 1063.3 709.4)"/><ellipse cx="1065.3" cy="709.0" rx="1.5" ry="1.0" fill="#c81e28" opacity="0.95" transform="rotate(151 1065.3 709.0)"/><ellipse cx="1063.8" cy="694.2" rx="1.6" ry="0.8" fill="#c81e28" opacity="0.95" transform="rotate(22 1063.8 694.2)"/><ellipse cx="1060.5" cy="693.7" rx="2.7" ry="1.8" fill="#c81e28" opacity="0.95" transform="rotate(92 1060.5 693.7)"/><ellipse cx="1064.8" cy="710.4" rx="2.5" ry="1.7" fill="#c81e28" opacity="0.95" transform="rotate(60 1064.8 710.4)"/><ellipse cx="1060.6" cy="692.4" rx="1.8" ry="1.5" fill="#c81e28" opacity="0.95" transform="rotate(177 1060.6 692.4)"/><ellipse cx="1067.4" cy="707.8" rx="2.2" ry="1.0" fill="#c81e28" opacity="0.95" transform="rotate(60 1067.4 707.8)"/><ellipse cx="1059.9" cy="716.2" rx="1.1" ry="0.7" fill="#e6e63c" opacity="0.95" transform="rotate(92 1059.9 716.2)"/><ellipse cx="1066.2" cy="721.1" rx="1.7" ry="0.9" fill="#e6e63c" opacity="0.95" transform="rotate(138 1066.2 721.1)"/><ellipse cx="1067.8" cy="713.4" rx="1.4" ry="1.0" fill="#e6e63c" opacity="0.95" transform="rotate(26 1067.8 713.4)"/><ellipse cx="1062.4" cy="718.0" rx="2.0" ry="1.1" fill="#e6e63c" opacity="0.95" transform="rotate(170 1062.4 718.0)"/><ellipse cx="1063.9" cy="703.5" rx="1.1" ry="0.6" fill="#e6e63c" opacity="0.95" transform="rotate(104 1063.9 703.5)"/><ellipse cx="1064.9" cy="707.2" rx="2.1" ry="1.4" fill="#e6e63c" opacity="0.95" transform="rotate(83 1064.9 707.2)"/><path d="M1083.6,690 C1089.4499999999998,684 1101.4499999999998,684 1107.3,690 C1110.3,710 1110.3,728 1107.3,742 C1099.4499999999998,746 1091.4499999999998,746 1082.6,742 C1080.6,725 1080.6,708 1083.6,690 Z" fill="#757575" opacity="0.92"/><ellipse cx="1096.2" cy="705.5" rx="2.1" ry="1.2" fill="#c81e28" opacity="0.95" transform="rotate(164 1096.2 705.5)"/><ellipse cx="1097.3" cy="694.9" rx="2.5" ry="1.5" fill="#c81e28" opacity="0.95" transform="rotate(161 1097.3 694.9)"/><ellipse cx="1090.8" cy="705.8" rx="2.5" ry="1.4" fill="#c81e28" opacity="0.95" transform="rotate(99 1090.8 705.8)"/><ellipse cx="1103.4" cy="707.8" rx="1.7" ry="1.4" fill="#c81e28" opacity="0.95" transform="rotate(133 1103.4 707.8)"/><ellipse cx="1093.3" cy="706.2" rx="2.5" ry="1.1" fill="#c81e28" opacity="0.95" transform="rotate(36 1093.3 706.2)"/><ellipse cx="1094.9" cy="695.4" rx="1.8" ry="1.4" fill="#c81e28" opacity="0.95" transform="rotate(31 1094.9 695.4)"/><ellipse cx="1095.8" cy="698.3" rx="2.1" ry="1.3" fill="#c81e28" opacity="0.95" transform="rotate(116 1095.8 698.3)"/><ellipse cx="1087.1" cy="708.1" rx="1.4" ry="1.4" fill="#c81e28" opacity="0.95" transform="rotate(108 1087.1 708.1)"/><ellipse cx="1094.9" cy="701.9" rx="2.2" ry="1.8" fill="#c81e28" opacity="0.95" transform="rotate(136 1094.9 701.9)"/><ellipse cx="1100.0" cy="703.7" rx="2.8" ry="2.5" fill="#c81e28" opacity="0.95" transform="rotate(154 1100.0 703.7)"/><ellipse cx="1094.2" cy="710.2" rx="1.7" ry="1.6" fill="#e6e63c" opacity="0.95" transform="rotate(95 1094.2 710.2)"/><ellipse cx="1095.8" cy="710.1" rx="2.1" ry="1.3" fill="#e6e63c" opacity="0.95" transform="rotate(10 1095.8 710.1)"/><ellipse cx="1098.6" cy="723.2" rx="1.9" ry="1.5" fill="#e6e63c" opacity="0.95" transform="rotate(135 1098.6 723.2)"/><ellipse cx="1092.7" cy="714.6" rx="1.1" ry="0.6" fill="#e6e63c" opacity="0.95" transform="rotate(80 1092.7 714.6)"/><ellipse cx="1095.5" cy="709.1" rx="1.1" ry="0.9" fill="#e6e63c" opacity="0.95" transform="rotate(95 1095.5 709.1)"/><ellipse cx="1091.8" cy="706.6" rx="1.5" ry="0.9" fill="#e6e63c" opacity="0.95" transform="rotate(12 1091.8 706.6)"/><path d="M1049.0,580.0 L1052.0,615.0 L1055.0,648.0 L1057.0,680.0" fill="none" stroke="#9a9a9a" stroke-width="17.5" stroke-linecap="round" stroke-linejoin="round" opacity="0.55"/><path d="M1049.0,580.0 L1052.0,615.0 L1055.0,648.0 L1057.0,680.0" fill="none" stroke="#757575" stroke-width="15" stroke-linecap="round" stroke-linejoin="round" opacity="0.92"/><path d="M1049.0,580.0 L1052.0,615.0 L1055.0,648.0 L1057.0,680.0" fill="none" stroke="#828282" stroke-width="6.75" stroke-linecap="round" stroke-linejoin="round" opacity="0.7"/><path d="M1049.0,580.0 L1052.0,615.0 L1055.0,648.0 L1057.0,680.0" fill="none" stroke="#e6e63c" stroke-width="4.5" stroke-linecap="round" stroke-linejoin="round" opacity="1.0"/><path d="M1049.0,580.0 L1049.3,583.1 L1049.5,586.2 L1049.8,589.4 L1050.1,592.5 L1050.3,595.6 L1050.6,598.7 L1050.9,601.9 L1051.1,605.0" fill="none" stroke="#c81e28" stroke-width="12.75" stroke-linecap="round" stroke-linejoin="round" opacity="0.95"/><path d="M1056.2,668.0 L1056.3,669.5 L1056.4,671.0 L1056.5,672.5 L1056.6,674.0 L1056.7,675.5 L1056.8,677.0 L1056.9,678.5 L1057.0,680.0" fill="none" stroke="#c81e28" stroke-width="13.5" stroke-linecap="round" stroke-linejoin="round" opacity="0.95"/><path d="M1097.0,580.0 L1096.0,615.0 L1094.0,648.0 L1093.0,680.0" fill="none" stroke="#9a9a9a" stroke-width="17.5" stroke-linecap="round" stroke-linejoin="round" opacity="0.55"/><path d="M1097.0,580.0 L1096.0,615.0 L1094.0,648.0 L1093.0,680.0" fill="none" stroke="#757575" stroke-width="15" stroke-linecap="round" stroke-linejoin="round" opacity="0.92"/><path d="M1097.0,580.0 L1096.0,615.0 L1094.0,648.0 L1093.0,680.0" fill="none" stroke="#828282" stroke-width="6.75" stroke-linecap="round" stroke-linejoin="round" opacity="0.7"/><path d="M1097.0,580.0 L1096.0,615.0 L1094.0,648.0 L1093.0,680.0" fill="none" stroke="#e6e63c" stroke-width="4.5" stroke-linecap="round" stroke-linejoin="round" opacity="1.0"/><path d="M1097.0,580.0 L1096.9,583.1 L1096.8,586.3 L1096.7,589.4 L1096.6,592.5 L1096.6,595.6 L1096.5,598.8 L1096.4,601.9 L1096.3,605.0" fill="none" stroke="#c81e28" stroke-width="12.75" stroke-linecap="round" stroke-linejoin="round" opacity="0.95"/><path d="M1093.4,668.0 L1093.3,669.5 L1093.3,671.0 L1093.2,672.5 L1093.2,674.0 L1093.1,675.5 L1093.1,677.0 L1093.0,678.5 L1093.0,680.0" fill="none" stroke="#c81e28" stroke-width="13.5" stroke-linecap="round" stroke-linejoin="round" opacity="0.95"/><path d="M1036,552 C1042,548 1058,548 1064,552 L1065,574 C1056,578 1044,578 1035,574 Z" fill="#7e7e7e"/><rect x="1035" y="570" width="30" height="6" fill="#c81e28"/><ellipse cx="1058" cy="560" rx="4.5" ry="6.5" fill="#e6e63c"/><path d="M1083,552 C1089,548 1105,548 1111,552 L1112,574 C1103,578 1091,578 1082,574 Z" fill="#7e7e7e"/><rect x="1082" y="570" width="30" height="6" fill="#c81e28"/><ellipse cx="1087" cy="560" rx="4.5" ry="6.5" fill="#e6e63c"/><path d="M1038.0,436.0 L1041.0,476.0 L1045.0,516.0 L1050.0,556.0" fill="none" stroke="#9a9a9a" stroke-width="17.5" stroke-linecap="round" stroke-linejoin="round" opacity="0.55"/><path d="M1038.0,436.0 L1041.0,476.0 L1045.0,516.0 L1050.0,556.0" fill="none" stroke="#757575" stroke-width="15" stroke-linecap="round" stroke-linejoin="round" opacity="0.92"/><path d="M1038.0,436.0 L1041.0,476.0 L1045.0,516.0 L1050.0,556.0" fill="none" stroke="#828282" stroke-width="6.75" stroke-linecap="round" stroke-linejoin="round" opacity="0.7"/><path d="M1038.0,436.0 L1038.7,445.3 L1039.4,454.6 L1040.1,464.0 L1040.8,473.3 L1041.7,482.6 L1042.6,491.9 L1043.5,501.2 L1044.5,510.5" fill="none" stroke="#e6e63c" stroke-width="4.8" stroke-linecap="round" stroke-linejoin="round" opacity="1.0"/><path d="M1044.5,510.5 L1045.0,516.2 L1045.7,521.9 L1046.4,527.6 L1047.2,533.3 L1047.9,538.9 L1048.6,544.6 L1049.3,550.3 L1050.0,556.0" fill="none" stroke="#c81e28" stroke-width="13.5" stroke-linecap="round" stroke-linejoin="round" opacity="0.95"/><path d="M1125.0,436.0 L1116.0,476.0 L1107.0,516.0 L1098.0,556.0" fill="none" stroke="#9a9a9a" stroke-width="17.5" stroke-linecap="round" stroke-linejoin="round" opacity="0.55"/><path d="M1125.0,436.0 L1116.0,476.0 L1107.0,516.0 L1098.0,556.0" fill="none" stroke="#757575" stroke-width="15" stroke-linecap="round" stroke-linejoin="round" opacity="0.92"/><path d="M1125.0,436.0 L1116.0,476.0 L1107.0,516.0 L1098.0,556.0" fill="none" stroke="#828282" stroke-width="6.75" stroke-linecap="round" stroke-linejoin="round" opacity="0.7"/><path d="M1125.0,436.0 L1122.9,445.3 L1120.8,454.6 L1118.7,463.9 L1116.6,473.2 L1114.5,482.5 L1112.4,491.8 L1110.4,501.1 L1108.3,510.4" fill="none" stroke="#e6e63c" stroke-width="4.8" stroke-linecap="round" stroke-linejoin="round" opacity="1.0"/><path d="M1108.3,510.4 L1107.0,516.1 L1105.7,521.8 L1104.4,527.5 L1103.1,533.2 L1101.8,538.9 L1100.6,544.6 L1099.3,550.3 L1098.0,556.0" fill="none" stroke="#c81e28" stroke-width="13.5" stroke-linecap="round" stroke-linejoin="round" opacity="0.95"/><ellipse cx="1040" cy="437" rx="10" ry="12" fill="#c81e28"/><ellipse cx="1126" cy="437" rx="10" ry="12" fill="#c81e28"/><clipPath id="rc3"><path d="M1030,384 C1036,372 1062,370 1080,378 C1098,370 1128,372 1138,384 C1144,402 1140,424 1132,440 C1120,450 1104,448 1096,440 C1090,432 1076,432 1070,440 C1062,448 1046,450 1034,440 C1026,424 1024,402 1030,384 Z"/></clipPath><g clip-path="url(#rc3)"><rect x="1020" y="365" width="130" height="90" fill="#8e7c7e"/><ellipse cx="1100.6" cy="434.9" rx="3.3" ry="2.9" fill="#c81e28" opacity="0.95" transform="rotate(40 1100.6 434.9)"/><ellipse cx="1108.7" cy="414.5" rx="4.7" ry="2.4" fill="#c81e28" opacity="0.95" transform="rotate(143 1108.7 414.5)"/><ellipse cx="1046.4" cy="412.6" rx="4.9" ry="2.2" fill="#c81e28" opacity="0.95" transform="rotate(44 1046.4 412.6)"/><ellipse cx="1063.9" cy="398.1" rx="2.2" ry="2.1" fill="#c81e28" opacity="0.95" transform="rotate(147 1063.9 398.1)"/><ellipse cx="1073.7" cy="400.2" rx="3.8" ry="1.8" fill="#c81e28" opacity="0.95" transform="rotate(6 1073.7 400.2)"/><ellipse cx="1123.9" cy="396.9" rx="3.5" ry="3.4" fill="#c81e28" opacity="0.95" transform="rotate(176 1123.9 396.9)"/><ellipse cx="1081.3" cy="390.0" rx="2.9" ry="2.8" fill="#c81e28" opacity="0.95" transform="rotate(161 1081.3 390.0)"/><ellipse cx="1053.6" cy="433.0" rx="3.1" ry="2.2" fill="#c81e28" opacity="0.95" transform="rotate(31 1053.6 433.0)"/><ellipse cx="1054.2" cy="419.0" rx="2.6" ry="2.4" fill="#c81e28" opacity="0.95" transform="rotate(9 1054.2 419.0)"/><ellipse cx="1044.6" cy="425.4" rx="2.9" ry="2.8" fill="#c81e28" opacity="0.95" transform="rotate(157 1044.6 425.4)"/><ellipse cx="1105.3" cy="385.2" rx="4.1" ry="3.9" fill="#c81e28" opacity="0.95" transform="rotate(80 1105.3 385.2)"/><ellipse cx="1064.7" cy="424.3" rx="2.6" ry="1.4" fill="#c81e28" opacity="0.95" transform="rotate(42 1064.7 424.3)"/><ellipse cx="1100.5" cy="429.8" rx="3.1" ry="2.5" fill="#c81e28" opacity="0.95" transform="rotate(159 1100.5 429.8)"/><ellipse cx="1093.0" cy="391.6" rx="2.9" ry="2.8" fill="#c81e28" opacity="0.95" transform="rotate(120 1093.0 391.6)"/><ellipse cx="1061.7" cy="419.5" rx="2.3" ry="2.2" fill="#c81e28" opacity="0.95" transform="rotate(79 1061.7 419.5)"/><ellipse cx="1086.8" cy="412.1" rx="2.1" ry="1.7" fill="#c81e28" opacity="0.95" transform="rotate(51 1086.8 412.1)"/><ellipse cx="1059.1" cy="430.6" rx="2.3" ry="1.4" fill="#c81e28" opacity="0.95" transform="rotate(136 1059.1 430.6)"/><ellipse cx="1058.6" cy="395.0" rx="3.6" ry="2.0" fill="#c81e28" opacity="0.95" transform="rotate(161 1058.6 395.0)"/><ellipse cx="1080.2" cy="427.0" rx="3.2" ry="3.0" fill="#c81e28" opacity="0.95" transform="rotate(90 1080.2 427.0)"/><ellipse cx="1052.0" cy="413.8" rx="3.9" ry="2.5" fill="#c81e28" opacity="0.95" transform="rotate(118 1052.0 413.8)"/><ellipse cx="1112.3" cy="411.1" rx="3.5" ry="3.2" fill="#c81e28" opacity="0.95" transform="rotate(123 1112.3 411.1)"/><ellipse cx="1086.1" cy="440.7" rx="2.5" ry="2.2" fill="#c81e28" opacity="0.95" transform="rotate(30 1086.1 440.7)"/><ellipse cx="1094.8" cy="392.0" rx="3.3" ry="2.9" fill="#c81e28" opacity="0.95" transform="rotate(142 1094.8 392.0)"/><ellipse cx="1113.1" cy="392.0" rx="3.5" ry="2.0" fill="#c81e28" opacity="0.95" transform="rotate(104 1113.1 392.0)"/><ellipse cx="1083.9" cy="378.4" rx="3.8" ry="3.2" fill="#c81e28" opacity="0.95" transform="rotate(103 1083.9 378.4)"/><ellipse cx="1121.3" cy="388.2" rx="2.5" ry="1.1" fill="#c81e28" opacity="0.95" transform="rotate(89 1121.3 388.2)"/><ellipse cx="1077.5" cy="406.0" rx="2.8" ry="2.5" fill="#c81e28" opacity="0.95" transform="rotate(13 1077.5 406.0)"/><ellipse cx="1124.7" cy="414.7" rx="3.6" ry="3.2" fill="#c81e28" opacity="0.95" transform="rotate(43 1124.7 414.7)"/><ellipse cx="1048.6" cy="397.1" rx="2.1" ry="1.3" fill="#c81e28" opacity="0.95" transform="rotate(112 1048.6 397.1)"/><ellipse cx="1086.5" cy="394.0" rx="3.8" ry="1.9" fill="#c81e28" opacity="0.95" transform="rotate(148 1086.5 394.0)"/><ellipse cx="1051.2" cy="393.3" rx="2.5" ry="2.1" fill="#c81e28" opacity="0.95" transform="rotate(150 1051.2 393.3)"/><ellipse cx="1075.1" cy="400.8" rx="2.6" ry="2.6" fill="#c81e28" opacity="0.95" transform="rotate(8 1075.1 400.8)"/><ellipse cx="1083.0" cy="427.8" rx="5.0" ry="2.6" fill="#c81e28" opacity="0.95" transform="rotate(82 1083.0 427.8)"/><ellipse cx="1058.1" cy="436.5" rx="2.4" ry="1.6" fill="#c81e28" opacity="0.95" transform="rotate(54 1058.1 436.5)"/><ellipse cx="1076.4" cy="381.2" rx="2.1" ry="2.1" fill="#c81e28" opacity="0.95" transform="rotate(137 1076.4 381.2)"/><ellipse cx="1107.4" cy="391.6" rx="2.8" ry="2.1" fill="#c81e28" opacity="0.95" transform="rotate(44 1107.4 391.6)"/><ellipse cx="1080.2" cy="439.4" rx="3.1" ry="2.0" fill="#a0a0a0" opacity="0.6" transform="rotate(177 1080.2 439.4)"/><ellipse cx="1095.1" cy="378.7" rx="3.2" ry="2.6" fill="#a0a0a0" opacity="0.6" transform="rotate(11 1095.1 378.7)"/><ellipse cx="1068.3" cy="423.2" rx="4.6" ry="3.6" fill="#a0a0a0" opacity="0.6" transform="rotate(160 1068.3 423.2)"/><ellipse cx="1080.3" cy="402.7" rx="4.5" ry="3.0" fill="#a0a0a0" opacity="0.6" transform="rotate(141 1080.3 402.7)"/><ellipse cx="1055.5" cy="399.6" rx="2.6" ry="1.9" fill="#a0a0a0" opacity="0.6" transform="rotate(29 1055.5 399.6)"/><ellipse cx="1054.4" cy="390.6" rx="3.4" ry="2.1" fill="#a0a0a0" opacity="0.6" transform="rotate(80 1054.4 390.6)"/><ellipse cx="1120.3" cy="389.9" rx="3.1" ry="1.5" fill="#a0a0a0" opacity="0.6" transform="rotate(124 1120.3 389.9)"/><ellipse cx="1070.3" cy="394.7" rx="2.1" ry="1.1" fill="#a0a0a0" opacity="0.6" transform="rotate(47 1070.3 394.7)"/><ellipse cx="1073.3" cy="438.8" rx="4.1" ry="2.5" fill="#a0a0a0" opacity="0.6" transform="rotate(65 1073.3 438.8)"/><ellipse cx="1070.0" cy="428.1" rx="4.2" ry="4.0" fill="#a0a0a0" opacity="0.6" transform="rotate(4 1070.0 428.1)"/><ellipse cx="1066.2" cy="402.1" rx="2.2" ry="2.1" fill="#a0a0a0" opacity="0.6" transform="rotate(59 1066.2 402.1)"/><ellipse cx="1111.1" cy="411.3" rx="2.2" ry="1.4" fill="#a0a0a0" opacity="0.6" transform="rotate(43 1111.1 411.3)"/><ellipse cx="1093.5" cy="378.2" rx="2.9" ry="2.0" fill="#a0a0a0" opacity="0.6" transform="rotate(98 1093.5 378.2)"/><ellipse cx="1047.6" cy="424.0" rx="2.8" ry="2.4" fill="#a0a0a0" opacity="0.6" transform="rotate(120 1047.6 424.0)"/><ellipse cx="1048.7" cy="389.9" rx="2.8" ry="2.4" fill="#a0a0a0" opacity="0.6" transform="rotate(73 1048.7 389.9)"/><ellipse cx="1072.7" cy="434.9" rx="2.7" ry="1.6" fill="#a0a0a0" opacity="0.6" transform="rotate(62 1072.7 434.9)"/><ellipse cx="1036.5" cy="418.9" rx="3.7" ry="3.3" fill="#a0a0a0" opacity="0.6" transform="rotate(176 1036.5 418.9)"/><ellipse cx="1063.8" cy="421.6" rx="4.8" ry="2.7" fill="#a0a0a0" opacity="0.6" transform="rotate(124 1063.8 421.6)"/><ellipse cx="1100.7" cy="440.9" rx="4.6" ry="2.7" fill="#a0a0a0" opacity="0.6" transform="rotate(114 1100.7 440.9)"/><ellipse cx="1043.0" cy="405.1" rx="3.2" ry="1.5" fill="#a0a0a0" opacity="0.6" transform="rotate(69 1043.0 405.1)"/></g><path d="M1066,392 C1074,386 1094,386 1102,392 C1100,404 1094,414 1084,416 C1074,414 1068,404 1066,392 Z" fill="#e6e63c" opacity="0.9"/><ellipse cx="1072" cy="390" rx="6" ry="4" fill="#e6e63c"/><ellipse cx="1096" cy="390" rx="6" ry="4" fill="#e6e63c"/><clipPath id="rc4"><path d="M1044,238 C1062,232 1104,232 1126,238 C1134,262 1138,300 1134,338 C1124,344 1110,340 1096,330 L1072,330 C1058,340 1046,344 1036,338 C1032,300 1036,262 1044,238 Z"/></clipPath><g clip-path="url(#rc4)"><rect x="1030" y="228" width="112" height="120" fill="#2a1416"/><path d="M1083,240.0 Q1053,233.0 1035,254.0" stroke="#8a8a8a" stroke-width="6.2" fill="none" opacity="0.9"/><path d="M1083,240.0 Q1053,233.0 1035,254.0" stroke="#c81e28" stroke-width="4.2" fill="none"/><path d="M1083,249.5 Q1053,242.5 1034,264.1" stroke="#8a8a8a" stroke-width="6.2" fill="none" opacity="0.9"/><path d="M1083,249.5 Q1053,242.5 1034,264.1" stroke="#c81e28" stroke-width="4.2" fill="none"/><path d="M1083,259.0 Q1053,252.0 1033,274.2" stroke="#8a8a8a" stroke-width="6.2" fill="none" opacity="0.9"/><path d="M1083,259.0 Q1053,252.0 1033,274.2" stroke="#c81e28" stroke-width="4.2" fill="none"/><path d="M1083,268.5 Q1053,261.5 1031,284.3" stroke="#8a8a8a" stroke-width="6.2" fill="none" opacity="0.9"/><path d="M1083,268.5 Q1053,261.5 1031,284.3" stroke="#c81e28" stroke-width="4.2" fill="none"/><path d="M1083,278.0 Q1053,271.0 1030,294.4" stroke="#8a8a8a" stroke-width="6.2" fill="none" opacity="0.9"/><path d="M1083,278.0 Q1053,271.0 1030,294.4" stroke="#c81e28" stroke-width="4.2" fill="none"/><path d="M1083,287.5 Q1053,280.5 1029,304.5" stroke="#8a8a8a" stroke-width="6.2" fill="none" opacity="0.9"/><path d="M1083,287.5 Q1053,280.5 1029,304.5" stroke="#c81e28" stroke-width="4.2" fill="none"/><path d="M1083,297.0 Q1053,290.0 1029,314.6" stroke="#8a8a8a" stroke-width="6.2" fill="none" opacity="0.9"/><path d="M1083,297.0 Q1053,290.0 1029,314.6" stroke="#c81e28" stroke-width="4.2" fill="none"/><path d="M1083,306.5 Q1053,299.5 1029,324.7" stroke="#8a8a8a" stroke-width="6.2" fill="none" opacity="0.9"/><path d="M1083,306.5 Q1053,299.5 1029,324.7" stroke="#c81e28" stroke-width="4.2" fill="none"/><path d="M1083,316.0 Q1053,309.0 1029,334.8" stroke="#8a8a8a" stroke-width="6.2" fill="none" opacity="0.9"/><path d="M1083,316.0 Q1053,309.0 1029,334.8" stroke="#c81e28" stroke-width="4.2" fill="none"/><path d="M1083,325.5 Q1053,318.5 1029,344.9" stroke="#8a8a8a" stroke-width="6.2" fill="none" opacity="0.9"/><path d="M1083,325.5 Q1053,318.5 1029,344.9" stroke="#c81e28" stroke-width="4.2" fill="none"/><path d="M1083,335.0 Q1053,328.0 1029,355.0" stroke="#8a8a8a" stroke-width="6.2" fill="none" opacity="0.9"/><path d="M1083,335.0 Q1053,328.0 1029,355.0" stroke="#c81e28" stroke-width="4.2" fill="none"/><path d="M1083,240.0 Q1113,233.0 1131,254.0" stroke="#8a8a8a" stroke-width="6.2" fill="none" opacity="0.9"/><path d="M1083,240.0 Q1113,233.0 1131,254.0" stroke="#c81e28" stroke-width="4.2" fill="none"/><path d="M1083,249.5 Q1113,242.5 1132,264.1" stroke="#8a8a8a" stroke-width="6.2" fill="none" opacity="0.9"/><path d="M1083,249.5 Q1113,242.5 1132,264.1" stroke="#c81e28" stroke-width="4.2" fill="none"/><path d="M1083,259.0 Q1113,252.0 1133,274.2" stroke="#8a8a8a" stroke-width="6.2" fill="none" opacity="0.9"/><path d="M1083,259.0 Q1113,252.0 1133,274.2" stroke="#c81e28" stroke-width="4.2" fill="none"/><path d="M1083,268.5 Q1113,261.5 1135,284.3" stroke="#8a8a8a" stroke-width="6.2" fill="none" opacity="0.9"/><path d="M1083,268.5 Q1113,261.5 1135,284.3" stroke="#c81e28" stroke-width="4.2" fill="none"/><path d="M1083,278.0 Q1113,271.0 1136,294.4" stroke="#8a8a8a" stroke-width="6.2" fill="none" opacity="0.9"/><path d="M1083,278.0 Q1113,271.0 1136,294.4" stroke="#c81e28" stroke-width="4.2" fill="none"/><path d="M1083,287.5 Q1113,280.5 1137,304.5" stroke="#8a8a8a" stroke-width="6.2" fill="none" opacity="0.9"/><path d="M1083,287.5 Q1113,280.5 1137,304.5" stroke="#c81e28" stroke-width="4.2" fill="none"/><path d="M1083,297.0 Q1113,290.0 1137,314.6" stroke="#8a8a8a" stroke-width="6.2" fill="none" opacity="0.9"/><path d="M1083,297.0 Q1113,290.0 1137,314.6" stroke="#c81e28" stroke-width="4.2" fill="none"/><path d="M1083,306.5 Q1113,299.5 1137,324.7" stroke="#8a8a8a" stroke-width="6.2" fill="none" opacity="0.9"/><path d="M1083,306.5 Q1113,299.5 1137,324.7" stroke="#c81e28" stroke-width="4.2" fill="none"/><path d="M1083,316.0 Q1113,309.0 1137,334.8" stroke="#8a8a8a" stroke-width="6.2" fill="none" opacity="0.9"/><path d="M1083,316.0 Q1113,309.0 1137,334.8" stroke="#c81e28" stroke-width="4.2" fill="none"/><path d="M1083,325.5 Q1113,318.5 1137,344.9" stroke="#8a8a8a" stroke-width="6.2" fill="none" opacity="0.9"/><path d="M1083,325.5 Q1113,318.5 1137,344.9" stroke="#c81e28" stroke-width="4.2" fill="none"/><path d="M1083,335.0 Q1113,328.0 1137,355.0" stroke="#8a8a8a" stroke-width="6.2" fill="none" opacity="0.9"/><path d="M1083,335.0 Q1113,328.0 1137,355.0" stroke="#c81e28" stroke-width="4.2" fill="none"/><ellipse cx="1067.2" cy="284.7" rx="2.2" ry="1.2" fill="#c81e28" opacity="0.95" transform="rotate(72 1067.2 284.7)"/><ellipse cx="1080.7" cy="251.7" rx="3.2" ry="1.8" fill="#c81e28" opacity="0.95" transform="rotate(17 1080.7 251.7)"/><ellipse cx="1068.4" cy="277.2" rx="1.9" ry="1.4" fill="#c81e28" opacity="0.95" transform="rotate(126 1068.4 277.2)"/><ellipse cx="1087.9" cy="305.0" rx="1.6" ry="1.0" fill="#c81e28" opacity="0.95" transform="rotate(66 1087.9 305.0)"/><ellipse cx="1042.8" cy="275.4" rx="1.6" ry="1.2" fill="#c81e28" opacity="0.95" transform="rotate(105 1042.8 275.4)"/><ellipse cx="1080.1" cy="267.6" rx="2.1" ry="1.0" fill="#c81e28" opacity="0.95" transform="rotate(62 1080.1 267.6)"/><ellipse cx="1119.0" cy="291.6" rx="2.2" ry="1.8" fill="#c81e28" opacity="0.95" transform="rotate(33 1119.0 291.6)"/><ellipse cx="1080.2" cy="296.5" rx="3.9" ry="2.5" fill="#c81e28" opacity="0.95" transform="rotate(104 1080.2 296.5)"/><ellipse cx="1094.7" cy="297.1" rx="2.5" ry="1.7" fill="#c81e28" opacity="0.95" transform="rotate(50 1094.7 297.1)"/><ellipse cx="1072.1" cy="326.0" rx="1.6" ry="0.8" fill="#c81e28" opacity="0.95" transform="rotate(91 1072.1 326.0)"/><ellipse cx="1065.4" cy="271.0" rx="3.9" ry="2.1" fill="#c81e28" opacity="0.95" transform="rotate(35 1065.4 271.0)"/><ellipse cx="1058.0" cy="303.0" rx="2.1" ry="0.9" fill="#c81e28" opacity="0.95" transform="rotate(98 1058.0 303.0)"/><ellipse cx="1073.2" cy="258.9" rx="2.7" ry="2.2" fill="#c81e28" opacity="0.95" transform="rotate(99 1073.2 258.9)"/><ellipse cx="1094.4" cy="291.1" rx="3.6" ry="3.5" fill="#c81e28" opacity="0.95" transform="rotate(60 1094.4 291.1)"/><ellipse cx="1068.9" cy="323.6" rx="2.3" ry="1.9" fill="#c81e28" opacity="0.95" transform="rotate(125 1068.9 323.6)"/><ellipse cx="1112.8" cy="250.9" rx="3.1" ry="2.2" fill="#c81e28" opacity="0.95" transform="rotate(101 1112.8 250.9)"/><ellipse cx="1071.0" cy="263.6" rx="3.4" ry="2.5" fill="#c81e28" opacity="0.95" transform="rotate(43 1071.0 263.6)"/><ellipse cx="1059.9" cy="267.5" rx="1.9" ry="1.4" fill="#c81e28" opacity="0.95" transform="rotate(23 1059.9 267.5)"/><ellipse cx="1046.4" cy="305.5" rx="1.8" ry="1.2" fill="#c81e28" opacity="0.95" transform="rotate(139 1046.4 305.5)"/><ellipse cx="1081.2" cy="251.3" rx="3.7" ry="3.4" fill="#c81e28" opacity="0.95" transform="rotate(10 1081.2 251.3)"/><ellipse cx="1060.4" cy="285.7" rx="3.5" ry="2.3" fill="#c81e28" opacity="0.95" transform="rotate(129 1060.4 285.7)"/><ellipse cx="1060.2" cy="306.6" rx="2.3" ry="1.5" fill="#c81e28" opacity="0.95" transform="rotate(137 1060.2 306.6)"/><ellipse cx="1114.5" cy="317.9" rx="2.9" ry="2.0" fill="#c81e28" opacity="0.95" transform="rotate(127 1114.5 317.9)"/><ellipse cx="1094.3" cy="318.1" rx="3.5" ry="1.8" fill="#c81e28" opacity="0.95" transform="rotate(68 1094.3 318.1)"/><ellipse cx="1098.6" cy="258.1" rx="2.0" ry="0.9" fill="#c81e28" opacity="0.95" transform="rotate(105 1098.6 258.1)"/><ellipse cx="1049.3" cy="303.8" rx="2.5" ry="2.0" fill="#c81e28" opacity="0.95" transform="rotate(71 1049.3 303.8)"/><ellipse cx="1041.5" cy="306.3" rx="1.8" ry="0.9" fill="#c81e28" opacity="0.95" transform="rotate(51 1041.5 306.3)"/><ellipse cx="1048.1" cy="268.0" rx="1.6" ry="1.2" fill="#c81e28" opacity="0.95" transform="rotate(87 1048.1 268.0)"/><ellipse cx="1071.4" cy="265.9" rx="3.5" ry="3.2" fill="#c81e28" opacity="0.95" transform="rotate(51 1071.4 265.9)"/><ellipse cx="1073.0" cy="296.8" rx="3.4" ry="3.4" fill="#c81e28" opacity="0.95" transform="rotate(70 1073.0 296.8)"/><ellipse cx="1100.9" cy="289.6" rx="3.5" ry="1.9" fill="#c81e28" opacity="0.95" transform="rotate(32 1100.9 289.6)"/><ellipse cx="1060.1" cy="283.8" rx="1.8" ry="1.1" fill="#c81e28" opacity="0.95" transform="rotate(3 1060.1 283.8)"/><ellipse cx="1089.1" cy="249.4" rx="3.1" ry="1.8" fill="#c81e28" opacity="0.95" transform="rotate(41 1089.1 249.4)"/><ellipse cx="1081.4" cy="271.6" rx="2.1" ry="1.0" fill="#c81e28" opacity="0.95" transform="rotate(12 1081.4 271.6)"/><ellipse cx="1119.1" cy="265.9" rx="1.7" ry="0.9" fill="#c81e28" opacity="0.95" transform="rotate(87 1119.1 265.9)"/><ellipse cx="1116.8" cy="283.4" rx="2.5" ry="2.3" fill="#c81e28" opacity="0.95" transform="rotate(71 1116.8 283.4)"/><ellipse cx="1042.3" cy="290.1" rx="3.1" ry="2.5" fill="#c81e28" opacity="0.95" transform="rotate(50 1042.3 290.1)"/><ellipse cx="1128.5" cy="279.3" rx="3.6" ry="3.0" fill="#c81e28" opacity="0.95" transform="rotate(32 1128.5 279.3)"/><ellipse cx="1070.0" cy="310.4" rx="2.3" ry="1.7" fill="#c81e28" opacity="0.95" transform="rotate(2 1070.0 310.4)"/><ellipse cx="1038.0" cy="287.7" rx="3.5" ry="3.1" fill="#c81e28" opacity="0.95" transform="rotate(132 1038.0 287.7)"/><ellipse cx="1073.7" cy="315.3" rx="3.6" ry="3.1" fill="#c81e28" opacity="0.95" transform="rotate(177 1073.7 315.3)"/><ellipse cx="1074.0" cy="305.5" rx="2.1" ry="2.0" fill="#c81e28" opacity="0.95" transform="rotate(4 1074.0 305.5)"/><ellipse cx="1090.1" cy="257.7" rx="2.5" ry="1.6" fill="#c81e28" opacity="0.95" transform="rotate(118 1090.1 257.7)"/><ellipse cx="1111.6" cy="271.5" rx="3.1" ry="2.0" fill="#c81e28" opacity="0.95" transform="rotate(50 1111.6 271.5)"/><ellipse cx="1120.3" cy="267.2" rx="1.7" ry="1.1" fill="#c81e28" opacity="0.95" transform="rotate(133 1120.3 267.2)"/><ellipse cx="1056.4" cy="309.3" rx="2.9" ry="2.4" fill="#c81e28" opacity="0.95" transform="rotate(32 1056.4 309.3)"/><ellipse cx="1069.2" cy="278.1" rx="1.5" ry="1.1" fill="#c81e28" opacity="0.95" transform="rotate(73 1069.2 278.1)"/><ellipse cx="1066.6" cy="288.7" rx="3.9" ry="2.2" fill="#c81e28" opacity="0.95" transform="rotate(158 1066.6 288.7)"/><ellipse cx="1066.5" cy="310.4" rx="1.8" ry="1.8" fill="#c81e28" opacity="0.95" transform="rotate(77 1066.5 310.4)"/><ellipse cx="1074.6" cy="305.6" rx="1.9" ry="1.2" fill="#c81e28" opacity="0.95" transform="rotate(122 1074.6 305.6)"/></g><path d="M1083.0,236.0 L1083.0,300.0 L1083.0,350.0 L1083.0,392.0" fill="none" stroke="#c81e28" stroke-width="14" stroke-linecap="round" stroke-linejoin="round" opacity="0.97"/><rect x="1074" y="300" width="18" height="2.5" fill="#d8323c"/><rect x="1074" y="309" width="18" height="2.5" fill="#d8323c"/><rect x="1074" y="318" width="18" height="2.5" fill="#d8323c"/><rect x="1074" y="327" width="18" height="2.5" fill="#d8323c"/><rect x="1074" y="336" width="18" height="2.5" fill="#d8323c"/><rect x="1074" y="345" width="18" height="2.5" fill="#d8323c"/><rect x="1074" y="354" width="18" height="2.5" fill="#d8323c"/><rect x="1074" y="363" width="18" height="2.5" fill="#d8323c"/><rect x="1074" y="372" width="18" height="2.5" fill="#d8323c"/><rect x="1074" y="381" width="18" height="2.5" fill="#d8323c"/><rect x="1074" y="390" width="18" height="2.5" fill="#d8323c"/><rect x="1064" y="338" width="38" height="3" fill="#c81e28"/><rect x="1066" y="356" width="34" height="3" fill="#c81e28"/><rect x="1068" y="374" width="30" height="3" fill="#c81e28"/><path d="M1074,240 C1080,236 1090,236 1094,242 L1092,258 L1076,258 Z" fill="#c81e28"/><ellipse cx="1086" cy="271" rx="6" ry="9" fill="#e6e63c"/><path d="M1034.0,218.0 L1056.0,228.0 L1078.0,236.0" fill="none" stroke="#858585" stroke-width="7" stroke-linecap="round" stroke-linejoin="round" opacity="0.95"/><path d="M1136.0,218.0 L1112.0,228.0 L1090.0,236.0" fill="none" stroke="#858585" stroke-width="7" stroke-linecap="round" stroke-linejoin="round" opacity="0.95"/><ellipse cx="1067" cy="233" rx="5" ry="3" fill="#e6e63c"/><ellipse cx="1101" cy="233" rx="5" ry="3" fill="#e6e63c"/><path d="M1084.0,198.0 L1084.0,232.0" fill="none" stroke="#7a7a7a" stroke-width="17" stroke-linecap="round" stroke-linejoin="round" opacity="0.95"/><ellipse cx="1089.4" cy="211.7" rx="1.2" ry="0.8" fill="#c81e28" opacity="0.95" transform="rotate(178 1089.4 211.7)"/><ellipse cx="1079.8" cy="219.2" rx="1.5" ry="1.2" fill="#c81e28" opacity="0.95" transform="rotate(38 1079.8 219.2)"/><ellipse cx="1085.4" cy="225.3" rx="2.0" ry="1.6" fill="#c81e28" opacity="0.95" transform="rotate(91 1085.4 225.3)"/><ellipse cx="1084.8" cy="206.7" rx="2.0" ry="1.7" fill="#c81e28" opacity="0.95" transform="rotate(82 1084.8 206.7)"/><ellipse cx="1086.0" cy="214.1" rx="1.5" ry="0.8" fill="#c81e28" opacity="0.95" transform="rotate(108 1086.0 214.1)"/><ellipse cx="1084.9" cy="216.4" rx="1.0" ry="0.8" fill="#c81e28" opacity="0.95" transform="rotate(80 1084.9 216.4)"/><ellipse cx="1085.1" cy="218.3" rx="2.1" ry="1.1" fill="#c81e28" opacity="0.95" transform="rotate(84 1085.1 218.3)"/><ellipse cx="1081.8" cy="221.7" rx="2.2" ry="1.5" fill="#c81e28" opacity="0.95" transform="rotate(156 1081.8 221.7)"/><path d="M1060,160 L1106,160 C1107,178 1104,192 1097,200 C1090,204 1077,204 1070,200 C1063,192 1059,178 1060,160 Z" fill="#727272" opacity="0.88"/><ellipse cx="1083" cy="149.3" rx="28.5" ry="29.7" fill="url(#skull)"/><ellipse cx="1083" cy="149.3" rx="27.3" ry="28.5" fill="none" stroke="#b0b0b0" stroke-width="2.2" opacity="0.55"/><ellipse cx="1082.8" cy="181.3" rx="1.8" ry="1.5" fill="#e6e63c" opacity="0.95" transform="rotate(169 1082.8 181.3)"/><ellipse cx="1090.9" cy="187.0" rx="1.5" ry="1.5" fill="#e6e63c" opacity="0.95" transform="rotate(12 1090.9 187.0)"/><ellipse cx="1091.9" cy="186.1" rx="1.3" ry="1.1" fill="#e6e63c" opacity="0.95" transform="rotate(82 1091.9 186.1)"/><ellipse cx="1083.9" cy="187.7" rx="1.2" ry="0.7" fill="#e6e63c" opacity="0.95" transform="rotate(116 1083.9 187.7)"/><ellipse cx="1072.8" cy="184.5" rx="1.8" ry="1.3" fill="#e6e63c" opacity="0.95" transform="rotate(44 1072.8 184.5)"/><ellipse cx="1090.2" cy="187.6" rx="1.8" ry="1.3" fill="#e6e63c" opacity="0.95" transform="rotate(163 1090.2 187.6)"/><path d="M1013.0,314.0 L1022.0,338.0 L1034.0,358.0 L1047.0,378.0" fill="none" stroke="#9a9a9a" stroke-width="12.5" stroke-linecap="round" stroke-linejoin="round" opacity="0.55"/><path d="M1013.0,314.0 L1022.0,338.0 L1034.0,358.0 L1047.0,378.0" fill="none" stroke="#757575" stroke-width="10" stroke-linecap="round" stroke-linejoin="round" opacity="0.92"/><path d="M1013.0,314.0 L1022.0,338.0 L1034.0,358.0 L1047.0,378.0" fill="none" stroke="#828282" stroke-width="4.5" stroke-linecap="round" stroke-linejoin="round" opacity="0.7"/><path d="M1013.0,314.0 L1013.8,316.1 L1014.6,318.3 L1015.4,320.4 L1016.2,322.5 L1017.0,324.7 L1017.8,326.8 L1018.6,328.9 L1019.4,331.0" fill="none" stroke="#e6e63c" stroke-width="3.0" stroke-linecap="round" stroke-linejoin="round" opacity="1.0"/><path d="M1013.0,314.0 L1013.4,315.0 L1013.8,316.0 L1014.2,317.1 L1014.5,318.1 L1014.9,319.1 L1015.3,320.1 L1015.7,321.2 L1016.1,322.2" fill="none" stroke="#c81e28" stroke-width="9.0" stroke-linecap="round" stroke-linejoin="round" opacity="0.95"/><path d="M1156.0,314.0 L1146.0,338.0 L1134.0,358.0 L1122.0,376.0" fill="none" stroke="#9a9a9a" stroke-width="12.5" stroke-linecap="round" stroke-linejoin="round" opacity="0.55"/><path d="M1156.0,314.0 L1146.0,338.0 L1134.0,358.0 L1122.0,376.0" fill="none" stroke="#757575" stroke-width="10" stroke-linecap="round" stroke-linejoin="round" opacity="0.92"/><path d="M1156.0,314.0 L1146.0,338.0 L1134.0,358.0 L1122.0,376.0" fill="none" stroke="#828282" stroke-width="4.5" stroke-linecap="round" stroke-linejoin="round" opacity="0.7"/><path d="M1156.0,314.0 L1155.1,316.0 L1154.3,318.1 L1153.4,320.1 L1152.6,322.2 L1151.7,324.2 L1150.9,326.3 L1150.0,328.3 L1149.2,330.4" fill="none" stroke="#e6e63c" stroke-width="3.0" stroke-linecap="round" stroke-linejoin="round" opacity="1.0"/><path d="M1156.0,314.0 L1155.6,315.0 L1155.2,316.0 L1154.8,316.9 L1154.4,317.9 L1154.0,318.9 L1153.5,319.9 L1153.1,320.9 L1152.7,321.9" fill="none" stroke="#c81e28" stroke-width="9.0" stroke-linecap="round" stroke-linejoin="round" opacity="0.95"/><path d="M1035.0,221.0 L1029.0,253.0 L1021.0,283.0 L1014.0,311.0" fill="none" stroke="#9a9a9a" stroke-width="12.5" stroke-linecap="round" stroke-linejoin="round" opacity="0.55"/><path d="M1035.0,221.0 L1029.0,253.0 L1021.0,283.0 L1014.0,311.0" fill="none" stroke="#757575" stroke-width="10" stroke-linecap="round" stroke-linejoin="round" opacity="0.92"/><path d="M1035.0,221.0 L1029.0,253.0 L1021.0,283.0 L1014.0,311.0" fill="none" stroke="#828282" stroke-width="4.5" stroke-linecap="round" stroke-linejoin="round" opacity="0.7"/><path d="M1035.0,221.0 L1029.0,253.0 L1021.0,283.0 L1014.0,311.0" fill="none" stroke="#e6e63c" stroke-width="5.0" stroke-linecap="round" stroke-linejoin="round" opacity="1.0"/><path d="M1139.0,221.0 L1145.0,253.0 L1150.0,283.0 L1155.0,309.0" fill="none" stroke="#9a9a9a" stroke-width="12.5" stroke-linecap="round" stroke-linejoin="round" opacity="0.55"/><path d="M1139.0,221.0 L1145.0,253.0 L1150.0,283.0 L1155.0,309.0" fill="none" stroke="#757575" stroke-width="10" stroke-linecap="round" stroke-linejoin="round" opacity="0.92"/><path d="M1139.0,221.0 L1145.0,253.0 L1150.0,283.0 L1155.0,309.0" fill="none" stroke="#828282" stroke-width="4.5" stroke-linecap="round" stroke-linejoin="round" opacity="0.7"/><path d="M1139.0,221.0 L1145.0,253.0 L1150.0,283.0 L1155.0,309.0" fill="none" stroke="#e6e63c" stroke-width="5.0" stroke-linecap="round" stroke-linejoin="round" opacity="1.0"/><circle cx="1035" cy="219" r="8" fill="#c81e28"/><circle cx="1136" cy="220" r="8.5" fill="#c81e28"/><circle cx="1036" cy="224" r="4" fill="#e6e63c"/><circle cx="1136" cy="225" r="4" fill="#e6e63c"/><ellipse cx="1048" cy="382" rx="5" ry="7" fill="#7a7a7a"/><ellipse cx="1121" cy="380" rx="5" ry="7" fill="#7a7a7a"/></g>
<g filter="url(#sk)"><path d="M1278,690 C1286,682 1300,684 1304,694 C1306,712 1304,730 1298,744 C1290,748 1280,746 1276,740 C1276,722 1276,704 1278,690 Z" fill="#757575" opacity="0.92"/><path d="M1302,686 C1312,680 1330,684 1332,696 C1332,714 1330,732 1324,748 C1314,752 1304,750 1302,744 C1302,725 1300,705 1302,686 Z" fill="#757575" opacity="0.92"/><path d="M1290,680 C1300,676 1326,676 1334,684 C1334,694 1326,700 1310,700 C1296,700 1290,692 1290,680 Z" fill="#c81e28"/><ellipse cx="1328" cy="690" rx="4" ry="8" fill="#e6e63c"/><ellipse cx="1309.5" cy="705.2" rx="1.9" ry="0.9" fill="#c81e28" opacity="0.95" transform="rotate(7 1309.5 705.2)"/><ellipse cx="1295.1" cy="725.2" rx="2.7" ry="1.4" fill="#c81e28" opacity="0.95" transform="rotate(33 1295.1 725.2)"/><ellipse cx="1296.4" cy="724.8" rx="2.3" ry="2.2" fill="#c81e28" opacity="0.95" transform="rotate(13 1296.4 724.8)"/><ellipse cx="1304.1" cy="725.5" rx="2.5" ry="1.4" fill="#c81e28" opacity="0.95" transform="rotate(120 1304.1 725.5)"/><ellipse cx="1297.8" cy="701.4" rx="1.8" ry="1.1" fill="#c81e28" opacity="0.95" transform="rotate(113 1297.8 701.4)"/><ellipse cx="1292.9" cy="717.9" rx="2.5" ry="1.3" fill="#c81e28" opacity="0.95" transform="rotate(23 1292.9 717.9)"/><ellipse cx="1306.2" cy="714.1" rx="1.4" ry="0.7" fill="#c81e28" opacity="0.95" transform="rotate(169 1306.2 714.1)"/><ellipse cx="1303.5" cy="711.0" rx="1.6" ry="1.5" fill="#c81e28" opacity="0.95" transform="rotate(124 1303.5 711.0)"/><ellipse cx="1307.6" cy="711.1" rx="1.8" ry="1.2" fill="#c81e28" opacity="0.95" transform="rotate(26 1307.6 711.1)"/><ellipse cx="1304.2" cy="712.9" rx="2.7" ry="1.8" fill="#c81e28" opacity="0.95" transform="rotate(82 1304.2 712.9)"/><ellipse cx="1300.2" cy="727.4" rx="1.8" ry="1.5" fill="#c81e28" opacity="0.95" transform="rotate(42 1300.2 727.4)"/><ellipse cx="1302.5" cy="709.0" rx="2.8" ry="1.7" fill="#c81e28" opacity="0.95" transform="rotate(154 1302.5 709.0)"/><ellipse cx="1305.7" cy="713.7" rx="2.9" ry="1.9" fill="#c81e28" opacity="0.95" transform="rotate(134 1305.7 713.7)"/><ellipse cx="1303.2" cy="713.6" rx="1.3" ry="0.9" fill="#c81e28" opacity="0.95" transform="rotate(51 1303.2 713.6)"/><ellipse cx="1298.3" cy="734.7" rx="1.4" ry="1.1" fill="#e6e63c" opacity="0.95" transform="rotate(121 1298.3 734.7)"/><ellipse cx="1292.9" cy="719.5" rx="1.2" ry="1.1" fill="#e6e63c" opacity="0.95" transform="rotate(45 1292.9 719.5)"/><ellipse cx="1297.8" cy="717.6" rx="2.0" ry="1.8" fill="#e6e63c" opacity="0.95" transform="rotate(106 1297.8 717.6)"/><ellipse cx="1301.3" cy="710.8" rx="2.1" ry="1.0" fill="#e6e63c" opacity="0.95" transform="rotate(65 1301.3 710.8)"/><ellipse cx="1296.5" cy="728.2" rx="1.8" ry="1.2" fill="#e6e63c" opacity="0.95" transform="rotate(162 1296.5 728.2)"/><ellipse cx="1303.7" cy="721.1" rx="1.4" ry="1.0" fill="#e6e63c" opacity="0.95" transform="rotate(57 1303.7 721.1)"/><path d="M1281.0,577.0 L1296.0,612.0 L1310.0,646.0 L1322.0,675.0" fill="none" stroke="#9a9a9a" stroke-width="7.5" stroke-linecap="round" stroke-linejoin="round" opacity="0.55"/><path d="M1281.0,577.0 L1296.0,612.0 L1310.0,646.0 L1322.0,675.0" fill="none" stroke="#757575" stroke-width="5" stroke-linecap="round" stroke-linejoin="round" opacity="0.75"/><path d="M1281.0,577.0 L1296.0,612.0 L1310.0,646.0 L1322.0,675.0" fill="none" stroke="#828282" stroke-width="2.25" stroke-linecap="round" stroke-linejoin="round" opacity="0.7"/><path d="M1265.0,577.0 L1280.0,612.0 L1294.0,646.0 L1308.0,680.0" fill="none" stroke="#9a9a9a" stroke-width="14.5" stroke-linecap="round" stroke-linejoin="round" opacity="0.55"/><path d="M1265.0,577.0 L1280.0,612.0 L1294.0,646.0 L1308.0,680.0" fill="none" stroke="#757575" stroke-width="12" stroke-linecap="round" stroke-linejoin="round" opacity="0.92"/><path d="M1265.0,577.0 L1280.0,612.0 L1294.0,646.0 L1308.0,680.0" fill="none" stroke="#828282" stroke-width="5.4" stroke-linecap="round" stroke-linejoin="round" opacity="0.7"/><path d="M1265.0,577.0 L1280.0,612.0 L1294.0,646.0 L1308.0,680.0" fill="none" stroke="#e6e63c" stroke-width="4.199999999999999" stroke-linecap="round" stroke-linejoin="round" opacity="1.0"/><path d="M1265.0,577.0 L1265.7,578.5 L1266.3,580.1 L1267.0,581.6 L1267.6,583.2 L1268.3,584.7 L1269.0,586.2 L1269.6,587.8 L1270.3,589.3" fill="none" stroke="#c81e28" stroke-width="10.8" stroke-linecap="round" stroke-linejoin="round" opacity="0.95"/><path d="M1302.1,665.6 L1302.8,667.4 L1303.5,669.2 L1304.3,671.0 L1305.0,672.8 L1305.8,674.6 L1306.5,676.4 L1307.3,678.2 L1308.0,680.0" fill="none" stroke="#c81e28" stroke-width="10.8" stroke-linecap="round" stroke-linejoin="round" opacity="0.95"/><path d="M1238.0,577.0 L1255.0,614.0 L1272.0,650.0 L1290.0,684.0" fill="none" stroke="#9a9a9a" stroke-width="14.5" stroke-linecap="round" stroke-linejoin="round" opacity="0.55"/><path d="M1238.0,577.0 L1255.0,614.0 L1272.0,650.0 L1290.0,684.0" fill="none" stroke="#757575" stroke-width="12" stroke-linecap="round" stroke-linejoin="round" opacity="0.92"/><path d="M1238.0,577.0 L1255.0,614.0 L1272.0,650.0 L1290.0,684.0" fill="none" stroke="#828282" stroke-width="5.4" stroke-linecap="round" stroke-linejoin="round" opacity="0.7"/><path d="M1238.0,577.0 L1255.0,614.0 L1272.0,650.0 L1290.0,684.0" fill="none" stroke="#e6e63c" stroke-width="4.199999999999999" stroke-linecap="round" stroke-linejoin="round" opacity="1.0"/><path d="M1238.0,577.0 L1238.9,578.9 L1239.7,580.8 L1240.6,582.7 L1241.5,584.6 L1242.3,586.5 L1243.2,588.4 L1244.1,590.2 L1245.0,592.1" fill="none" stroke="#c81e28" stroke-width="10.8" stroke-linecap="round" stroke-linejoin="round" opacity="0.95"/><path d="M1282.2,669.3 L1283.2,671.1 L1284.2,673.0 L1285.1,674.8 L1286.1,676.6 L1287.1,678.5 L1288.1,680.3 L1289.0,682.2 L1290.0,684.0" fill="none" stroke="#c81e28" stroke-width="10.8" stroke-linecap="round" stroke-linejoin="round" opacity="0.95"/><path d="M1216,552 C1220,544 1240,542 1270,548 C1276,556 1274,566 1268,570 C1245,574 1225,572 1218,566 Z" fill="#7e7e7e"/><ellipse cx="1240" cy="557" rx="7.5" ry="7" fill="#e6e63c"/><circle cx="1264" cy="562" r="4.5" fill="#e6e63c"/><rect x="1229" y="569" width="21" height="6.5" fill="#c81e28"/><rect x="1254" y="570" width="31" height="6" fill="#c81e28"/><path d="M1330.0,443.0 L1306.0,480.0 L1282.0,518.0 L1260.0,555.0" fill="none" stroke="#9a9a9a" stroke-width="15.5" stroke-linecap="round" stroke-linejoin="round" opacity="0.55"/><path d="M1330.0,443.0 L1306.0,480.0 L1282.0,518.0 L1260.0,555.0" fill="none" stroke="#757575" stroke-width="13" stroke-linecap="round" stroke-linejoin="round" opacity="0.92"/><path d="M1330.0,443.0 L1306.0,480.0 L1282.0,518.0 L1260.0,555.0" fill="none" stroke="#828282" stroke-width="5.8500000000000005" stroke-linecap="round" stroke-linejoin="round" opacity="0.7"/><path d="M1330.0,443.0 L1325.1,450.6 L1320.1,458.2 L1315.2,465.9 L1310.2,473.5 L1305.3,481.1 L1300.5,488.8 L1295.6,496.5 L1290.8,504.1" fill="none" stroke="#e6e63c" stroke-width="5.2" stroke-linecap="round" stroke-linejoin="round" opacity="1.0"/><path d="M1290.8,504.1 L1286.8,510.4 L1282.8,516.7 L1279.0,523.1 L1275.2,529.5 L1271.4,535.8 L1267.6,542.2 L1263.8,548.6 L1260.0,555.0" fill="none" stroke="#c81e28" stroke-width="11.700000000000001" stroke-linecap="round" stroke-linejoin="round" opacity="0.95"/><path d="M1277.0,443.0 L1263.0,480.0 L1249.0,518.0 L1235.0,555.0" fill="none" stroke="#9a9a9a" stroke-width="15.5" stroke-linecap="round" stroke-linejoin="round" opacity="0.55"/><path d="M1277.0,443.0 L1263.0,480.0 L1249.0,518.0 L1235.0,555.0" fill="none" stroke="#757575" stroke-width="13" stroke-linecap="round" stroke-linejoin="round" opacity="0.92"/><path d="M1277.0,443.0 L1263.0,480.0 L1249.0,518.0 L1235.0,555.0" fill="none" stroke="#828282" stroke-width="5.8500000000000005" stroke-linecap="round" stroke-linejoin="round" opacity="0.7"/><path d="M1277.0,443.0 L1273.3,452.8 L1269.6,462.6 L1265.9,472.4 L1262.2,482.2 L1258.6,492.0 L1255.0,501.8 L1251.3,511.6 L1247.7,521.4" fill="none" stroke="#e6e63c" stroke-width="5.2" stroke-linecap="round" stroke-linejoin="round" opacity="1.0"/><path d="M1247.7,521.4 L1246.1,525.6 L1244.5,529.8 L1242.9,534.0 L1241.3,538.2 L1239.8,542.4 L1238.2,546.6 L1236.6,550.8 L1235.0,555.0" fill="none" stroke="#c81e28" stroke-width="11.700000000000001" stroke-linecap="round" stroke-linejoin="round" opacity="0.95"/><clipPath id="rc5"><path d="M1268,384 C1276,370 1318,368 1342,378 C1352,394 1352,420 1346,440 C1330,450 1300,450 1278,444 C1266,428 1262,402 1268,384 Z"/></clipPath><g clip-path="url(#rc5)"><rect x="1255" y="360" width="100" height="95" fill="#8a7476"/><ellipse cx="1319.7" cy="418.3" rx="5.9" ry="5.8" fill="#c81e28" opacity="0.95" transform="rotate(179 1319.7 418.3)"/><ellipse cx="1297.6" cy="431.7" rx="4.6" ry="3.8" fill="#c81e28" opacity="0.95" transform="rotate(180 1297.6 431.7)"/><ellipse cx="1271.3" cy="409.7" rx="3.6" ry="2.9" fill="#c81e28" opacity="0.95" transform="rotate(39 1271.3 409.7)"/><ellipse cx="1295.6" cy="390.6" rx="3.6" ry="3.1" fill="#c81e28" opacity="0.95" transform="rotate(15 1295.6 390.6)"/><ellipse cx="1279.3" cy="420.9" rx="4.5" ry="3.9" fill="#c81e28" opacity="0.95" transform="rotate(46 1279.3 420.9)"/><ellipse cx="1330.9" cy="425.9" rx="5.1" ry="2.6" fill="#c81e28" opacity="0.95" transform="rotate(84 1330.9 425.9)"/><ellipse cx="1267.9" cy="403.1" rx="4.1" ry="3.1" fill="#c81e28" opacity="0.95" transform="rotate(20 1267.9 403.1)"/><ellipse cx="1329.1" cy="400.1" rx="4.0" ry="2.1" fill="#c81e28" opacity="0.95" transform="rotate(102 1329.1 400.1)"/><ellipse cx="1307.0" cy="399.6" rx="5.1" ry="3.0" fill="#c81e28" opacity="0.95" transform="rotate(75 1307.0 399.6)"/><ellipse cx="1302.1" cy="415.5" rx="3.8" ry="3.5" fill="#c81e28" opacity="0.95" transform="rotate(19 1302.1 415.5)"/><ellipse cx="1334.0" cy="391.3" rx="5.9" ry="4.3" fill="#c81e28" opacity="0.95" transform="rotate(73 1334.0 391.3)"/><ellipse cx="1315.0" cy="433.8" rx="5.9" ry="4.0" fill="#c81e28" opacity="0.95" transform="rotate(2 1315.0 433.8)"/><ellipse cx="1278.3" cy="431.1" rx="4.9" ry="4.2" fill="#c81e28" opacity="0.95" transform="rotate(28 1278.3 431.1)"/><ellipse cx="1308.5" cy="383.7" rx="2.4" ry="1.5" fill="#c81e28" opacity="0.95" transform="rotate(174 1308.5 383.7)"/><ellipse cx="1317.4" cy="432.9" rx="2.2" ry="1.5" fill="#c81e28" opacity="0.95" transform="rotate(14 1317.4 432.9)"/><ellipse cx="1286.9" cy="388.7" rx="5.7" ry="3.6" fill="#c81e28" opacity="0.95" transform="rotate(88 1286.9 388.7)"/><ellipse cx="1318.3" cy="435.2" rx="5.8" ry="4.4" fill="#c81e28" opacity="0.95" transform="rotate(90 1318.3 435.2)"/><ellipse cx="1338.3" cy="405.7" rx="3.2" ry="2.7" fill="#c81e28" opacity="0.95" transform="rotate(46 1338.3 405.7)"/><ellipse cx="1295.4" cy="407.8" rx="3.9" ry="2.5" fill="#c81e28" opacity="0.95" transform="rotate(77 1295.4 407.8)"/><ellipse cx="1302.1" cy="385.0" rx="5.3" ry="2.6" fill="#c81e28" opacity="0.95" transform="rotate(95 1302.1 385.0)"/><ellipse cx="1309.8" cy="406.0" rx="2.9" ry="1.5" fill="#c81e28" opacity="0.95" transform="rotate(67 1309.8 406.0)"/><ellipse cx="1291.2" cy="411.0" rx="2.9" ry="2.5" fill="#c81e28" opacity="0.95" transform="rotate(88 1291.2 411.0)"/><ellipse cx="1266.7" cy="406.4" rx="5.9" ry="2.7" fill="#c81e28" opacity="0.95" transform="rotate(107 1266.7 406.4)"/><ellipse cx="1342.9" cy="403.9" rx="4.4" ry="2.9" fill="#c81e28" opacity="0.95" transform="rotate(54 1342.9 403.9)"/><ellipse cx="1314.7" cy="417.4" rx="3.3" ry="2.4" fill="#c81e28" opacity="0.95" transform="rotate(93 1314.7 417.4)"/><ellipse cx="1273.4" cy="397.1" rx="3.1" ry="2.7" fill="#c81e28" opacity="0.95" transform="rotate(77 1273.4 397.1)"/><ellipse cx="1334.8" cy="406.1" rx="3.1" ry="2.6" fill="#c81e28" opacity="0.95" transform="rotate(15 1334.8 406.1)"/><ellipse cx="1292.3" cy="401.0" rx="5.3" ry="4.7" fill="#c81e28" opacity="0.95" transform="rotate(116 1292.3 401.0)"/><ellipse cx="1269.8" cy="419.5" rx="4.2" ry="4.0" fill="#c81e28" opacity="0.95" transform="rotate(115 1269.8 419.5)"/><ellipse cx="1326.2" cy="416.8" rx="2.0" ry="1.7" fill="#c81e28" opacity="0.95" transform="rotate(75 1326.2 416.8)"/><ellipse cx="1328.5" cy="408.4" rx="5.0" ry="3.3" fill="#c81e28" opacity="0.95" transform="rotate(81 1328.5 408.4)"/><ellipse cx="1301.0" cy="389.1" rx="3.3" ry="2.8" fill="#c81e28" opacity="0.95" transform="rotate(13 1301.0 389.1)"/><ellipse cx="1319.3" cy="414.9" rx="2.5" ry="1.3" fill="#c81e28" opacity="0.95" transform="rotate(56 1319.3 414.9)"/><ellipse cx="1342.3" cy="415.6" rx="5.7" ry="3.2" fill="#c81e28" opacity="0.95" transform="rotate(75 1342.3 415.6)"/><ellipse cx="1308.9" cy="432.4" rx="2.5" ry="2.3" fill="#c81e28" opacity="0.95" transform="rotate(85 1308.9 432.4)"/><ellipse cx="1268.5" cy="407.9" rx="3.5" ry="2.9" fill="#c81e28" opacity="0.95" transform="rotate(167 1268.5 407.9)"/><ellipse cx="1305.5" cy="423.4" rx="3.6" ry="3.1" fill="#c81e28" opacity="0.95" transform="rotate(19 1305.5 423.4)"/><ellipse cx="1325.4" cy="392.0" rx="4.3" ry="2.4" fill="#c81e28" opacity="0.95" transform="rotate(62 1325.4 392.0)"/><ellipse cx="1279.1" cy="403.0" rx="4.4" ry="3.2" fill="#c81e28" opacity="0.95" transform="rotate(70 1279.1 403.0)"/><ellipse cx="1311.9" cy="432.5" rx="3.4" ry="2.6" fill="#c81e28" opacity="0.95" transform="rotate(86 1311.9 432.5)"/><path d="M1270,398 C1282,394 1298,400 1302,416 C1304,430 1296,440 1282,442 C1272,436 1266,418 1270,398 Z" fill="#c81e28"/></g><ellipse cx="1309" cy="416" rx="6" ry="8" fill="#000"/><ellipse cx="1319.1" cy="397.6" rx="2.0" ry="1.7" fill="#e6e63c" opacity="0.95" transform="rotate(103 1319.1 397.6)"/><ellipse cx="1303.3" cy="393.5" rx="3.1" ry="2.1" fill="#e6e63c" opacity="0.95" transform="rotate(129 1303.3 393.5)"/><ellipse cx="1309.6" cy="406.8" rx="2.6" ry="2.6" fill="#e6e63c" opacity="0.95" transform="rotate(164 1309.6 406.8)"/><ellipse cx="1310.4" cy="403.7" rx="2.0" ry="1.7" fill="#e6e63c" opacity="0.95" transform="rotate(18 1310.4 403.7)"/><ellipse cx="1305.0" cy="412.3" rx="1.6" ry="1.3" fill="#e6e63c" opacity="0.95" transform="rotate(102 1305.0 412.3)"/><ellipse cx="1313.9" cy="400.0" rx="1.8" ry="1.8" fill="#e6e63c" opacity="0.95" transform="rotate(138 1313.9 400.0)"/><ellipse cx="1322.2" cy="397.2" rx="1.9" ry="1.4" fill="#e6e63c" opacity="0.95" transform="rotate(110 1322.2 397.2)"/><ellipse cx="1298.3" cy="410.4" rx="2.7" ry="2.5" fill="#e6e63c" opacity="0.95" transform="rotate(166 1298.3 410.4)"/><path d="M1330.0,304.0 L1306.0,336.0 L1284.0,368.0 L1262.0,402.0" fill="none" stroke="#9a9a9a" stroke-width="11.5" stroke-linecap="round" stroke-linejoin="round" opacity="0.55"/><path d="M1330.0,304.0 L1306.0,336.0 L1284.0,368.0 L1262.0,402.0" fill="none" stroke="#757575" stroke-width="9" stroke-linecap="round" stroke-linejoin="round" opacity="0.8"/><path d="M1330.0,304.0 L1306.0,336.0 L1284.0,368.0 L1262.0,402.0" fill="none" stroke="#828282" stroke-width="4.05" stroke-linecap="round" stroke-linejoin="round" opacity="0.7"/><path d="M1318.0,336.0 L1316.0,360.0 L1314.0,385.0" fill="none" stroke="#c81e28" stroke-width="14" stroke-linecap="round" stroke-linejoin="round" opacity="0.97"/><rect x="1306" y="345" width="18" height="2.5" fill="#d8323c"/><rect x="1306" y="354" width="18" height="2.5" fill="#d8323c"/><rect x="1306" y="363" width="18" height="2.5" fill="#d8323c"/><rect x="1306" y="372" width="18" height="2.5" fill="#d8323c"/><rect x="1306" y="381" width="18" height="2.5" fill="#d8323c"/><clipPath id="rc6"><path d="M1286,225 C1280,248 1276,270 1274,293 C1274,310 1275,325 1276,339 C1288,342 1300,342 1310,341.5 C1324,342 1338,341 1349,339 C1358,318 1366,292 1368.4,268.7 C1370,252 1369,238 1366,225 C1358,216 1346,212 1334.5,213 C1316,214 1298,218 1286,225 Z"/></clipPath><g clip-path="url(#rc6)"><rect x="1265" y="205" width="110" height="145" fill="#9c6a6e"/><path d="M1262.6,245.6 q52.0,-30.0 104.0,-54.0" stroke="#8e8e8e" stroke-width="6.8" fill="none" opacity="0.9"/><path d="M1262.6,245.6 q52.0,-30.0 104.0,-54.0" stroke="#c81e28" stroke-width="3.8" fill="none"/><path d="M1263.9,255.4 q52.0,-30.0 104.0,-54.0" stroke="#8e8e8e" stroke-width="6.8" fill="none" opacity="0.9"/><path d="M1263.9,255.4 q52.0,-30.0 104.0,-54.0" stroke="#c81e28" stroke-width="3.8" fill="none"/><path d="M1262.4,264.6 q52.0,-30.0 104.0,-54.0" stroke="#8e8e8e" stroke-width="6.8" fill="none" opacity="0.9"/><path d="M1262.4,264.6 q52.0,-30.0 104.0,-54.0" stroke="#c81e28" stroke-width="3.8" fill="none"/><path d="M1264.2,271.5 q52.0,-30.0 104.0,-54.0" stroke="#8e8e8e" stroke-width="6.8" fill="none" opacity="0.9"/><path d="M1264.2,271.5 q52.0,-30.0 104.0,-54.0" stroke="#c81e28" stroke-width="3.8" fill="none"/><path d="M1263.2,279.6 q52.0,-30.0 104.0,-54.0" stroke="#8e8e8e" stroke-width="6.8" fill="none" opacity="0.9"/><path d="M1263.2,279.6 q52.0,-30.0 104.0,-54.0" stroke="#c81e28" stroke-width="3.8" fill="none"/><path d="M1264.6,289.0 q52.0,-30.0 104.0,-54.0" stroke="#8e8e8e" stroke-width="6.8" fill="none" opacity="0.9"/><path d="M1264.6,289.0 q52.0,-30.0 104.0,-54.0" stroke="#c81e28" stroke-width="3.8" fill="none"/><path d="M1264.4,297.8 q52.0,-30.0 104.0,-54.0" stroke="#8e8e8e" stroke-width="6.8" fill="none" opacity="0.9"/><path d="M1264.4,297.8 q52.0,-30.0 104.0,-54.0" stroke="#c81e28" stroke-width="3.8" fill="none"/><path d="M1264.4,307.2 q52.0,-30.0 104.0,-54.0" stroke="#8e8e8e" stroke-width="6.8" fill="none" opacity="0.9"/><path d="M1264.4,307.2 q52.0,-30.0 104.0,-54.0" stroke="#c81e28" stroke-width="3.8" fill="none"/><path d="M1265.3,315.4 q52.0,-30.0 104.0,-54.0" stroke="#8e8e8e" stroke-width="6.8" fill="none" opacity="0.9"/><path d="M1265.3,315.4 q52.0,-30.0 104.0,-54.0" stroke="#c81e28" stroke-width="3.8" fill="none"/><path d="M1265.8,324.8 q52.0,-30.0 104.0,-54.0" stroke="#8e8e8e" stroke-width="6.8" fill="none" opacity="0.9"/><path d="M1265.8,324.8 q52.0,-30.0 104.0,-54.0" stroke="#c81e28" stroke-width="3.8" fill="none"/><path d="M1268.1,332.5 q52.0,-30.0 104.0,-54.0" stroke="#8e8e8e" stroke-width="6.8" fill="none" opacity="0.9"/><path d="M1268.1,332.5 q52.0,-30.0 104.0,-54.0" stroke="#c81e28" stroke-width="3.8" fill="none"/><path d="M1268.6,343.3 q52.0,-30.0 104.0,-54.0" stroke="#8e8e8e" stroke-width="6.8" fill="none" opacity="0.9"/><path d="M1268.6,343.3 q52.0,-30.0 104.0,-54.0" stroke="#c81e28" stroke-width="3.8" fill="none"/><path d="M1268.3,351.1 q52.0,-30.0 104.0,-54.0" stroke="#8e8e8e" stroke-width="6.8" fill="none" opacity="0.9"/><path d="M1268.3,351.1 q52.0,-30.0 104.0,-54.0" stroke="#c81e28" stroke-width="3.8" fill="none"/><path d="M1269.2,359.9 q52.0,-30.0 104.0,-54.0" stroke="#8e8e8e" stroke-width="6.8" fill="none" opacity="0.9"/><path d="M1269.2,359.9 q52.0,-30.0 104.0,-54.0" stroke="#c81e28" stroke-width="3.8" fill="none"/><path d="M1269.5,369.8 q52.0,-30.0 104.0,-54.0" stroke="#8e8e8e" stroke-width="6.8" fill="none" opacity="0.9"/><path d="M1269.5,369.8 q52.0,-30.0 104.0,-54.0" stroke="#c81e28" stroke-width="3.8" fill="none"/><path d="M1270.3,376.5 q52.0,-30.0 104.0,-54.0" stroke="#8e8e8e" stroke-width="6.8" fill="none" opacity="0.9"/><path d="M1270.3,376.5 q52.0,-30.0 104.0,-54.0" stroke="#c81e28" stroke-width="3.8" fill="none"/><path d="M1268.7,387.3 q52.0,-30.0 104.0,-54.0" stroke="#8e8e8e" stroke-width="6.8" fill="none" opacity="0.9"/><path d="M1268.7,387.3 q52.0,-30.0 104.0,-54.0" stroke="#c81e28" stroke-width="3.8" fill="none"/><ellipse cx="1312.1" cy="311.0" rx="2.2" ry="1.5" fill="#c81e28" opacity="0.95" transform="rotate(67 1312.1 311.0)"/><ellipse cx="1347.1" cy="323.9" rx="3.0" ry="2.3" fill="#c81e28" opacity="0.95" transform="rotate(63 1347.1 323.9)"/><ellipse cx="1322.7" cy="222.0" rx="4.2" ry="2.1" fill="#c81e28" opacity="0.95" transform="rotate(102 1322.7 222.0)"/><ellipse cx="1309.2" cy="321.9" rx="1.7" ry="1.4" fill="#c81e28" opacity="0.95" transform="rotate(12 1309.2 321.9)"/><ellipse cx="1278.7" cy="290.6" rx="4.4" ry="3.7" fill="#c81e28" opacity="0.95" transform="rotate(154 1278.7 290.6)"/><ellipse cx="1343.1" cy="273.2" rx="1.7" ry="1.3" fill="#c81e28" opacity="0.95" transform="rotate(33 1343.1 273.2)"/><ellipse cx="1317.3" cy="257.4" rx="3.0" ry="1.7" fill="#c81e28" opacity="0.95" transform="rotate(127 1317.3 257.4)"/><ellipse cx="1310.5" cy="274.6" rx="1.7" ry="1.2" fill="#c81e28" opacity="0.95" transform="rotate(100 1310.5 274.6)"/><ellipse cx="1360.2" cy="275.0" rx="1.9" ry="1.2" fill="#c81e28" opacity="0.95" transform="rotate(60 1360.2 275.0)"/><ellipse cx="1344.7" cy="323.8" rx="4.4" ry="4.3" fill="#c81e28" opacity="0.95" transform="rotate(167 1344.7 323.8)"/><ellipse cx="1276.2" cy="281.1" rx="3.3" ry="2.7" fill="#c81e28" opacity="0.95" transform="rotate(110 1276.2 281.1)"/><ellipse cx="1336.8" cy="324.5" rx="1.8" ry="1.3" fill="#c81e28" opacity="0.95" transform="rotate(173 1336.8 324.5)"/><ellipse cx="1350.5" cy="292.2" rx="3.1" ry="2.4" fill="#c81e28" opacity="0.95" transform="rotate(136 1350.5 292.2)"/><ellipse cx="1306.6" cy="257.0" rx="2.5" ry="1.2" fill="#c81e28" opacity="0.95" transform="rotate(139 1306.6 257.0)"/><ellipse cx="1299.2" cy="288.8" rx="3.1" ry="2.0" fill="#c81e28" opacity="0.95" transform="rotate(121 1299.2 288.8)"/><ellipse cx="1308.6" cy="244.3" rx="4.1" ry="2.3" fill="#c81e28" opacity="0.95" transform="rotate(27 1308.6 244.3)"/><ellipse cx="1296.2" cy="276.3" rx="3.9" ry="2.4" fill="#c81e28" opacity="0.95" transform="rotate(43 1296.2 276.3)"/><ellipse cx="1326.4" cy="244.3" rx="3.1" ry="1.8" fill="#c81e28" opacity="0.95" transform="rotate(158 1326.4 244.3)"/><ellipse cx="1285.1" cy="248.2" rx="2.4" ry="1.5" fill="#c81e28" opacity="0.95" transform="rotate(131 1285.1 248.2)"/><ellipse cx="1339.1" cy="306.6" rx="3.1" ry="1.5" fill="#c81e28" opacity="0.95" transform="rotate(137 1339.1 306.6)"/><ellipse cx="1290.0" cy="245.6" rx="2.7" ry="2.7" fill="#c81e28" opacity="0.95" transform="rotate(67 1290.0 245.6)"/><ellipse cx="1314.1" cy="325.8" rx="4.5" ry="3.0" fill="#c81e28" opacity="0.95" transform="rotate(24 1314.1 325.8)"/><ellipse cx="1349.0" cy="303.9" rx="2.5" ry="2.2" fill="#c81e28" opacity="0.95" transform="rotate(68 1349.0 303.9)"/><ellipse cx="1301.5" cy="289.3" rx="3.7" ry="2.7" fill="#c81e28" opacity="0.95" transform="rotate(147 1301.5 289.3)"/><ellipse cx="1275.8" cy="282.3" rx="2.6" ry="1.3" fill="#c81e28" opacity="0.95" transform="rotate(165 1275.8 282.3)"/><ellipse cx="1281.0" cy="245.7" rx="4.1" ry="4.0" fill="#c81e28" opacity="0.95" transform="rotate(168 1281.0 245.7)"/><ellipse cx="1313.3" cy="328.3" rx="1.9" ry="1.6" fill="#c81e28" opacity="0.95" transform="rotate(170 1313.3 328.3)"/><ellipse cx="1283.8" cy="236.6" rx="3.5" ry="3.3" fill="#c81e28" opacity="0.95" transform="rotate(131 1283.8 236.6)"/><ellipse cx="1356.0" cy="262.7" rx="2.6" ry="1.4" fill="#c81e28" opacity="0.95" transform="rotate(49 1356.0 262.7)"/><ellipse cx="1287.5" cy="261.8" rx="1.6" ry="1.0" fill="#c81e28" opacity="0.95" transform="rotate(33 1287.5 261.8)"/><ellipse cx="1285.9" cy="283.9" rx="3.1" ry="2.4" fill="#c81e28" opacity="0.95" transform="rotate(137 1285.9 283.9)"/><ellipse cx="1329.6" cy="327.4" rx="1.7" ry="1.0" fill="#c81e28" opacity="0.95" transform="rotate(14 1329.6 327.4)"/><ellipse cx="1306.9" cy="308.7" rx="4.3" ry="3.1" fill="#c81e28" opacity="0.95" transform="rotate(29 1306.9 308.7)"/><ellipse cx="1304.7" cy="285.7" rx="2.4" ry="2.1" fill="#c81e28" opacity="0.95" transform="rotate(175 1304.7 285.7)"/><ellipse cx="1316.7" cy="287.8" rx="4.0" ry="2.8" fill="#c81e28" opacity="0.95" transform="rotate(34 1316.7 287.8)"/><ellipse cx="1300.0" cy="223.6" rx="2.0" ry="1.1" fill="#c81e28" opacity="0.95" transform="rotate(133 1300.0 223.6)"/><ellipse cx="1299.9" cy="314.6" rx="3.0" ry="2.4" fill="#c81e28" opacity="0.95" transform="rotate(84 1299.9 314.6)"/><ellipse cx="1291.5" cy="223.8" rx="2.3" ry="1.8" fill="#c81e28" opacity="0.95" transform="rotate(66 1291.5 223.8)"/><ellipse cx="1318.2" cy="290.1" rx="2.5" ry="1.6" fill="#c81e28" opacity="0.95" transform="rotate(159 1318.2 290.1)"/><ellipse cx="1323.3" cy="263.9" rx="3.1" ry="2.2" fill="#c81e28" opacity="0.95" transform="rotate(60 1323.3 263.9)"/><ellipse cx="1348.3" cy="237.2" rx="4.3" ry="4.0" fill="#c81e28" opacity="0.95" transform="rotate(159 1348.3 237.2)"/><ellipse cx="1288.9" cy="281.2" rx="4.5" ry="2.7" fill="#c81e28" opacity="0.95" transform="rotate(31 1288.9 281.2)"/><ellipse cx="1331.8" cy="240.3" rx="3.3" ry="1.7" fill="#c81e28" opacity="0.95" transform="rotate(171 1331.8 240.3)"/><ellipse cx="1290.9" cy="230.7" rx="3.6" ry="2.3" fill="#c81e28" opacity="0.95" transform="rotate(101 1290.9 230.7)"/><ellipse cx="1326.6" cy="325.0" rx="3.0" ry="2.0" fill="#c81e28" opacity="0.95" transform="rotate(0 1326.6 325.0)"/><path d="M1280,320 l14,-8" stroke="#000" stroke-width="3.5" stroke-linecap="round" opacity="0.85"/><path d="M1284,330 l14,-8" stroke="#000" stroke-width="3.5" stroke-linecap="round" opacity="0.85"/><path d="M1290,300 l14,-8" stroke="#000" stroke-width="3.5" stroke-linecap="round" opacity="0.85"/><path d="M1296,312 l14,-8" stroke="#000" stroke-width="3.5" stroke-linecap="round" opacity="0.85"/><path d="M1282,306 l14,-8" stroke="#000" stroke-width="3.5" stroke-linecap="round" opacity="0.85"/></g><path d="M1351.0,213.0 L1346.0,245.0 L1339.0,275.0 L1332.0,300.0" fill="none" stroke="#9a9a9a" stroke-width="9.5" stroke-linecap="round" stroke-linejoin="round" opacity="0.55"/><path d="M1351.0,213.0 L1346.0,245.0 L1339.0,275.0 L1332.0,300.0" fill="none" stroke="#757575" stroke-width="7" stroke-linecap="round" stroke-linejoin="round" opacity="0.92"/><path d="M1351.0,213.0 L1346.0,245.0 L1339.0,275.0 L1332.0,300.0" fill="none" stroke="#828282" stroke-width="3.15" stroke-linecap="round" stroke-linejoin="round" opacity="0.7"/><path d="M1351.0,213.0 L1346.0,245.0 L1339.0,275.0 L1332.0,300.0" fill="none" stroke="#e6e63c" stroke-width="4.8999999999999995" stroke-linecap="round" stroke-linejoin="round" opacity="1.0"/><circle cx="1352" cy="212" r="8" fill="#c81e28"/><path d="M1316.0,185.0 L1320.0,202.0 L1324.0,220.0" fill="none" stroke="#7a7a7a" stroke-width="12" stroke-linecap="round" stroke-linejoin="round" opacity="0.92"/><ellipse cx="1320.0" cy="200.4" rx="1.6" ry="1.3" fill="#c81e28" opacity="0.95" transform="rotate(83 1320.0 200.4)"/><ellipse cx="1316.7" cy="205.0" rx="1.5" ry="1.2" fill="#c81e28" opacity="0.95" transform="rotate(175 1316.7 205.0)"/><ellipse cx="1318.2" cy="203.9" rx="1.1" ry="1.0" fill="#c81e28" opacity="0.95" transform="rotate(42 1318.2 203.9)"/><ellipse cx="1322.6" cy="211.0" rx="1.3" ry="1.2" fill="#c81e28" opacity="0.95" transform="rotate(91 1322.6 211.0)"/><ellipse cx="1319.4" cy="206.1" rx="1.9" ry="1.4" fill="#c81e28" opacity="0.95" transform="rotate(87 1319.4 206.1)"/><path d="M1280,160 C1298,162 1318,160 1330,166 C1330,182 1326,196 1316,201 C1305,205 1292,203 1286,196 C1279,186 1277,172 1280,160 Z" fill="#727272" opacity="0.88"/><ellipse cx="1304" cy="147.5" rx="36.4" ry="29" fill="url(#skull)"/><ellipse cx="1304" cy="147.5" rx="35.199999999999996" ry="27.8" fill="none" stroke="#b0b0b0" stroke-width="2.2" opacity="0.55"/><ellipse cx="1293.8" cy="187.1" rx="1.5" ry="1.0" fill="#e6e63c" opacity="0.95" transform="rotate(35 1293.8 187.1)"/><ellipse cx="1292.3" cy="187.0" rx="1.8" ry="1.8" fill="#e6e63c" opacity="0.95" transform="rotate(165 1292.3 187.0)"/><ellipse cx="1301.7" cy="186.6" rx="1.7" ry="1.5" fill="#e6e63c" opacity="0.95" transform="rotate(144 1301.7 186.6)"/><ellipse cx="1291.5" cy="186.8" rx="1.3" ry="0.8" fill="#e6e63c" opacity="0.95" transform="rotate(166 1291.5 186.8)"/><ellipse cx="1288.5" cy="183.1" rx="1.3" ry="1.2" fill="#e6e63c" opacity="0.95" transform="rotate(110 1288.5 183.1)"/><ellipse cx="1300.9" cy="177.8" rx="1.7" ry="0.9" fill="#e6e63c" opacity="0.95" transform="rotate(177 1300.9 177.8)"/><ellipse cx="1310.5" cy="190.5" rx="1.2" ry="1.0" fill="#c81e28" opacity="0.95" transform="rotate(136 1310.5 190.5)"/><ellipse cx="1301.5" cy="193.8" rx="1.1" ry="1.0" fill="#c81e28" opacity="0.95" transform="rotate(138 1301.5 193.8)"/><ellipse cx="1309.4" cy="195.0" rx="1.6" ry="1.5" fill="#c81e28" opacity="0.95" transform="rotate(115 1309.4 195.0)"/><path d="M1281.0,226.0 L1268.0,254.0 L1254.0,282.0 L1240.0,310.0" fill="none" stroke="#9a9a9a" stroke-width="13.0" stroke-linecap="round" stroke-linejoin="round" opacity="0.55"/><path d="M1281.0,226.0 L1268.0,254.0 L1254.0,282.0 L1240.0,310.0" fill="none" stroke="#757575" stroke-width="10.5" stroke-linecap="round" stroke-linejoin="round" opacity="0.92"/><path d="M1281.0,226.0 L1268.0,254.0 L1254.0,282.0 L1240.0,310.0" fill="none" stroke="#828282" stroke-width="4.7250000000000005" stroke-linecap="round" stroke-linejoin="round" opacity="0.7"/><path d="M1281.0,226.0 L1268.0,254.0 L1254.0,282.0 L1240.0,310.0" fill="none" stroke="#e6e63c" stroke-width="5.775" stroke-linecap="round" stroke-linejoin="round" opacity="1.0"/><circle cx="1284" cy="224" r="8.5" fill="#c81e28"/><path d="M1232,304 C1240,300 1248,306 1246,316 C1242,322 1234,322 1230,316 Z" fill="#c81e28"/><path d="M1236.0,318.0 L1233.0,346.0 L1230.0,374.0 L1228.0,400.0" fill="none" stroke="#9a9a9a" stroke-width="13.5" stroke-linecap="round" stroke-linejoin="round" opacity="0.55"/><path d="M1236.0,318.0 L1233.0,346.0 L1230.0,374.0 L1228.0,400.0" fill="none" stroke="#757575" stroke-width="11" stroke-linecap="round" stroke-linejoin="round" opacity="0.92"/><path d="M1236.0,318.0 L1233.0,346.0 L1230.0,374.0 L1228.0,400.0" fill="none" stroke="#828282" stroke-width="4.95" stroke-linecap="round" stroke-linejoin="round" opacity="0.7"/><path d="M1235.6,322.1 L1235.2,325.2 L1234.9,328.2 L1234.6,331.3 L1234.2,334.4 L1233.9,337.5 L1233.6,340.5 L1233.3,343.6 L1232.9,346.7" fill="none" stroke="#e6e63c" stroke-width="2.75" stroke-linecap="round" stroke-linejoin="round" opacity="1.0"/><path d="M1220,398 C1230,394 1242,398 1246,410 C1248,424 1246,436 1240,444 C1232,448 1224,444 1220,436 C1216,424 1216,410 1220,398 Z" fill="#757575" opacity="0.92"/><ellipse cx="1231.9" cy="414.8" rx="1.4" ry="0.7" fill="#c81e28" opacity="0.95" transform="rotate(29 1231.9 414.8)"/><ellipse cx="1236.7" cy="410.4" rx="1.8" ry="1.6" fill="#c81e28" opacity="0.95" transform="rotate(125 1236.7 410.4)"/><ellipse cx="1232.3" cy="412.8" rx="1.3" ry="0.7" fill="#c81e28" opacity="0.95" transform="rotate(117 1232.3 412.8)"/><ellipse cx="1235.0" cy="430.4" rx="1.4" ry="1.3" fill="#c81e28" opacity="0.95" transform="rotate(164 1235.0 430.4)"/><ellipse cx="1228.6" cy="430.7" rx="1.7" ry="1.7" fill="#c81e28" opacity="0.95" transform="rotate(139 1228.6 430.7)"/><ellipse cx="1229.3" cy="411.8" rx="1.6" ry="1.2" fill="#c81e28" opacity="0.95" transform="rotate(6 1229.3 411.8)"/><ellipse cx="1237.8" cy="419.0" rx="1.6" ry="1.3" fill="#c81e28" opacity="0.95" transform="rotate(45 1237.8 419.0)"/><ellipse cx="1227.2" cy="420.3" rx="1.3" ry="0.8" fill="#c81e28" opacity="0.95" transform="rotate(13 1227.2 420.3)"/><ellipse cx="1226.6" cy="412.1" rx="1.5" ry="1.5" fill="#e6e63c" opacity="0.95" transform="rotate(115 1226.6 412.1)"/><ellipse cx="1231.0" cy="413.1" rx="1.2" ry="0.9" fill="#e6e63c" opacity="0.95" transform="rotate(173 1231.0 413.1)"/><ellipse cx="1227.5" cy="413.7" rx="1.7" ry="1.5" fill="#e6e63c" opacity="0.95" transform="rotate(100 1227.5 413.7)"/><ellipse cx="1233.7" cy="423.8" rx="1.9" ry="1.1" fill="#e6e63c" opacity="0.95" transform="rotate(97 1233.7 423.8)"/><path d="M1214.0,428.0 L1212.0,448.0" fill="none" stroke="#8a8a8a" stroke-width="3.5" stroke-linecap="round" stroke-linejoin="round" opacity="0.9"/><path d="M1220.0,432.0 L1219.0,450.0" fill="none" stroke="#8a8a8a" stroke-width="3.5" stroke-linecap="round" stroke-linejoin="round" opacity="0.9"/><path d="M1250.0,412.0 L1246.0,440.0" fill="none" stroke="#8a8a8a" stroke-width="4" stroke-linecap="round" stroke-linejoin="round" opacity="0.9"/><path d="M1256.0,410.0 L1254.0,442.0" fill="none" stroke="#8a8a8a" stroke-width="4" stroke-linecap="round" stroke-linejoin="round" opacity="0.9"/><path d="M1262.0,408.0 L1264.0,438.0" fill="none" stroke="#8a8a8a" stroke-width="4" stroke-linecap="round" stroke-linejoin="round" opacity="0.9"/></g>
<line x1="755" y1="969.6" x2="755" y2="1328.4" stroke="#000" stroke-width="3"/>
<line x1="753.5" y1="1327" x2="1399" y2="1327" stroke="#000" stroke-width="3"/>
<line x1="747.2" y1="1326.1" x2="756" y2="1326.1" stroke="#000" stroke-width="3"/>
<text x="734.30" y="1335.90" font-size="28.6" text-anchor="end" font-weight="normal" fill="#000" >0</text>
<line x1="747.2" y1="1255.2" x2="756" y2="1255.2" stroke="#000" stroke-width="3"/>
<text x="734.30" y="1265.00" font-size="28.6" text-anchor="end" font-weight="normal" fill="#000" >20</text>
<line x1="747.2" y1="1184.3" x2="756" y2="1184.3" stroke="#000" stroke-width="3"/>
<text x="734.30" y="1194.10" font-size="28.6" text-anchor="end" font-weight="normal" fill="#000" >40</text>
<line x1="747.2" y1="1113.4" x2="756" y2="1113.4" stroke="#000" stroke-width="3"/>
<text x="734.30" y="1123.20" font-size="28.6" text-anchor="end" font-weight="normal" fill="#000" >60</text>
<line x1="747.2" y1="1042.5" x2="756" y2="1042.5" stroke="#000" stroke-width="3"/>
<text x="734.30" y="1052.30" font-size="28.6" text-anchor="end" font-weight="normal" fill="#000" >80</text>
<line x1="747.2" y1="971.6" x2="756" y2="971.6" stroke="#000" stroke-width="3"/>
<text x="734.30" y="981.40" font-size="28.6" text-anchor="end" font-weight="normal" fill="#000" >100</text>
<line x1="811.6" y1="1327" x2="811.6" y2="1334" stroke="#000" stroke-width="2.2"/>
<line x1="787.5" y1="1016.3" x2="787.5" y2="1326.1" stroke="#000" stroke-width="3"/><line x1="778.0" y1="1016.3" x2="797.0" y2="1016.3" stroke="#000" stroke-width="3"/><line x1="778.0" y1="1326.1" x2="797.0" y2="1326.1" stroke="#000" stroke-width="3"/><rect x="771.9" y="1067.3" width="31.3" height="179.0" fill="#fff" stroke="#000" stroke-width="2.8"/><line x1="771.9" y1="1105.2" x2="803.1" y2="1105.2" stroke="#000" stroke-width="2.8"/><ellipse cx="787.5" cy="1016.3" rx="5.3" ry="4.6" fill="#000"/><ellipse cx="787.5" cy="1056.0" rx="5.3" ry="4.6" fill="#000"/><ellipse cx="787.5" cy="1076.2" rx="5.3" ry="4.6" fill="#000"/><ellipse cx="779.9" cy="1104.5" rx="5.3" ry="4.6" fill="#000"/><ellipse cx="795.6" cy="1104.5" rx="5.3" ry="4.6" fill="#000"/><ellipse cx="787.5" cy="1155.6" rx="5.3" ry="4.6" fill="#000"/><ellipse cx="787.5" cy="1188.6" rx="5.3" ry="4.6" fill="#000"/><ellipse cx="787.5" cy="1305.5" rx="5.3" ry="4.6" fill="#000"/><ellipse cx="787.5" cy="1325.4" rx="5.3" ry="4.6" fill="#000"/>
<line x1="836.2" y1="993.9" x2="836.2" y2="1273.3" stroke="#000" stroke-width="3"/><line x1="826.7" y1="993.9" x2="845.7" y2="993.9" stroke="#000" stroke-width="3"/><line x1="826.7" y1="1273.3" x2="845.7" y2="1273.3" stroke="#000" stroke-width="3"/><rect x="820.6" y="1011.7" width="31.3" height="237.5" fill="#8e8e8e" stroke="#000" stroke-width="2.8"/><line x1="820.6" y1="1043.2" x2="851.9" y2="1043.2" stroke="#000" stroke-width="2.8"/><ellipse cx="836.2" cy="993.9" rx="5.3" ry="4.6" fill="#000"/><ellipse cx="836.2" cy="1010.6" rx="5.3" ry="4.6" fill="#000"/><ellipse cx="836.2" cy="1020.9" rx="5.3" ry="4.6" fill="#000"/><ellipse cx="829.0" cy="1043.2" rx="5.3" ry="4.6" fill="#000"/><ellipse cx="843.8" cy="1041.1" rx="5.3" ry="4.6" fill="#000"/><ellipse cx="836.2" cy="1249.5" rx="5.3" ry="4.6" fill="#000"/><ellipse cx="836.2" cy="1273.3" rx="5.3" ry="4.6" fill="#000"/>
<text x="812.60" y="1368.70" font-size="28.6" text-anchor="middle" font-weight="normal" fill="#000" >Femur</text>
<line x1="942.2" y1="1327" x2="942.2" y2="1334" stroke="#000" stroke-width="2.2"/>
<line x1="918.1" y1="984.7" x2="918.1" y2="1326.1" stroke="#000" stroke-width="3"/><line x1="908.6" y1="984.7" x2="927.6" y2="984.7" stroke="#000" stroke-width="3"/><line x1="908.6" y1="1326.1" x2="927.6" y2="1326.1" stroke="#000" stroke-width="3"/><rect x="902.5" y="1012.4" width="31.3" height="91.1" fill="#fff" stroke="#000" stroke-width="2.8"/><line x1="902.5" y1="1048.9" x2="933.8" y2="1048.9" stroke="#000" stroke-width="2.8"/><ellipse cx="918.1" cy="984.7" rx="5.3" ry="4.6" fill="#000"/><ellipse cx="906.6" cy="996.8" rx="5.3" ry="4.6" fill="#000"/><ellipse cx="917.6" cy="996.8" rx="5.3" ry="4.6" fill="#000"/><ellipse cx="924.1" cy="996.8" rx="5.3" ry="4.6" fill="#000"/><ellipse cx="931.6" cy="996.8" rx="5.3" ry="4.6" fill="#000"/><ellipse cx="914.1" cy="1001.7" rx="5.3" ry="4.6" fill="#000"/><ellipse cx="921.6" cy="1001.7" rx="5.3" ry="4.6" fill="#000"/><ellipse cx="916.1" cy="1007.4" rx="5.3" ry="4.6" fill="#000"/><ellipse cx="907.1" cy="1022.3" rx="5.3" ry="4.6" fill="#000"/><ellipse cx="914.6" cy="1030.1" rx="5.3" ry="4.6" fill="#000"/><ellipse cx="923.6" cy="1030.1" rx="5.3" ry="4.6" fill="#000"/><ellipse cx="907.1" cy="1034.3" rx="5.3" ry="4.6" fill="#000"/><ellipse cx="921.6" cy="1034.3" rx="5.3" ry="4.6" fill="#000"/><ellipse cx="930.1" cy="1034.3" rx="5.3" ry="4.6" fill="#000"/><ellipse cx="915.1" cy="1041.1" rx="5.3" ry="4.6" fill="#000"/><ellipse cx="918.1" cy="1056.3" rx="5.3" ry="4.6" fill="#000"/><ellipse cx="910.9" cy="1063.8" rx="5.3" ry="4.6" fill="#000"/><ellipse cx="925.3" cy="1063.8" rx="5.3" ry="4.6" fill="#000"/><ellipse cx="918.1" cy="1078.3" rx="5.3" ry="4.6" fill="#000"/><ellipse cx="910.9" cy="1088.9" rx="5.3" ry="4.6" fill="#000"/><ellipse cx="925.3" cy="1088.9" rx="5.3" ry="4.6" fill="#000"/><ellipse cx="925.3" cy="1101.3" rx="5.3" ry="4.6" fill="#000"/><ellipse cx="910.9" cy="1105.2" rx="5.3" ry="4.6" fill="#000"/><ellipse cx="910.9" cy="1117.3" rx="5.3" ry="4.6" fill="#000"/><ellipse cx="925.3" cy="1117.3" rx="5.3" ry="4.6" fill="#000"/><ellipse cx="918.1" cy="1151.3" rx="5.3" ry="4.6" fill="#000"/><ellipse cx="918.1" cy="1166.2" rx="5.3" ry="4.6" fill="#000"/><ellipse cx="918.1" cy="1196.4" rx="5.3" ry="4.6" fill="#000"/><ellipse cx="918.1" cy="1326.1" rx="5.3" ry="4.6" fill="#000"/>
<line x1="967.6" y1="990.0" x2="967.6" y2="1248.5" stroke="#000" stroke-width="3"/><line x1="958.1" y1="990.0" x2="977.1" y2="990.0" stroke="#000" stroke-width="3"/><line x1="958.1" y1="1248.5" x2="977.1" y2="1248.5" stroke="#000" stroke-width="3"/><rect x="952.0" y="1000.0" width="31.3" height="12.4" fill="#8e8e8e" stroke="#000" stroke-width="2.8"/><line x1="952.0" y1="1004.9" x2="983.2" y2="1004.9" stroke="#000" stroke-width="2.8"/><ellipse cx="967.6" cy="990.0" rx="5.3" ry="4.6" fill="#000"/><ellipse cx="954.6" cy="1000.0" rx="5.3" ry="4.6" fill="#000"/><ellipse cx="967.6" cy="1000.0" rx="5.3" ry="4.6" fill="#000"/><ellipse cx="979.6" cy="1000.0" rx="5.3" ry="4.6" fill="#000"/><ellipse cx="958.6" cy="1005.6" rx="5.3" ry="4.6" fill="#000"/><ellipse cx="976.1" cy="1005.6" rx="5.3" ry="4.6" fill="#000"/><ellipse cx="954.6" cy="1012.7" rx="5.3" ry="4.6" fill="#000"/><ellipse cx="967.6" cy="1248.5" rx="5.3" ry="4.6" fill="#000"/>
<text x="943.20" y="1368.70" font-size="28.6" text-anchor="middle" font-weight="normal" fill="#000" >Humerus</text>
<line x1="1073.4" y1="1327" x2="1073.4" y2="1334" stroke="#000" stroke-width="2.2"/>
<line x1="1049.1" y1="970.9" x2="1049.1" y2="1326.1" stroke="#000" stroke-width="3"/><line x1="1039.6" y1="970.9" x2="1058.6" y2="970.9" stroke="#000" stroke-width="3"/><line x1="1039.6" y1="1326.1" x2="1058.6" y2="1326.1" stroke="#000" stroke-width="3"/><rect x="1033.5" y="1181.5" width="31.3" height="102.8" fill="#fff" stroke="#000" stroke-width="2.8"/><line x1="1033.5" y1="1253.1" x2="1064.7" y2="1253.1" stroke="#000" stroke-width="2.8"/><ellipse cx="1049.1" cy="971.6" rx="5.3" ry="4.6" fill="#000"/><ellipse cx="1049.1" cy="1027.3" rx="5.3" ry="4.6" fill="#000"/><ellipse cx="1049.1" cy="1060.2" rx="5.3" ry="4.6" fill="#000"/><ellipse cx="1049.1" cy="1110.2" rx="5.3" ry="4.6" fill="#000"/><ellipse cx="1049.1" cy="1145.7" rx="5.3" ry="4.6" fill="#000"/><ellipse cx="1049.1" cy="1168.7" rx="5.3" ry="4.6" fill="#000"/><ellipse cx="1042.3" cy="1183.6" rx="5.3" ry="4.6" fill="#000"/><ellipse cx="1057.0" cy="1183.6" rx="5.3" ry="4.6" fill="#000"/><ellipse cx="1049.1" cy="1196.4" rx="5.3" ry="4.6" fill="#000"/><ellipse cx="1037.2" cy="1201.3" rx="5.3" ry="4.6" fill="#000"/><ellipse cx="1061.6" cy="1201.3" rx="5.3" ry="4.6" fill="#000"/><ellipse cx="1049.1" cy="1226.5" rx="5.3" ry="4.6" fill="#000"/><ellipse cx="1037.2" cy="1248.8" rx="5.3" ry="4.6" fill="#000"/><ellipse cx="1054.1" cy="1248.8" rx="5.3" ry="4.6" fill="#000"/><ellipse cx="1061.6" cy="1253.1" rx="5.3" ry="4.6" fill="#000"/><ellipse cx="1049.1" cy="1253.1" rx="5.3" ry="4.6" fill="#000"/><ellipse cx="1037.2" cy="1257.7" rx="5.3" ry="4.6" fill="#000"/><ellipse cx="1054.1" cy="1257.7" rx="5.3" ry="4.6" fill="#000"/><ellipse cx="1049.1" cy="1268.0" rx="5.3" ry="4.6" fill="#000"/><ellipse cx="1049.1" cy="1278.2" rx="5.3" ry="4.6" fill="#000"/><ellipse cx="1049.1" cy="1304.1" rx="5.3" ry="4.6" fill="#000"/><ellipse cx="1049.1" cy="1310.9" rx="5.3" ry="4.6" fill="#000"/><ellipse cx="1037.2" cy="1316.9" rx="5.3" ry="4.6" fill="#000"/><ellipse cx="1049.1" cy="1321.1" rx="5.3" ry="4.6" fill="#000"/><ellipse cx="1061.6" cy="1321.1" rx="5.3" ry="4.6" fill="#000"/><ellipse cx="1037.2" cy="1326.1" rx="5.3" ry="4.6" fill="#000"/>
<line x1="1098.6" y1="971.6" x2="1098.6" y2="1109.5" stroke="#000" stroke-width="3"/><line x1="1089.1" y1="971.6" x2="1108.1" y2="971.6" stroke="#000" stroke-width="3"/><line x1="1089.1" y1="1109.5" x2="1108.1" y2="1109.5" stroke="#000" stroke-width="3"/><rect x="1083.0" y="989.3" width="31.3" height="79.4" fill="#8e8e8e" stroke="#000" stroke-width="2.8"/><line x1="1083.0" y1="1004.6" x2="1114.2" y2="1004.6" stroke="#000" stroke-width="2.8"/><ellipse cx="1098.6" cy="971.6" rx="5.3" ry="4.6" fill="#000"/><ellipse cx="1098.6" cy="989.3" rx="5.3" ry="4.6" fill="#000"/><ellipse cx="1098.6" cy="997.5" rx="5.3" ry="4.6" fill="#000"/><ellipse cx="1098.6" cy="1005.6" rx="5.3" ry="4.6" fill="#000"/><ellipse cx="1098.6" cy="1043.2" rx="5.3" ry="4.6" fill="#000"/><ellipse cx="1098.6" cy="1068.7" rx="5.3" ry="4.6" fill="#000"/><ellipse cx="1098.6" cy="1109.5" rx="5.3" ry="4.6" fill="#000"/>
<text x="1074.40" y="1368.70" font-size="28.6" text-anchor="middle" font-weight="normal" fill="#000" >Clavicle</text>
<line x1="1204.3" y1="1327" x2="1204.3" y2="1334" stroke="#000" stroke-width="2.2"/>
<line x1="1180.2" y1="972.0" x2="1180.2" y2="1326.1" stroke="#000" stroke-width="3"/><line x1="1170.7" y1="972.0" x2="1189.7" y2="972.0" stroke="#000" stroke-width="3"/><line x1="1170.7" y1="1326.1" x2="1189.7" y2="1326.1" stroke="#000" stroke-width="3"/><rect x="1164.6" y="1064.1" width="31.3" height="116.3" fill="#fff" stroke="#000" stroke-width="2.8"/><line x1="1164.6" y1="1159.8" x2="1195.8" y2="1159.8" stroke="#000" stroke-width="2.8"/><ellipse cx="1180.2" cy="972.0" rx="5.3" ry="4.6" fill="#000"/><ellipse cx="1180.2" cy="980.5" rx="5.3" ry="4.6" fill="#000"/><ellipse cx="1180.2" cy="1018.7" rx="5.3" ry="4.6" fill="#000"/><ellipse cx="1180.2" cy="1026.5" rx="5.3" ry="4.6" fill="#000"/><ellipse cx="1180.2" cy="1060.6" rx="5.3" ry="4.6" fill="#000"/><ellipse cx="1167.7" cy="1064.1" rx="5.3" ry="4.6" fill="#000"/><ellipse cx="1193.1" cy="1064.1" rx="5.3" ry="4.6" fill="#000"/><ellipse cx="1173.2" cy="1083.6" rx="5.3" ry="4.6" fill="#000"/><ellipse cx="1187.8" cy="1086.5" rx="5.3" ry="4.6" fill="#000"/><ellipse cx="1173.2" cy="1091.8" rx="5.3" ry="4.6" fill="#000"/><ellipse cx="1180.2" cy="1114.5" rx="5.3" ry="4.6" fill="#000"/><ellipse cx="1173.2" cy="1134.0" rx="5.3" ry="4.6" fill="#000"/><ellipse cx="1187.8" cy="1134.0" rx="5.3" ry="4.6" fill="#000"/><ellipse cx="1193.1" cy="1159.8" rx="5.3" ry="4.6" fill="#000"/><ellipse cx="1180.2" cy="1164.1" rx="5.3" ry="4.6" fill="#000"/><ellipse cx="1167.7" cy="1168.7" rx="5.3" ry="4.6" fill="#000"/><ellipse cx="1180.2" cy="1174.7" rx="5.3" ry="4.6" fill="#000"/><ellipse cx="1193.1" cy="1174.7" rx="5.3" ry="4.6" fill="#000"/><ellipse cx="1167.7" cy="1180.4" rx="5.3" ry="4.6" fill="#000"/><ellipse cx="1180.2" cy="1187.8" rx="5.3" ry="4.6" fill="#000"/><ellipse cx="1180.2" cy="1198.5" rx="5.3" ry="4.6" fill="#000"/><ellipse cx="1180.2" cy="1216.9" rx="5.3" ry="4.6" fill="#000"/><ellipse cx="1187.8" cy="1279.3" rx="5.3" ry="4.6" fill="#000"/><ellipse cx="1173.2" cy="1285.3" rx="5.3" ry="4.6" fill="#000"/><ellipse cx="1180.2" cy="1326.1" rx="5.3" ry="4.6" fill="#000"/>
<line x1="1229.2" y1="986.8" x2="1229.2" y2="1040.4" stroke="#000" stroke-width="3"/><line x1="1219.7" y1="986.8" x2="1238.7" y2="986.8" stroke="#000" stroke-width="3"/><line x1="1219.7" y1="1040.4" x2="1238.7" y2="1040.4" stroke="#000" stroke-width="3"/><rect x="1213.6" y="999.6" width="31.3" height="26.9" fill="#8e8e8e" stroke="#000" stroke-width="2.8"/><line x1="1213.6" y1="1009.9" x2="1244.8" y2="1009.9" stroke="#000" stroke-width="2.8"/><ellipse cx="1229.2" cy="986.8" rx="5.3" ry="4.6" fill="#000"/><ellipse cx="1229.2" cy="998.2" rx="5.3" ry="4.6" fill="#000"/><ellipse cx="1217.2" cy="1009.9" rx="5.3" ry="4.6" fill="#000"/><ellipse cx="1229.2" cy="1009.9" rx="5.3" ry="4.6" fill="#000"/><ellipse cx="1240.7" cy="1009.9" rx="5.3" ry="4.6" fill="#000"/><ellipse cx="1229.2" cy="1021.2" rx="5.3" ry="4.6" fill="#000"/><ellipse cx="1229.2" cy="1040.4" rx="5.3" ry="4.6" fill="#000"/>
<text x="1205.30" y="1368.70" font-size="28.6" text-anchor="middle" font-weight="normal" fill="#000" >Sternum</text>
<line x1="1334.9" y1="1327" x2="1334.9" y2="1334" stroke="#000" stroke-width="2.2"/>
<line x1="1311.2" y1="991.8" x2="1311.2" y2="1326.1" stroke="#000" stroke-width="3"/><line x1="1301.7" y1="991.8" x2="1320.7" y2="991.8" stroke="#000" stroke-width="3"/><line x1="1301.7" y1="1326.1" x2="1320.7" y2="1326.1" stroke="#000" stroke-width="3"/><rect x="1295.6" y="1298.1" width="31.3" height="28.0" fill="#fff" stroke="#000" stroke-width="2.8"/><line x1="1295.6" y1="1313.7" x2="1326.8" y2="1313.7" stroke="#000" stroke-width="2.8"/><ellipse cx="1311.2" cy="991.8" rx="5.3" ry="4.6" fill="#000"/><ellipse cx="1311.2" cy="1061.3" rx="5.3" ry="4.6" fill="#000"/><ellipse cx="1311.2" cy="1184.3" rx="5.3" ry="4.6" fill="#000"/><ellipse cx="1311.2" cy="1287.5" rx="5.3" ry="4.6" fill="#000"/><ellipse cx="1311.2" cy="1294.5" rx="5.3" ry="4.6" fill="#000"/><ellipse cx="1298.5" cy="1298.1" rx="5.3" ry="4.6" fill="#000"/><ellipse cx="1323.9" cy="1298.1" rx="5.3" ry="4.6" fill="#000"/><ellipse cx="1306.7" cy="1302.3" rx="5.3" ry="4.6" fill="#000"/><ellipse cx="1318.7" cy="1302.3" rx="5.3" ry="4.6" fill="#000"/><ellipse cx="1303.7" cy="1308.4" rx="5.3" ry="4.6" fill="#000"/><ellipse cx="1298.5" cy="1315.8" rx="5.3" ry="4.6" fill="#000"/><ellipse cx="1318.7" cy="1315.8" rx="5.3" ry="4.6" fill="#000"/><ellipse cx="1302.2" cy="1321.8" rx="5.3" ry="4.6" fill="#000"/><ellipse cx="1311.2" cy="1321.8" rx="5.3" ry="4.6" fill="#000"/><ellipse cx="1321.7" cy="1321.8" rx="5.3" ry="4.6" fill="#000"/><ellipse cx="1299.2" cy="1325.0" rx="5.3" ry="4.6" fill="#000"/><ellipse cx="1315.2" cy="1325.0" rx="5.3" ry="4.6" fill="#000"/><ellipse cx="1323.2" cy="1325.0" rx="5.3" ry="4.6" fill="#000"/>
<line x1="1359.5" y1="1016.6" x2="1359.5" y2="1261.9" stroke="#000" stroke-width="3"/><line x1="1350.0" y1="1016.6" x2="1369.0" y2="1016.6" stroke="#000" stroke-width="3"/><line x1="1350.0" y1="1261.9" x2="1369.0" y2="1261.9" stroke="#000" stroke-width="3"/><rect x="1343.9" y="1025.5" width="31.3" height="153.1" fill="#8e8e8e" stroke="#000" stroke-width="2.8"/><line x1="1343.9" y1="1099.6" x2="1375.1" y2="1099.6" stroke="#000" stroke-width="2.8"/><ellipse cx="1359.5" cy="1016.6" rx="5.3" ry="4.6" fill="#000"/><ellipse cx="1359.5" cy="1024.8" rx="5.3" ry="4.6" fill="#000"/><ellipse cx="1359.5" cy="1067.3" rx="5.3" ry="4.6" fill="#000"/><ellipse cx="1359.5" cy="1099.6" rx="5.3" ry="4.6" fill="#000"/><ellipse cx="1359.5" cy="1154.2" rx="5.3" ry="4.6" fill="#000"/><ellipse cx="1359.5" cy="1178.6" rx="5.3" ry="4.6" fill="#000"/><ellipse cx="1359.5" cy="1261.9" rx="5.3" ry="4.6" fill="#000"/>
<text x="1335.90" y="1368.70" font-size="28.6" text-anchor="middle" font-weight="normal" fill="#000" >Vertebrae</text>
<path d="M1049.3,957.3V948.3H1098.6V957.3" fill="none" stroke="#000" stroke-width="1.4"/>
<path d="M1059.25,931.50L1059.25,925.90M1059.25,931.50L1064.58,929.77M1059.25,931.50L1053.92,929.77M1059.25,931.50L1062.54,936.03M1059.25,931.50L1055.96,936.03M1073.95,931.50L1073.95,925.90M1073.95,931.50L1079.28,929.77M1073.95,931.50L1068.62,929.77M1073.95,931.50L1077.24,936.03M1073.95,931.50L1070.66,936.03M1088.65,931.50L1088.65,925.90M1088.65,931.50L1093.98,929.77M1088.65,931.50L1083.32,929.77M1088.65,931.50L1091.94,936.03M1088.65,931.50L1085.36,936.03" fill="none" stroke="#000" stroke-width="2.3"/>
<path d="M1180.5,961.0V952.0H1229.4V961.0" fill="none" stroke="#000" stroke-width="1.4"/>
<path d="M1190.25,935.20L1190.25,929.60M1190.25,935.20L1195.58,933.47M1190.25,935.20L1184.92,933.47M1190.25,935.20L1193.54,939.73M1190.25,935.20L1186.96,939.73M1204.95,935.20L1204.95,929.60M1204.95,935.20L1210.28,933.47M1204.95,935.20L1199.62,933.47M1204.95,935.20L1208.24,939.73M1204.95,935.20L1201.66,939.73M1219.65,935.20L1219.65,929.60M1219.65,935.20L1224.98,933.47M1219.65,935.20L1214.32,933.47M1219.65,935.20L1222.94,939.73M1219.65,935.20L1216.36,939.73" fill="none" stroke="#000" stroke-width="2.3"/>
<path d="M1311.2,982.0V973.0H1359.5V982.0" fill="none" stroke="#000" stroke-width="1.4"/>
<path d="M1320.65,956.20L1320.65,950.60M1320.65,956.20L1325.98,954.47M1320.65,956.20L1315.32,954.47M1320.65,956.20L1323.94,960.73M1320.65,956.20L1317.36,960.73M1335.35,956.20L1335.35,950.60M1335.35,956.20L1340.68,954.47M1335.35,956.20L1330.02,954.47M1335.35,956.20L1338.64,960.73M1335.35,956.20L1332.06,960.73M1350.05,956.20L1350.05,950.60M1350.05,956.20L1355.38,954.47M1350.05,956.20L1344.72,954.47M1350.05,956.20L1353.34,960.73M1350.05,956.20L1346.76,960.73" fill="none" stroke="#000" stroke-width="2.3"/>
<rect x="890" y="894" width="26.3" height="18.7" fill="#fff" stroke="#000" stroke-width="3"/>
<rect x="1106.4" y="894.3" width="25.7" height="18.5" fill="#8e8e8e" stroke="#000" stroke-width="3"/>
<text x="927.50" y="911.50" font-size="28.6" text-anchor="start" font-weight="normal" fill="#000" >&lt;60 years</text>
<text x="1143.30" y="911.50" font-size="28.6" text-anchor="start" font-weight="normal" fill="#000" >&gt;60 years</text>
<text transform="translate(672.5,1149.5) rotate(-90)" x="0" y="0" font-size="28.6" text-anchor="middle">Ad.V/Ma.V (%)</text>
</svg>
</body></html>
